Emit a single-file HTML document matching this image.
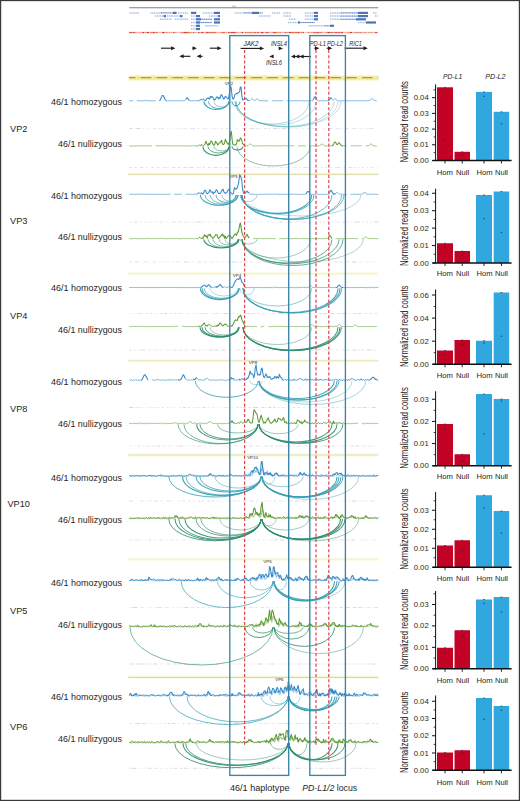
<!DOCTYPE html>
<html><head><meta charset="utf-8"><style>
html,body{margin:0;padding:0;background:#fff;}
svg{display:block;}
text{font-family:"Liberation Sans", sans-serif;fill:#262626;}
</style></head><body>
<svg width="520" height="801" viewBox="0 0 520 801">
<rect x="0" y="0" width="520" height="801" fill="#fff"/>
<line x1="129.3" y1="7.8" x2="378.3" y2="7.8" stroke="#7c7c7c" stroke-width="1.1"/>
<line x1="232" y1="6.2" x2="236" y2="6.2" stroke="#999" stroke-width="0.6"/>
<line x1="129.5" y1="12.9" x2="139" y2="12.9" stroke="#8db0e2" stroke-width="1.5" stroke-dasharray="1.1 0.6" opacity="0.8"/>
<line x1="150.5" y1="12.9" x2="160" y2="12.9" stroke="#8db0e2" stroke-width="1.5" stroke-dasharray="1.1 0.6" opacity="0.8"/>
<line x1="160" y1="12.9" x2="172.7" y2="12.9" stroke="#5d86c8" stroke-width="0.7"/>
<line x1="161.5" y1="12.1" x2="161.5" y2="13.700000000000001" stroke="#5d86c8" stroke-width="0.5"/>
<line x1="163.7" y1="12.1" x2="163.7" y2="13.700000000000001" stroke="#5d86c8" stroke-width="0.5"/>
<line x1="165.9" y1="12.1" x2="165.9" y2="13.700000000000001" stroke="#5d86c8" stroke-width="0.5"/>
<line x1="168.1" y1="12.1" x2="168.1" y2="13.700000000000001" stroke="#5d86c8" stroke-width="0.5"/>
<line x1="170.3" y1="12.1" x2="170.3" y2="13.700000000000001" stroke="#5d86c8" stroke-width="0.5"/>
<rect x="172.7" y="11.8" width="3.9000000000000057" height="2.2" fill="#3b64b0" opacity="0.9"/>
<line x1="178" y1="12.9" x2="188" y2="12.9" stroke="#8db0e2" stroke-width="1.5" stroke-dasharray="1.1 0.6" opacity="0.8"/>
<rect x="191" y="11.8" width="5.300000000000011" height="2.2" fill="#3b64b0" opacity="0.9"/>
<line x1="202.7" y1="12.9" x2="214" y2="12.9" stroke="#8db0e2" stroke-width="1.5" stroke-dasharray="1.1 0.6" opacity="0.8"/>
<rect x="214" y="11.8" width="6" height="2.2" fill="#3b64b0" opacity="0.9"/>
<line x1="234.6" y1="12.9" x2="243" y2="12.9" stroke="#8db0e2" stroke-width="1.5" stroke-dasharray="1.1 0.6" opacity="0.8"/>
<line x1="243" y1="12.9" x2="252" y2="12.9" stroke="#5d86c8" stroke-width="0.7"/>
<line x1="244.5" y1="12.1" x2="244.5" y2="13.700000000000001" stroke="#5d86c8" stroke-width="0.5"/>
<line x1="246.7" y1="12.1" x2="246.7" y2="13.700000000000001" stroke="#5d86c8" stroke-width="0.5"/>
<line x1="248.9" y1="12.1" x2="248.9" y2="13.700000000000001" stroke="#5d86c8" stroke-width="0.5"/>
<line x1="251.1" y1="12.1" x2="251.1" y2="13.700000000000001" stroke="#5d86c8" stroke-width="0.5"/>
<rect x="252" y="11.8" width="7" height="2.2" fill="#3b64b0" opacity="0.9"/>
<line x1="259" y1="12.9" x2="263" y2="12.9" stroke="#5d86c8" stroke-width="0.7"/>
<line x1="260.5" y1="12.1" x2="260.5" y2="13.700000000000001" stroke="#5d86c8" stroke-width="0.5"/>
<line x1="272" y1="12.9" x2="280" y2="12.9" stroke="#8db0e2" stroke-width="1.5" stroke-dasharray="1.1 0.6" opacity="0.8"/>
<line x1="283.5" y1="12.9" x2="291" y2="12.9" stroke="#8db0e2" stroke-width="1.5" stroke-dasharray="1.1 0.6" opacity="0.8"/>
<line x1="305" y1="12.9" x2="314" y2="12.9" stroke="#8db0e2" stroke-width="1.5" stroke-dasharray="1.1 0.6" opacity="0.8"/>
<rect x="314" y="11.8" width="4" height="2.2" fill="#3b64b0" opacity="0.9"/>
<line x1="330" y1="12.9" x2="340" y2="12.9" stroke="#8db0e2" stroke-width="1.5" stroke-dasharray="1.1 0.6" opacity="0.8"/>
<line x1="340" y1="12.9" x2="358" y2="12.9" stroke="#5d86c8" stroke-width="0.7"/>
<line x1="341.5" y1="12.1" x2="341.5" y2="13.700000000000001" stroke="#5d86c8" stroke-width="0.5"/>
<line x1="343.7" y1="12.1" x2="343.7" y2="13.700000000000001" stroke="#5d86c8" stroke-width="0.5"/>
<line x1="345.9" y1="12.1" x2="345.9" y2="13.700000000000001" stroke="#5d86c8" stroke-width="0.5"/>
<line x1="348.1" y1="12.1" x2="348.1" y2="13.700000000000001" stroke="#5d86c8" stroke-width="0.5"/>
<line x1="350.3" y1="12.1" x2="350.3" y2="13.700000000000001" stroke="#5d86c8" stroke-width="0.5"/>
<line x1="352.5" y1="12.1" x2="352.5" y2="13.700000000000001" stroke="#5d86c8" stroke-width="0.5"/>
<line x1="354.7" y1="12.1" x2="354.7" y2="13.700000000000001" stroke="#5d86c8" stroke-width="0.5"/>
<line x1="356.9" y1="12.1" x2="356.9" y2="13.700000000000001" stroke="#5d86c8" stroke-width="0.5"/>
<rect x="358" y="11.8" width="10" height="2.2" fill="#3b64b0" opacity="0.9"/>
<line x1="373" y1="12.9" x2="377" y2="12.9" stroke="#8db0e2" stroke-width="1.5" stroke-dasharray="1.1 0.6" opacity="0.8"/>
<line x1="155" y1="16.1" x2="163" y2="16.1" stroke="#8db0e2" stroke-width="1.5" stroke-dasharray="1.1 0.6" opacity="0.8"/>
<rect x="163.5" y="15.000000000000002" width="2.5" height="2.2" fill="#3b64b0" opacity="0.9"/>
<line x1="167" y1="16.1" x2="180" y2="16.1" stroke="#8db0e2" stroke-width="1.5" stroke-dasharray="1.1 0.6" opacity="0.8"/>
<rect x="180" y="15.000000000000002" width="2.5" height="2.2" fill="#3b64b0" opacity="0.9"/>
<line x1="191" y1="16.1" x2="196" y2="16.1" stroke="#8db0e2" stroke-width="1.5" stroke-dasharray="1.1 0.6" opacity="0.8"/>
<rect x="196" y="15.000000000000002" width="4" height="2.2" fill="#3b64b0" opacity="0.9"/>
<line x1="209" y1="16.1" x2="218" y2="16.1" stroke="#8db0e2" stroke-width="1.5" stroke-dasharray="1.1 0.6" opacity="0.8"/>
<rect x="218" y="15.000000000000002" width="2" height="2.2" fill="#3b64b0" opacity="0.9"/>
<line x1="259" y1="16.1" x2="271" y2="16.1" stroke="#8db0e2" stroke-width="1.5" stroke-dasharray="1.1 0.6" opacity="0.8"/>
<line x1="283.5" y1="16.1" x2="291" y2="16.1" stroke="#8db0e2" stroke-width="1.5" stroke-dasharray="1.1 0.6" opacity="0.8"/>
<line x1="305" y1="16.1" x2="314" y2="16.1" stroke="#8db0e2" stroke-width="1.5" stroke-dasharray="1.1 0.6" opacity="0.8"/>
<rect x="314" y="15.000000000000002" width="4" height="2.2" fill="#3b64b0" opacity="0.9"/>
<line x1="330" y1="16.1" x2="340" y2="16.1" stroke="#8db0e2" stroke-width="1.5" stroke-dasharray="1.1 0.6" opacity="0.8"/>
<line x1="340" y1="16.1" x2="358" y2="16.1" stroke="#5d86c8" stroke-width="0.7"/>
<line x1="341.5" y1="15.3" x2="341.5" y2="16.900000000000002" stroke="#5d86c8" stroke-width="0.5"/>
<line x1="343.7" y1="15.3" x2="343.7" y2="16.900000000000002" stroke="#5d86c8" stroke-width="0.5"/>
<line x1="345.9" y1="15.3" x2="345.9" y2="16.900000000000002" stroke="#5d86c8" stroke-width="0.5"/>
<line x1="348.1" y1="15.3" x2="348.1" y2="16.900000000000002" stroke="#5d86c8" stroke-width="0.5"/>
<line x1="350.3" y1="15.3" x2="350.3" y2="16.900000000000002" stroke="#5d86c8" stroke-width="0.5"/>
<line x1="352.5" y1="15.3" x2="352.5" y2="16.900000000000002" stroke="#5d86c8" stroke-width="0.5"/>
<line x1="354.7" y1="15.3" x2="354.7" y2="16.900000000000002" stroke="#5d86c8" stroke-width="0.5"/>
<line x1="356.9" y1="15.3" x2="356.9" y2="16.900000000000002" stroke="#5d86c8" stroke-width="0.5"/>
<rect x="358" y="15.000000000000002" width="10" height="2.2" fill="#3b64b0" opacity="0.9"/>
<line x1="375" y1="16.1" x2="378" y2="16.1" stroke="#8db0e2" stroke-width="1.5" stroke-dasharray="1.1 0.6" opacity="0.8"/>
<line x1="160" y1="19.3" x2="172" y2="19.3" stroke="#8db0e2" stroke-width="1.5" stroke-dasharray="1.1 0.6" opacity="0.8"/>
<line x1="175" y1="19.3" x2="188" y2="19.3" stroke="#8db0e2" stroke-width="1.5" stroke-dasharray="1.1 0.6" opacity="0.8"/>
<line x1="191" y1="19.3" x2="196" y2="19.3" stroke="#8db0e2" stroke-width="1.5" stroke-dasharray="1.1 0.6" opacity="0.8"/>
<rect x="196" y="18.2" width="5" height="2.2" fill="#3b64b0" opacity="0.9"/>
<line x1="201" y1="19.3" x2="212" y2="19.3" stroke="#5d86c8" stroke-width="0.7"/>
<line x1="202.5" y1="18.5" x2="202.5" y2="20.1" stroke="#5d86c8" stroke-width="0.5"/>
<line x1="204.7" y1="18.5" x2="204.7" y2="20.1" stroke="#5d86c8" stroke-width="0.5"/>
<line x1="206.9" y1="18.5" x2="206.9" y2="20.1" stroke="#5d86c8" stroke-width="0.5"/>
<line x1="209.1" y1="18.5" x2="209.1" y2="20.1" stroke="#5d86c8" stroke-width="0.5"/>
<line x1="211.3" y1="18.5" x2="211.3" y2="20.1" stroke="#5d86c8" stroke-width="0.5"/>
<rect x="214" y="18.2" width="6" height="2.2" fill="#3b64b0" opacity="0.9"/>
<line x1="289" y1="19.3" x2="296" y2="19.3" stroke="#8db0e2" stroke-width="1.5" stroke-dasharray="1.1 0.6" opacity="0.8"/>
<line x1="305" y1="19.3" x2="314" y2="19.3" stroke="#8db0e2" stroke-width="1.5" stroke-dasharray="1.1 0.6" opacity="0.8"/>
<rect x="314" y="18.2" width="4" height="2.2" fill="#3b64b0" opacity="0.9"/>
<line x1="330" y1="19.3" x2="340" y2="19.3" stroke="#8db0e2" stroke-width="1.5" stroke-dasharray="1.1 0.6" opacity="0.8"/>
<line x1="340" y1="19.3" x2="356" y2="19.3" stroke="#5d86c8" stroke-width="0.7"/>
<line x1="341.5" y1="18.5" x2="341.5" y2="20.1" stroke="#5d86c8" stroke-width="0.5"/>
<line x1="343.7" y1="18.5" x2="343.7" y2="20.1" stroke="#5d86c8" stroke-width="0.5"/>
<line x1="345.9" y1="18.5" x2="345.9" y2="20.1" stroke="#5d86c8" stroke-width="0.5"/>
<line x1="348.1" y1="18.5" x2="348.1" y2="20.1" stroke="#5d86c8" stroke-width="0.5"/>
<line x1="350.3" y1="18.5" x2="350.3" y2="20.1" stroke="#5d86c8" stroke-width="0.5"/>
<line x1="352.5" y1="18.5" x2="352.5" y2="20.1" stroke="#5d86c8" stroke-width="0.5"/>
<line x1="354.7" y1="18.5" x2="354.7" y2="20.1" stroke="#5d86c8" stroke-width="0.5"/>
<rect x="356" y="18.2" width="10" height="2.2" fill="#3b64b0" opacity="0.9"/>
<line x1="191" y1="22.5" x2="196" y2="22.5" stroke="#8db0e2" stroke-width="1.5" stroke-dasharray="1.1 0.6" opacity="0.8"/>
<rect x="196" y="21.4" width="4" height="2.2" fill="#3b64b0" opacity="0.9"/>
<line x1="200" y1="22.5" x2="212" y2="22.5" stroke="#5d86c8" stroke-width="0.7"/>
<line x1="201.5" y1="21.7" x2="201.5" y2="23.3" stroke="#5d86c8" stroke-width="0.5"/>
<line x1="203.7" y1="21.7" x2="203.7" y2="23.3" stroke="#5d86c8" stroke-width="0.5"/>
<line x1="205.9" y1="21.7" x2="205.9" y2="23.3" stroke="#5d86c8" stroke-width="0.5"/>
<line x1="208.1" y1="21.7" x2="208.1" y2="23.3" stroke="#5d86c8" stroke-width="0.5"/>
<line x1="210.3" y1="21.7" x2="210.3" y2="23.3" stroke="#5d86c8" stroke-width="0.5"/>
<rect x="214" y="21.4" width="6" height="2.2" fill="#3b64b0" opacity="0.9"/>
<line x1="288" y1="22.5" x2="298" y2="22.5" stroke="#8db0e2" stroke-width="1.5" stroke-dasharray="1.1 0.6" opacity="0.8"/>
<rect x="298" y="21.4" width="2" height="2.2" fill="#3b64b0" opacity="0.9"/>
<line x1="300" y1="22.5" x2="315" y2="22.5" stroke="#5d86c8" stroke-width="0.7"/>
<line x1="301.5" y1="21.7" x2="301.5" y2="23.3" stroke="#5d86c8" stroke-width="0.5"/>
<line x1="303.7" y1="21.7" x2="303.7" y2="23.3" stroke="#5d86c8" stroke-width="0.5"/>
<line x1="305.9" y1="21.7" x2="305.9" y2="23.3" stroke="#5d86c8" stroke-width="0.5"/>
<line x1="308.1" y1="21.7" x2="308.1" y2="23.3" stroke="#5d86c8" stroke-width="0.5"/>
<line x1="310.3" y1="21.7" x2="310.3" y2="23.3" stroke="#5d86c8" stroke-width="0.5"/>
<line x1="312.5" y1="21.7" x2="312.5" y2="23.3" stroke="#5d86c8" stroke-width="0.5"/>
<line x1="358" y1="22.5" x2="366" y2="22.5" stroke="#8db0e2" stroke-width="1.5" stroke-dasharray="1.1 0.6" opacity="0.8"/>
<rect x="366" y="21.4" width="10" height="2.2" fill="#3b64b0" opacity="0.9"/>
<line x1="191" y1="25.8" x2="196" y2="25.8" stroke="#8db0e2" stroke-width="1.5" stroke-dasharray="1.1 0.6" opacity="0.8"/>
<rect x="196" y="24.7" width="4" height="2.2" fill="#3b64b0" opacity="0.9"/>
<line x1="205" y1="25.8" x2="218" y2="25.8" stroke="#8db0e2" stroke-width="1.5" stroke-dasharray="1.1 0.6" opacity="0.8"/>
<line x1="309" y1="25.8" x2="324" y2="25.8" stroke="#8db0e2" stroke-width="1.5" stroke-dasharray="1.1 0.6" opacity="0.8"/>
<line x1="324" y1="25.8" x2="330" y2="25.8" stroke="#5d86c8" stroke-width="0.7"/>
<line x1="325.5" y1="25.0" x2="325.5" y2="26.6" stroke="#5d86c8" stroke-width="0.5"/>
<line x1="327.7" y1="25.0" x2="327.7" y2="26.6" stroke="#5d86c8" stroke-width="0.5"/>
<rect x="330" y="24.7" width="4" height="2.2" fill="#3b64b0" opacity="0.9"/>
<line x1="191" y1="29.0" x2="196" y2="29.0" stroke="#8db0e2" stroke-width="1.5" stroke-dasharray="1.1 0.6" opacity="0.8"/>
<rect x="196" y="27.9" width="4" height="2.2" fill="#3b64b0" opacity="0.9"/>
<rect x="129.3" y="31.9" width="1.4" height="1.3" fill="#d83a36"/>
<rect x="130.7" y="31.9" width="1.8" height="1.3" fill="#d83a36"/>
<rect x="133.1" y="31.9" width="2.5" height="1.3" fill="#e24a44"/>
<rect x="135.6" y="31.9" width="3.3" height="1.3" fill="#f6b0a4"/>
<rect x="139.2" y="31.9" width="2.3" height="1.3" fill="#f39284"/>
<rect x="142.1" y="31.9" width="2.3" height="1.3" fill="#d83a36"/>
<rect x="144.9" y="31.9" width="1.9" height="1.3" fill="#f39284"/>
<rect x="146.8" y="31.9" width="2.5" height="1.3" fill="#d83a36"/>
<rect x="149.9" y="31.9" width="2.8" height="1.3" fill="#ee7e64"/>
<rect x="152.7" y="31.9" width="1.2" height="1.3" fill="#d83a36"/>
<rect x="154.0" y="31.9" width="1.6" height="1.3" fill="#e24a44"/>
<rect x="155.9" y="31.9" width="2.1" height="1.3" fill="#ee7e64"/>
<rect x="158.5" y="31.9" width="2.7" height="1.3" fill="#f6b0a4"/>
<rect x="161.9" y="31.9" width="2.8" height="1.3" fill="#d83a36"/>
<rect x="165.2" y="31.9" width="3.4" height="1.3" fill="#f39284"/>
<rect x="168.9" y="31.9" width="1.1" height="1.3" fill="#f39284"/>
<rect x="170.6" y="31.9" width="1.4" height="1.3" fill="#ee7e64"/>
<rect x="172.6" y="31.9" width="2.9" height="1.3" fill="#ea6a3c"/>
<rect x="176.1" y="31.9" width="2.2" height="1.3" fill="#f6b0a4"/>
<rect x="178.6" y="31.9" width="2.2" height="1.3" fill="#f6b0a4"/>
<rect x="180.8" y="31.9" width="3.2" height="1.3" fill="#ee7e64"/>
<rect x="184.0" y="31.9" width="3.1" height="1.3" fill="#d83a36"/>
<rect x="187.2" y="31.9" width="2.7" height="1.3" fill="#ea6a3c"/>
<rect x="189.8" y="31.9" width="2.7" height="1.3" fill="#f39284"/>
<rect x="192.9" y="31.9" width="1.6" height="1.3" fill="#e24a44"/>
<rect x="195.0" y="31.9" width="3.1" height="1.3" fill="#f6b0a4"/>
<rect x="198.1" y="31.9" width="1.7" height="1.3" fill="#e24a44"/>
<rect x="200.5" y="31.9" width="3.2" height="1.3" fill="#e24a44"/>
<rect x="204.0" y="31.9" width="2.0" height="1.3" fill="#f6b0a4"/>
<rect x="205.9" y="31.9" width="0.9" height="1.3" fill="#d83a36"/>
<rect x="206.9" y="31.9" width="1.8" height="1.3" fill="#d83a36"/>
<rect x="209.0" y="31.9" width="2.3" height="1.3" fill="#ea6a3c"/>
<rect x="211.3" y="31.9" width="3.5" height="1.3" fill="#ea6a3c"/>
<rect x="214.8" y="31.9" width="1.0" height="1.3" fill="#d83a36"/>
<rect x="215.8" y="31.9" width="3.4" height="1.3" fill="#f6b0a4"/>
<rect x="219.4" y="31.9" width="2.4" height="1.3" fill="#f39284"/>
<rect x="221.9" y="31.9" width="3.4" height="1.3" fill="#ea6a3c"/>
<rect x="225.6" y="31.9" width="1.8" height="1.3" fill="#f39284"/>
<rect x="228.0" y="31.9" width="1.8" height="1.3" fill="#d83a36"/>
<rect x="230.4" y="31.9" width="2.5" height="1.3" fill="#d83a36"/>
<rect x="233.0" y="31.9" width="2.5" height="1.3" fill="#d83a36"/>
<rect x="235.7" y="31.9" width="2.0" height="1.3" fill="#ee7e64"/>
<rect x="237.7" y="31.9" width="3.3" height="1.3" fill="#f6b0a4"/>
<rect x="241.3" y="31.9" width="2.2" height="1.3" fill="#d83a36"/>
<rect x="243.8" y="31.9" width="0.8" height="1.3" fill="#f6b0a4"/>
<rect x="245.0" y="31.9" width="0.9" height="1.3" fill="#d83a36"/>
<rect x="245.8" y="31.9" width="1.0" height="1.3" fill="#ee7e64"/>
<rect x="247.1" y="31.9" width="2.1" height="1.3" fill="#ee7e64"/>
<rect x="249.4" y="31.9" width="2.4" height="1.3" fill="#ea6a3c"/>
<rect x="252.5" y="31.9" width="0.9" height="1.3" fill="#e24a44"/>
<rect x="253.3" y="31.9" width="3.4" height="1.3" fill="#ea6a3c"/>
<rect x="257.3" y="31.9" width="1.6" height="1.3" fill="#d83a36"/>
<rect x="259.3" y="31.9" width="1.3" height="1.3" fill="#f39284"/>
<rect x="260.8" y="31.9" width="2.8" height="1.3" fill="#d83a36"/>
<rect x="264.0" y="31.9" width="1.6" height="1.3" fill="#f6b0a4"/>
<rect x="265.6" y="31.9" width="2.9" height="1.3" fill="#e24a44"/>
<rect x="268.5" y="31.9" width="1.6" height="1.3" fill="#f39284"/>
<rect x="270.4" y="31.9" width="1.4" height="1.3" fill="#f39284"/>
<rect x="272.5" y="31.9" width="2.6" height="1.3" fill="#e24a44"/>
<rect x="275.0" y="31.9" width="2.4" height="1.3" fill="#ea6a3c"/>
<rect x="277.4" y="31.9" width="2.0" height="1.3" fill="#f39284"/>
<rect x="279.4" y="31.9" width="1.7" height="1.3" fill="#ee7e64"/>
<rect x="281.1" y="31.9" width="3.2" height="1.3" fill="#f6b0a4"/>
<rect x="284.6" y="31.9" width="1.4" height="1.3" fill="#e24a44"/>
<rect x="286.0" y="31.9" width="2.2" height="1.3" fill="#f39284"/>
<rect x="288.6" y="31.9" width="3.0" height="1.3" fill="#d83a36"/>
<rect x="291.5" y="31.9" width="3.1" height="1.3" fill="#ea6a3c"/>
<rect x="294.7" y="31.9" width="3.0" height="1.3" fill="#ea6a3c"/>
<rect x="297.6" y="31.9" width="1.9" height="1.3" fill="#d83a36"/>
<rect x="299.9" y="31.9" width="2.1" height="1.3" fill="#ee7e64"/>
<rect x="302.5" y="31.9" width="1.6" height="1.3" fill="#d83a36"/>
<rect x="304.7" y="31.9" width="0.9" height="1.3" fill="#f6b0a4"/>
<rect x="305.6" y="31.9" width="1.3" height="1.3" fill="#f6b0a4"/>
<rect x="307.6" y="31.9" width="2.3" height="1.3" fill="#ee7e64"/>
<rect x="309.9" y="31.9" width="0.9" height="1.3" fill="#f6b0a4"/>
<rect x="311.0" y="31.9" width="2.3" height="1.3" fill="#f39284"/>
<rect x="313.3" y="31.9" width="3.1" height="1.3" fill="#ea6a3c"/>
<rect x="316.4" y="31.9" width="3.0" height="1.3" fill="#e24a44"/>
<rect x="319.4" y="31.9" width="3.2" height="1.3" fill="#ee7e64"/>
<rect x="322.7" y="31.9" width="3.2" height="1.3" fill="#f6b0a4"/>
<rect x="325.9" y="31.9" width="0.8" height="1.3" fill="#ee7e64"/>
<rect x="326.7" y="31.9" width="1.3" height="1.3" fill="#ea6a3c"/>
<rect x="328.0" y="31.9" width="2.6" height="1.3" fill="#d83a36"/>
<rect x="331.2" y="31.9" width="0.9" height="1.3" fill="#d83a36"/>
<rect x="332.1" y="31.9" width="1.7" height="1.3" fill="#ea6a3c"/>
<rect x="334.4" y="31.9" width="3.0" height="1.3" fill="#e24a44"/>
<rect x="337.7" y="31.9" width="1.4" height="1.3" fill="#e24a44"/>
<rect x="339.1" y="31.9" width="1.3" height="1.3" fill="#ea6a3c"/>
<rect x="340.4" y="31.9" width="3.0" height="1.3" fill="#e24a44"/>
<rect x="344.0" y="31.9" width="2.5" height="1.3" fill="#f6b0a4"/>
<rect x="346.5" y="31.9" width="2.8" height="1.3" fill="#f39284"/>
<rect x="349.6" y="31.9" width="2.5" height="1.3" fill="#d83a36"/>
<rect x="352.7" y="31.9" width="0.9" height="1.3" fill="#ea6a3c"/>
<rect x="353.7" y="31.9" width="3.1" height="1.3" fill="#f39284"/>
<rect x="356.8" y="31.9" width="1.1" height="1.3" fill="#e24a44"/>
<rect x="358.5" y="31.9" width="3.4" height="1.3" fill="#ee7e64"/>
<rect x="361.9" y="31.9" width="2.2" height="1.3" fill="#f6b0a4"/>
<rect x="364.4" y="31.9" width="1.2" height="1.3" fill="#e24a44"/>
<rect x="366.0" y="31.9" width="1.8" height="1.3" fill="#f6b0a4"/>
<rect x="368.1" y="31.9" width="1.8" height="1.3" fill="#f39284"/>
<rect x="370.2" y="31.9" width="2.0" height="1.3" fill="#f39284"/>
<rect x="372.1" y="31.9" width="2.7" height="1.3" fill="#f6b0a4"/>
<rect x="374.9" y="31.9" width="2.3" height="1.3" fill="#e24a44"/>
<rect x="377.5" y="31.9" width="0.5" height="1.3" fill="#ee7e64"/>
<line x1="161" y1="48.2" x2="172.82" y2="48.2" stroke="#1e1e1e" stroke-width="1.15"/>
<path d="M175.4 48.2 L171.1 46.265 L171.1 50.135000000000005 Z" fill="#1e1e1e"/>
<line x1="192.5" y1="48.2" x2="194.32" y2="48.2" stroke="#1e1e1e" stroke-width="1.15"/>
<path d="M196.9 48.2 L192.6 46.265 L192.6 50.135000000000005 Z" fill="#1e1e1e"/>
<line x1="209.8" y1="48.2" x2="219.01999999999998" y2="48.2" stroke="#1e1e1e" stroke-width="1.15"/>
<path d="M221.6 48.2 L217.29999999999998 46.265 L217.29999999999998 50.135000000000005 Z" fill="#1e1e1e"/>
<line x1="190.4" y1="56.3" x2="181.88000000000002" y2="56.3" stroke="#1e1e1e" stroke-width="1.15"/>
<path d="M179.3 56.3 L183.60000000000002 54.364999999999995 L183.60000000000002 58.235 Z" fill="#1e1e1e"/>
<line x1="202.6" y1="56.3" x2="199.18" y2="56.3" stroke="#1e1e1e" stroke-width="1.15"/>
<path d="M196.6 56.3 L200.9 54.364999999999995 L200.9 58.235 Z" fill="#1e1e1e"/>
<line x1="240.6" y1="48.4" x2="261.62" y2="48.4" stroke="#1e1e1e" stroke-width="1.15"/>
<path d="M264.2 48.4 L259.9 46.464999999999996 L259.9 50.335 Z" fill="#1e1e1e"/>
<line x1="279" y1="48.4" x2="280.42" y2="48.4" stroke="#1e1e1e" stroke-width="1.15"/>
<path d="M283 48.4 L278.7 46.464999999999996 L278.7 50.335 Z" fill="#1e1e1e"/>
<line x1="273" y1="56.4" x2="271.88" y2="56.4" stroke="#1e1e1e" stroke-width="1.15"/>
<path d="M269.3 56.4 L273.6 54.464999999999996 L273.6 58.335 Z" fill="#1e1e1e"/>
<line x1="293" y1="56.5" x2="311" y2="56.5" stroke="#1e1e1e" stroke-width="1.15"/>
<path d="M291.0 56.5 L295.0 54.5 L295.0 58.5 Z" fill="#1e1e1e"/>
<path d="M295.3 56.5 L299.3 54.5 L299.3 58.5 Z" fill="#1e1e1e"/>
<path d="M299.6 56.5 L303.6 54.5 L303.6 58.5 Z" fill="#1e1e1e"/>
<line x1="314.3" y1="48.2" x2="316.72" y2="48.2" stroke="#1e1e1e" stroke-width="1.15"/>
<path d="M319.3 48.2 L315.0 46.265 L315.0 50.135000000000005 Z" fill="#1e1e1e"/>
<line x1="326.7" y1="48.2" x2="329.72" y2="48.2" stroke="#1e1e1e" stroke-width="1.15"/>
<path d="M332.3 48.2 L328.0 46.265 L328.0 50.135000000000005 Z" fill="#1e1e1e"/>
<line x1="344.6" y1="48.2" x2="365.22" y2="48.2" stroke="#1e1e1e" stroke-width="1.15"/>
<path d="M367.8 48.2 L363.5 46.265 L363.5 50.135000000000005 Z" fill="#1e1e1e"/>
<text x="243.5" y="46" font-size="7.2" font-style="italic" fill="#333" textLength="15" lengthAdjust="spacingAndGlyphs">JAK2</text>
<text x="271" y="46" font-size="7.2" font-style="italic" fill="#333" textLength="16" lengthAdjust="spacingAndGlyphs">INSL4</text>
<text x="266" y="64.8" font-size="7.2" font-style="italic" fill="#333" textLength="16" lengthAdjust="spacingAndGlyphs">INSL6</text>
<text x="309.8" y="46" font-size="7.2" font-style="italic" fill="#333" textLength="16.2" lengthAdjust="spacingAndGlyphs">PD-L1</text>
<text x="327" y="46" font-size="7.2" font-style="italic" fill="#333" textLength="16" lengthAdjust="spacingAndGlyphs">PD-L2</text>
<text x="349.2" y="46" font-size="7.2" font-style="italic" fill="#333" textLength="12.5" lengthAdjust="spacingAndGlyphs">RIC1</text>
<rect x="128.8" y="75.6" width="249.5" height="4.8" fill="#f6ec9f"/>
<line x1="128.8" y1="77.7" x2="378.3" y2="77.7" stroke="#a39868" stroke-width="1.3" stroke-dasharray="10.6 5.2" stroke-dashoffset="3.8"/>
<line x1="128.8" y1="77.7" x2="378.3" y2="77.7" stroke="#c4bc98" stroke-width="1" stroke-dasharray="1 15" stroke-dashoffset="-9.5"/>
<line x1="129.3" y1="128.6" x2="132.8" y2="128.6" stroke="#aeaad4" stroke-width="1" opacity="0.42"/>
<line x1="135.6" y1="128.6" x2="140.4" y2="128.6" stroke="#aeaad4" stroke-width="1" opacity="0.47"/>
<line x1="143.2" y1="128.6" x2="144.3" y2="128.6" stroke="#aeaad4" stroke-width="1" opacity="0.48"/>
<line x1="146.3" y1="128.6" x2="149.9" y2="128.6" stroke="#aeaad4" stroke-width="1" opacity="0.16"/>
<line x1="153.2" y1="128.6" x2="156.0" y2="128.6" stroke="#aeaad4" stroke-width="1" opacity="0.33"/>
<line x1="157.5" y1="128.6" x2="160.8" y2="128.6" stroke="#aeaad4" stroke-width="1" opacity="0.20"/>
<line x1="161.6" y1="128.6" x2="163.8" y2="128.6" stroke="#aeaad4" stroke-width="1" opacity="0.41"/>
<line x1="167.0" y1="128.6" x2="168.7" y2="128.6" stroke="#aeaad4" stroke-width="1" opacity="0.17"/>
<line x1="171.6" y1="128.6" x2="175.1" y2="128.6" stroke="#aeaad4" stroke-width="1" opacity="0.12"/>
<line x1="176.2" y1="128.6" x2="180.7" y2="128.6" stroke="#aeaad4" stroke-width="1" opacity="0.20"/>
<line x1="182.1" y1="128.6" x2="187.0" y2="128.6" stroke="#aeaad4" stroke-width="1" opacity="0.23"/>
<line x1="190.2" y1="128.6" x2="195.0" y2="128.6" stroke="#aeaad4" stroke-width="1" opacity="0.38"/>
<line x1="197.3" y1="128.6" x2="199.1" y2="128.6" stroke="#aeaad4" stroke-width="1" opacity="0.38"/>
<line x1="202.4" y1="128.6" x2="207.3" y2="128.6" stroke="#aeaad4" stroke-width="1" opacity="0.23"/>
<line x1="210.5" y1="128.6" x2="213.0" y2="128.6" stroke="#aeaad4" stroke-width="1" opacity="0.18"/>
<line x1="214.2" y1="128.6" x2="215.5" y2="128.6" stroke="#aeaad4" stroke-width="1" opacity="0.35"/>
<line x1="217.1" y1="128.6" x2="218.1" y2="128.6" stroke="#aeaad4" stroke-width="1" opacity="0.25"/>
<line x1="220.7" y1="128.6" x2="223.0" y2="128.6" stroke="#aeaad4" stroke-width="1" opacity="0.30"/>
<line x1="226.0" y1="128.6" x2="228.2" y2="128.6" stroke="#aeaad4" stroke-width="1" opacity="0.39"/>
<line x1="230.3" y1="128.6" x2="231.6" y2="128.6" stroke="#aeaad4" stroke-width="1" opacity="0.13"/>
<line x1="235.0" y1="128.6" x2="239.0" y2="128.6" stroke="#aeaad4" stroke-width="1" opacity="0.13"/>
<line x1="242.1" y1="128.6" x2="246.2" y2="128.6" stroke="#aeaad4" stroke-width="1" opacity="0.34"/>
<line x1="248.0" y1="128.6" x2="249.0" y2="128.6" stroke="#aeaad4" stroke-width="1" opacity="0.19"/>
<line x1="250.0" y1="128.6" x2="254.8" y2="128.6" stroke="#aeaad4" stroke-width="1" opacity="0.41"/>
<line x1="256.1" y1="128.6" x2="260.8" y2="128.6" stroke="#aeaad4" stroke-width="1" opacity="0.25"/>
<line x1="264.2" y1="128.6" x2="266.6" y2="128.6" stroke="#aeaad4" stroke-width="1" opacity="0.41"/>
<line x1="268.8" y1="128.6" x2="270.3" y2="128.6" stroke="#aeaad4" stroke-width="1" opacity="0.42"/>
<line x1="273.1" y1="128.6" x2="277.5" y2="128.6" stroke="#aeaad4" stroke-width="1" opacity="0.48"/>
<line x1="278.4" y1="128.6" x2="279.8" y2="128.6" stroke="#aeaad4" stroke-width="1" opacity="0.35"/>
<line x1="281.5" y1="128.6" x2="286.2" y2="128.6" stroke="#aeaad4" stroke-width="1" opacity="0.47"/>
<line x1="287.9" y1="128.6" x2="291.1" y2="128.6" stroke="#aeaad4" stroke-width="1" opacity="0.24"/>
<line x1="292.7" y1="128.6" x2="294.4" y2="128.6" stroke="#aeaad4" stroke-width="1" opacity="0.18"/>
<line x1="295.4" y1="128.6" x2="299.2" y2="128.6" stroke="#aeaad4" stroke-width="1" opacity="0.18"/>
<line x1="302.7" y1="128.6" x2="303.9" y2="128.6" stroke="#aeaad4" stroke-width="1" opacity="0.32"/>
<line x1="307.3" y1="128.6" x2="310.0" y2="128.6" stroke="#aeaad4" stroke-width="1" opacity="0.35"/>
<line x1="311.4" y1="128.6" x2="315.7" y2="128.6" stroke="#aeaad4" stroke-width="1" opacity="0.28"/>
<line x1="317.7" y1="128.6" x2="319.0" y2="128.6" stroke="#aeaad4" stroke-width="1" opacity="0.13"/>
<line x1="322.2" y1="128.6" x2="325.2" y2="128.6" stroke="#aeaad4" stroke-width="1" opacity="0.17"/>
<line x1="328.3" y1="128.6" x2="332.2" y2="128.6" stroke="#aeaad4" stroke-width="1" opacity="0.36"/>
<line x1="335.6" y1="128.6" x2="339.7" y2="128.6" stroke="#aeaad4" stroke-width="1" opacity="0.29"/>
<line x1="340.8" y1="128.6" x2="342.4" y2="128.6" stroke="#aeaad4" stroke-width="1" opacity="0.23"/>
<line x1="345.5" y1="128.6" x2="348.3" y2="128.6" stroke="#aeaad4" stroke-width="1" opacity="0.44"/>
<line x1="351.8" y1="128.6" x2="356.7" y2="128.6" stroke="#aeaad4" stroke-width="1" opacity="0.31"/>
<line x1="358.7" y1="128.6" x2="362.6" y2="128.6" stroke="#aeaad4" stroke-width="1" opacity="0.23"/>
<line x1="364.7" y1="128.6" x2="367.4" y2="128.6" stroke="#aeaad4" stroke-width="1" opacity="0.26"/>
<line x1="368.5" y1="128.6" x2="373.5" y2="128.6" stroke="#aeaad4" stroke-width="1" opacity="0.36"/>
<line x1="376.9" y1="128.6" x2="378.3" y2="128.6" stroke="#aeaad4" stroke-width="1" opacity="0.15"/>
<line x1="129.3" y1="167.6" x2="131.4" y2="167.6" stroke="#aeaad4" stroke-width="1" opacity="0.45"/>
<line x1="134.3" y1="167.6" x2="136.7" y2="167.6" stroke="#aeaad4" stroke-width="1" opacity="0.41"/>
<line x1="139.7" y1="167.6" x2="143.4" y2="167.6" stroke="#aeaad4" stroke-width="1" opacity="0.41"/>
<line x1="146.0" y1="167.6" x2="148.5" y2="167.6" stroke="#aeaad4" stroke-width="1" opacity="0.23"/>
<line x1="151.2" y1="167.6" x2="154.1" y2="167.6" stroke="#aeaad4" stroke-width="1" opacity="0.38"/>
<line x1="157.0" y1="167.6" x2="159.2" y2="167.6" stroke="#aeaad4" stroke-width="1" opacity="0.37"/>
<line x1="162.5" y1="167.6" x2="165.9" y2="167.6" stroke="#aeaad4" stroke-width="1" opacity="0.33"/>
<line x1="166.7" y1="167.6" x2="168.7" y2="167.6" stroke="#aeaad4" stroke-width="1" opacity="0.30"/>
<line x1="171.3" y1="167.6" x2="175.6" y2="167.6" stroke="#aeaad4" stroke-width="1" opacity="0.42"/>
<line x1="178.1" y1="167.6" x2="180.5" y2="167.6" stroke="#aeaad4" stroke-width="1" opacity="0.40"/>
<line x1="183.1" y1="167.6" x2="187.4" y2="167.6" stroke="#aeaad4" stroke-width="1" opacity="0.44"/>
<line x1="189.1" y1="167.6" x2="193.6" y2="167.6" stroke="#aeaad4" stroke-width="1" opacity="0.49"/>
<line x1="196.3" y1="167.6" x2="201.1" y2="167.6" stroke="#aeaad4" stroke-width="1" opacity="0.32"/>
<line x1="203.3" y1="167.6" x2="204.9" y2="167.6" stroke="#aeaad4" stroke-width="1" opacity="0.48"/>
<line x1="208.0" y1="167.6" x2="210.9" y2="167.6" stroke="#aeaad4" stroke-width="1" opacity="0.39"/>
<line x1="213.6" y1="167.6" x2="217.5" y2="167.6" stroke="#aeaad4" stroke-width="1" opacity="0.42"/>
<line x1="218.8" y1="167.6" x2="222.1" y2="167.6" stroke="#aeaad4" stroke-width="1" opacity="0.28"/>
<line x1="224.7" y1="167.6" x2="228.2" y2="167.6" stroke="#aeaad4" stroke-width="1" opacity="0.36"/>
<line x1="231.1" y1="167.6" x2="235.0" y2="167.6" stroke="#aeaad4" stroke-width="1" opacity="0.18"/>
<line x1="235.8" y1="167.6" x2="238.6" y2="167.6" stroke="#aeaad4" stroke-width="1" opacity="0.20"/>
<line x1="241.1" y1="167.6" x2="244.9" y2="167.6" stroke="#aeaad4" stroke-width="1" opacity="0.14"/>
<line x1="247.4" y1="167.6" x2="250.3" y2="167.6" stroke="#aeaad4" stroke-width="1" opacity="0.14"/>
<line x1="251.7" y1="167.6" x2="253.2" y2="167.6" stroke="#aeaad4" stroke-width="1" opacity="0.19"/>
<line x1="254.9" y1="167.6" x2="256.7" y2="167.6" stroke="#aeaad4" stroke-width="1" opacity="0.30"/>
<line x1="257.6" y1="167.6" x2="260.1" y2="167.6" stroke="#aeaad4" stroke-width="1" opacity="0.34"/>
<line x1="262.5" y1="167.6" x2="264.5" y2="167.6" stroke="#aeaad4" stroke-width="1" opacity="0.12"/>
<line x1="267.7" y1="167.6" x2="270.3" y2="167.6" stroke="#aeaad4" stroke-width="1" opacity="0.28"/>
<line x1="271.9" y1="167.6" x2="273.4" y2="167.6" stroke="#aeaad4" stroke-width="1" opacity="0.26"/>
<line x1="276.4" y1="167.6" x2="277.5" y2="167.6" stroke="#aeaad4" stroke-width="1" opacity="0.16"/>
<line x1="280.0" y1="167.6" x2="283.2" y2="167.6" stroke="#aeaad4" stroke-width="1" opacity="0.34"/>
<line x1="284.9" y1="167.6" x2="289.7" y2="167.6" stroke="#aeaad4" stroke-width="1" opacity="0.28"/>
<line x1="292.7" y1="167.6" x2="297.0" y2="167.6" stroke="#aeaad4" stroke-width="1" opacity="0.26"/>
<line x1="299.5" y1="167.6" x2="301.1" y2="167.6" stroke="#aeaad4" stroke-width="1" opacity="0.33"/>
<line x1="303.5" y1="167.6" x2="308.3" y2="167.6" stroke="#aeaad4" stroke-width="1" opacity="0.35"/>
<line x1="311.7" y1="167.6" x2="314.1" y2="167.6" stroke="#aeaad4" stroke-width="1" opacity="0.12"/>
<line x1="317.4" y1="167.6" x2="318.8" y2="167.6" stroke="#aeaad4" stroke-width="1" opacity="0.35"/>
<line x1="321.1" y1="167.6" x2="322.7" y2="167.6" stroke="#aeaad4" stroke-width="1" opacity="0.46"/>
<line x1="325.2" y1="167.6" x2="327.7" y2="167.6" stroke="#aeaad4" stroke-width="1" opacity="0.21"/>
<line x1="329.7" y1="167.6" x2="331.8" y2="167.6" stroke="#aeaad4" stroke-width="1" opacity="0.26"/>
<line x1="335.2" y1="167.6" x2="340.1" y2="167.6" stroke="#aeaad4" stroke-width="1" opacity="0.35"/>
<line x1="343.4" y1="167.6" x2="345.4" y2="167.6" stroke="#aeaad4" stroke-width="1" opacity="0.31"/>
<line x1="348.8" y1="167.6" x2="351.5" y2="167.6" stroke="#aeaad4" stroke-width="1" opacity="0.49"/>
<line x1="353.2" y1="167.6" x2="356.1" y2="167.6" stroke="#aeaad4" stroke-width="1" opacity="0.30"/>
<line x1="357.7" y1="167.6" x2="359.2" y2="167.6" stroke="#aeaad4" stroke-width="1" opacity="0.29"/>
<line x1="361.7" y1="167.6" x2="363.8" y2="167.6" stroke="#aeaad4" stroke-width="1" opacity="0.43"/>
<line x1="366.8" y1="167.6" x2="367.8" y2="167.6" stroke="#aeaad4" stroke-width="1" opacity="0.22"/>
<line x1="370.0" y1="167.6" x2="374.8" y2="167.6" stroke="#aeaad4" stroke-width="1" opacity="0.21"/>
<line x1="377.7" y1="167.6" x2="378.3" y2="167.6" stroke="#aeaad4" stroke-width="1" opacity="0.50"/>
<path d="M203.7 101.4 A12.7 8.9 0 0 0 229.0 101.4" fill="none" stroke="#35a0b4" stroke-width="1.10" opacity="0.95"/>
<path d="M208.5 101.4 A10.2 7.1 0 0 0 229.0 101.4" fill="none" stroke="#35a0b4" stroke-width="0.99" opacity="0.83"/>
<path d="M214.0 101.4 A7.5 5.6 0 0 0 229.0 101.4" fill="none" stroke="#35a0b4" stroke-width="0.83" opacity="0.65"/>
<path d="M232.0 101.4 A4.0 4.2 0 0 0 240.0 101.4" fill="none" stroke="#35a0b4" stroke-width="1.10" opacity="0.95"/>
<path d="M235.0 101.4 A37.0 22.6 0 0 0 309.0 101.4" fill="none" stroke="#35a0b4" stroke-width="0.72" opacity="0.53"/>
<path d="M235.0 101.4 A40.5 23.6 0 0 0 316.0 101.4" fill="none" stroke="#35a0b4" stroke-width="0.69" opacity="0.50"/>
<path d="M236.0 101.4 A49.0 25.1 0 0 0 334.0 101.4" fill="none" stroke="#35a0b4" stroke-width="0.72" opacity="0.53"/>
<path d="M236.0 101.4 A51.0 25.6 0 0 0 338.0 101.4" fill="none" stroke="#35a0b4" stroke-width="0.66" opacity="0.47"/>
<path d="M236.0 101.4 A52.5 25.6 0 0 0 341.0 101.4" fill="none" stroke="#35a0b4" stroke-width="0.66" opacity="0.47"/>
<path d="M203.0 146.5 A13.0 8.9 0 0 0 229.0 146.5" fill="none" stroke="#2a8b66" stroke-width="1.10" opacity="0.95"/>
<path d="M208.0 146.5 A10.5 6.5 0 0 0 229.0 146.5" fill="none" stroke="#2a8b66" stroke-width="0.94" opacity="0.77"/>
<path d="M214.0 146.5 A7.5 4.5 0 0 0 229.0 146.5" fill="none" stroke="#2a8b66" stroke-width="0.83" opacity="0.65"/>
<path d="M232.0 146.5 A5.5 3.5 0 0 0 243.0 146.5" fill="none" stroke="#2a8b66" stroke-width="1.10" opacity="0.95"/>
<path d="M237.0 146.5 A36.5 19.5 0 0 0 310.0 146.5" fill="none" stroke="#2a8b66" stroke-width="0.83" opacity="0.65"/>
<path d="M129.3 100.8 130.1 100.7 130.8 100.9 131.6 100.6 132.3 100.9 133.1 100.7" fill="none" stroke="#5ea5d3" stroke-width="0.9" stroke-linejoin="round" opacity="0.90"/>
<path d="M136.8 100.5 137.6 100.8 138.3 100.7 139.1 100.8 139.8 100.8 140.6 100.6 141.3 100.9 142.1 100.8 142.8 100.8 143.6 100.7 144.3 100.5 145.1 100.5 145.8 100.8 146.6 100.4 147.3 100.5 148.1 100.8 148.8 100.9 149.6 100.8 150.3 100.8 151.1 100.8 151.8 100.7 152.6 100.9 153.3 100.9 154.1 100.6 154.8 100.8 155.6 100.5" fill="none" stroke="#5ea5d3" stroke-width="0.9" stroke-linejoin="round" opacity="0.90"/>
<path d="M159.3 100.7 160.1 100.2 160.8 98.4 161.6 96.9 162.3 95.4 163.1 95.4 163.8 96.7 164.6 98.3 165.3 100.0 166.1 100.4 166.8 100.7" fill="none" stroke="#3389c8" stroke-width="1.05" stroke-linejoin="round" opacity="1.00"/>
<path d="M166.8 100.7 167.6 100.9 168.3 100.8 169.1 100.7 169.8 100.6 170.6 100.9 171.3 100.7 172.1 100.5 172.8 100.8 173.6 100.8 174.3 100.6 175.1 100.5 175.8 100.8 176.6 100.6 177.3 100.7 178.1 100.9 178.8 100.8 179.6 100.8 180.3 100.7 181.1 100.5 181.8 100.7 182.6 100.6 183.3 100.9 184.1 100.7 184.8 100.3 185.6 99.6" fill="none" stroke="#5ea5d3" stroke-width="0.9" stroke-linejoin="round" opacity="0.90"/>
<path d="M185.6 99.6 186.3 98.5 187.1 97.7 187.8 98.4 188.6 99.7 189.3 100.6" fill="none" stroke="#3389c8" stroke-width="1.05" stroke-linejoin="round" opacity="1.00"/>
<path d="M189.3 100.6 190.1 100.6 190.8 100.9 191.6 100.9 192.3 100.8 193.1 100.8 193.8 100.6 194.6 100.8 195.3 100.8 196.1 100.7 196.8 100.7" fill="none" stroke="#5ea5d3" stroke-width="0.9" stroke-linejoin="round" opacity="0.90"/>
<path d="M196.8 100.7 197.6 100.8 198.3 100.8 199.1 100.1 199.8 100.4 200.6 99.9 201.3 99.0 202.1 100.3 202.8 99.5 203.6 98.6 204.3 100.6" fill="none" stroke="#3389c8" stroke-width="0.95" stroke-linejoin="round" opacity="0.90"/>
<path d="M204.3 100.6 205.1 100.5 205.8 100.2 206.6 98.8 207.3 98.2 208.1 97.9 208.8 98.5 209.6 99.2 210.3 96.5 211.1 97.4 211.8 96.4 212.6 97.2 213.3 98.1 214.1 100.1 214.8 99.5 215.6 99.2 216.3 97.1 217.1 96.9 217.8 97.6 218.6 98.9 219.3 97.5 220.1 98.3 220.8 95.3 221.6 94.8 222.3 96.1 223.1 97.7 223.8 99.2 224.6 98.2 225.3 96.2 226.1 96.9 226.8 97.7 227.6 98.3 228.3 99.1 229.1 95.2 229.8 90.1 230.6 85.5 231.3 88.8 232.1 96.3 232.8 98.8 233.6 99.1 234.3 96.7 235.1 94.4 235.8 93.9 236.6 93.5 237.3 93.7 238.1 92.7 238.8 92.5 239.6 91.6 240.3 87.0 241.1 87.3 241.8 95.2 242.6 100.0 243.3 99.6 244.1 99.3 244.8 99.1 245.6 98.4 246.3 98.6 247.1 99.7 247.8 100.4 248.6 100.6 249.3 100.7" fill="none" stroke="#3389c8" stroke-width="1.05" stroke-linejoin="round" opacity="1.00"/>
<path d="M249.3 100.7 250.1 100.4 250.8 99.7 251.6 99.0 252.3 98.8 253.1 99.3 253.8 100.3 254.6 100.6 255.3 100.1 256.1 99.4 256.8 98.8 257.6 99.0 258.3 99.9 259.1 100.5 259.8 100.7 260.6 100.5 261.3 100.8 262.1 100.8 262.8 100.7 263.6 100.8 264.3 100.8 265.1 100.5 265.8 100.8 266.6 100.9 267.3 100.9 268.1 100.9" fill="none" stroke="#5ea5d3" stroke-width="0.9" stroke-linejoin="round" opacity="0.90"/>
<path d="M271.8 100.7 272.6 100.8 273.3 100.8 274.1 100.9 274.8 100.9 275.6 100.6 276.3 100.7 277.1 100.5 277.8 100.9 278.6 100.7 279.3 100.8 280.1 100.8 280.8 100.7 281.6 100.6 282.3 100.6 283.1 100.6" fill="none" stroke="#5ea5d3" stroke-width="0.9" stroke-linejoin="round" opacity="0.90"/>
<path d="M286.8 100.9 287.6 100.7 288.3 100.9 289.1 100.9 289.8 100.6 290.6 100.9 291.3 100.7 292.1 100.7 292.8 100.7 293.6 100.8 294.3 100.8 295.1 100.9 295.8 100.5 296.6 100.8 297.3 100.7 298.1 100.7 298.8 100.7 299.6 100.9 300.3 100.6 301.1 100.8 301.8 100.9 302.6 100.8 303.3 100.8 304.1 100.8 304.8 100.9 305.6 100.9 306.3 100.8 307.1 100.5 307.8 100.8 308.6 100.8 309.3 100.8 310.1 100.5 310.8 100.7 311.6 100.4 312.3 100.7 313.1 100.1" fill="none" stroke="#5ea5d3" stroke-width="0.9" stroke-linejoin="round" opacity="0.90"/>
<path d="M313.1 100.1 313.8 98.6 314.6 97.0 315.3 96.7 316.1 98.1 316.8 99.9" fill="none" stroke="#3389c8" stroke-width="1.05" stroke-linejoin="round" opacity="1.00"/>
<path d="M316.8 99.9 317.6 100.6 318.3 100.8 319.1 100.8 319.8 100.9 320.6 100.6 321.3 100.6 322.1 100.8 322.8 100.5 323.6 100.9 324.3 100.7 325.1 100.6 325.8 100.9 326.6 100.9 327.3 100.4 328.1 100.7" fill="none" stroke="#5ea5d3" stroke-width="0.9" stroke-linejoin="round" opacity="0.90"/>
<path d="M328.1 100.7 328.8 100.3 329.6 99.7 330.3 98.3 331.1 97.8 331.8 98.6" fill="none" stroke="#3389c8" stroke-width="1.05" stroke-linejoin="round" opacity="1.00"/>
<path d="M331.8 98.6 332.6 99.6 333.3 100.0 334.1 99.4 334.8 98.8 335.6 98.7 336.3 99.8 337.1 100.5 337.8 100.7 338.6 100.9 339.3 100.8 340.1 100.8 340.8 100.9 341.6 100.8 342.3 100.8 343.1 100.8 343.8 100.8 344.6 100.8 345.3 100.9 346.1 100.7 346.8 100.9 347.6 100.9 348.3 100.9 349.1 100.9 349.8 100.3 350.6 100.9 351.3 100.9 352.1 100.7 352.8 100.8 353.6 100.8 354.3 100.7 355.1 100.8 355.8 100.9 356.6 100.7 357.3 100.8 358.1 100.8 358.8 100.6 359.6 100.7 360.3 100.7 361.1 100.6 361.8 100.8 362.6 100.8 363.3 100.8 364.1 100.9 364.8 100.9 365.6 100.8 366.3 100.7 367.1 100.8 367.8 100.7 368.6 100.6 369.3 100.7 370.1 100.1 370.8 99.7 371.6 98.8 372.3 98.8 373.1 99.5 373.8 100.3 374.6 100.4 375.3 100.8 376.1 100.7 376.8 100.7" fill="none" stroke="#5ea5d3" stroke-width="0.9" stroke-linejoin="round" opacity="0.90"/>
<path d="M129.3 145.9 130.1 146.0 130.8 146.0 131.6 145.9 132.3 145.9 133.1 145.9 133.8 145.8 134.6 146.0 135.3 146.0 136.1 146.0 136.8 146.0 137.6 145.8 138.3 145.9 139.1 145.6 139.8 145.9 140.6 145.7 141.3 145.9 142.1 145.9 142.8 145.7 143.6 145.9 144.3 145.7 145.1 146.0 145.8 145.9 146.6 145.9 147.3 145.8 148.1 145.8 148.8 145.9 149.6 145.8 150.3 146.0 151.1 145.9 151.8 146.0" fill="none" stroke="#86b660" stroke-width="0.9" stroke-linejoin="round" opacity="0.90"/>
<path d="M155.6 145.8 156.3 146.0 157.1 145.7 157.8 145.7 158.6 145.9 159.3 145.9 160.1 145.4 160.8 145.4 161.6 145.9 162.3 145.9 163.1 145.6 163.8 145.7 164.6 145.8 165.3 145.8 166.1 145.8 166.8 145.8 167.6 145.7 168.3 145.9 169.1 145.7 169.8 145.9 170.6 145.8 171.3 145.8 172.1 146.0 172.8 145.9 173.6 145.7 174.3 145.8 175.1 146.0 175.8 145.9 176.6 145.9 177.3 145.7 178.1 146.0 178.8 145.9 179.6 145.8 180.3 146.0 181.1 146.0 181.8 145.4 182.6 145.8 183.3 146.0 184.1 145.9 184.8 145.9 185.6 146.0 186.3 145.8 187.1 145.9 187.8 145.9 188.6 146.0 189.3 145.9 190.1 145.9 190.8 146.0 191.6 146.0 192.3 145.5 193.1 146.0 193.8 145.7 194.6 145.9 195.3 145.9 196.1 146.0 196.8 146.0" fill="none" stroke="#86b660" stroke-width="0.9" stroke-linejoin="round" opacity="0.90"/>
<path d="M196.8 146.0 197.6 146.0 198.3 145.8 199.1 145.1 199.8 145.1 200.6 145.8 201.3 144.3 202.1 145.5 202.8 145.2 203.6 145.7 204.3 145.1" fill="none" stroke="#5c9832" stroke-width="0.95" stroke-linejoin="round" opacity="0.90"/>
<path d="M204.3 145.1 205.1 143.7 205.8 141.3 206.6 143.0 207.3 144.6 208.1 145.4 208.8 143.3 209.6 144.6 210.3 142.8 211.1 140.9 211.8 141.5 212.6 143.3 213.3 144.9 214.1 145.2 214.8 144.0 215.6 141.2 216.3 142.4 217.1 143.3 217.8 145.0 218.6 144.0 219.3 142.7 220.1 142.7 220.8 141.9 221.6 140.2 222.3 143.6 223.1 144.6 223.8 144.3 224.6 143.0 225.3 139.3 226.1 141.1 226.8 142.8 227.6 143.0 228.3 144.8 229.1 142.5 229.8 140.3 230.6 133.7 231.3 131.3 232.1 139.4 232.8 144.1 233.6 145.0 234.3 145.0 235.1 144.7 235.8 144.9 236.6 143.5 237.3 139.6 238.1 140.3 238.8 141.2 239.6 140.7 240.3 137.9 241.1 138.6 241.8 140.3 242.6 143.9 243.3 143.9 244.1 145.3 244.8 145.9 245.6 145.8" fill="none" stroke="#5c9832" stroke-width="1.05" stroke-linejoin="round" opacity="1.00"/>
<path d="M245.6 145.8 246.3 146.0 247.1 145.9 247.8 145.7 248.6 144.9 249.3 144.3 250.1 143.8 250.8 144.2 251.6 145.1 252.3 145.7 253.1 145.9 253.8 145.9 254.6 145.8 255.3 146.0 256.1 145.8 256.8 145.9 257.6 145.8 258.3 145.8 259.1 145.7 259.8 145.9 260.6 145.8 261.3 145.8 262.1 145.8 262.8 145.9 263.6 146.0 264.3 145.7 265.1 145.8 265.8 145.7 266.6 145.9 267.3 145.5 268.1 145.9 268.8 145.9 269.6 145.9 270.3 145.9 271.1 145.7 271.8 145.9 272.6 145.6 273.3 145.8 274.1 145.9 274.8 145.8 275.6 145.9 276.3 145.9 277.1 145.7 277.8 145.8 278.6 146.0 279.3 145.9 280.1 145.9 280.8 145.9 281.6 145.8 282.3 145.5 283.1 145.6 283.8 145.8 284.6 145.7 285.3 145.9 286.1 145.9 286.8 145.8 287.6 146.0 288.3 145.4 289.1 145.9 289.8 145.7 290.6 145.9 291.3 145.8 292.1 145.9 292.8 145.8 293.6 145.8 294.3 145.9" fill="none" stroke="#86b660" stroke-width="0.9" stroke-linejoin="round" opacity="0.90"/>
<path d="M298.1 146.0 298.8 145.9 299.6 145.9 300.3 145.8 301.1 145.7 301.8 145.9 302.6 145.9 303.3 145.8 304.1 145.9 304.8 145.9 305.6 146.0" fill="none" stroke="#86b660" stroke-width="0.9" stroke-linejoin="round" opacity="0.90"/>
<path d="M309.3 145.8 310.1 145.7 310.8 145.9 311.6 145.8 312.3 145.7 313.1 145.9 313.8 145.8 314.6 145.7 315.3 146.0 316.1 145.8 316.8 145.9 317.6 146.0 318.3 145.8 319.1 145.8 319.8 145.7 320.6 145.0 321.3 144.2 322.1 143.8 322.8 144.3 323.6 145.1 324.3 145.8 325.1 145.8 325.8 146.0 326.6 145.9 327.3 145.9 328.1 145.8 328.8 145.7 329.6 145.9 330.3 145.9 331.1 146.0 331.8 145.8" fill="none" stroke="#86b660" stroke-width="0.9" stroke-linejoin="round" opacity="0.90"/>
<path d="M331.8 145.8 332.6 145.6 333.3 144.6 334.1 142.9 334.8 142.0 335.6 142.2 336.3 143.9 337.1 144.6 337.8 144.2 338.6 142.8 339.3 143.0 340.1 143.8 340.8 145.1 341.6 145.8 342.3 145.7 343.1 145.9" fill="none" stroke="#5c9832" stroke-width="1.05" stroke-linejoin="round" opacity="1.00"/>
<path d="M343.1 145.9 343.8 145.9 344.6 145.6 345.3 145.8 346.1 146.0 346.8 145.9" fill="none" stroke="#86b660" stroke-width="0.9" stroke-linejoin="round" opacity="0.90"/>
<path d="M350.6 145.9 351.3 145.7 352.1 145.9 352.8 145.8 353.6 145.9 354.3 145.5 355.1 145.9 355.8 145.9 356.6 145.8 357.3 145.7 358.1 145.9 358.8 145.9 359.6 145.8 360.3 145.6 361.1 145.7 361.8 145.8" fill="none" stroke="#86b660" stroke-width="0.9" stroke-linejoin="round" opacity="0.90"/>
<path d="M365.6 145.9 366.3 145.8 367.1 145.8 367.8 145.8 368.6 145.5 369.3 145.4 370.1 144.4 370.8 143.8 371.6 144.1 372.3 145.1 373.1 145.6 373.8 145.8 374.6 145.8 375.3 145.9 376.1 146.0 376.8 145.9" fill="none" stroke="#86b660" stroke-width="0.9" stroke-linejoin="round" opacity="0.90"/>
<text x="229" y="84.6" text-anchor="middle" font-size="4.4" fill="#444">VP2</text>
<rect x="128.3" y="172.5" width="250.0" height="3.6" fill="#fdfce8"/>
<line x1="128.3" y1="174.3" x2="378.3" y2="174.3" stroke="#dcd6a6" stroke-width="1.1"/>
<line x1="129.3" y1="222" x2="131.5" y2="222" stroke="#aeaad4" stroke-width="1" opacity="0.30"/>
<line x1="133.9" y1="222" x2="137.5" y2="222" stroke="#aeaad4" stroke-width="1" opacity="0.40"/>
<line x1="139.9" y1="222" x2="141.4" y2="222" stroke="#aeaad4" stroke-width="1" opacity="0.23"/>
<line x1="144.3" y1="222" x2="147.4" y2="222" stroke="#aeaad4" stroke-width="1" opacity="0.23"/>
<line x1="149.1" y1="222" x2="152.2" y2="222" stroke="#aeaad4" stroke-width="1" opacity="0.26"/>
<line x1="154.3" y1="222" x2="158.2" y2="222" stroke="#aeaad4" stroke-width="1" opacity="0.13"/>
<line x1="160.6" y1="222" x2="162.6" y2="222" stroke="#aeaad4" stroke-width="1" opacity="0.47"/>
<line x1="164.7" y1="222" x2="169.2" y2="222" stroke="#aeaad4" stroke-width="1" opacity="0.13"/>
<line x1="171.5" y1="222" x2="175.6" y2="222" stroke="#aeaad4" stroke-width="1" opacity="0.34"/>
<line x1="177.6" y1="222" x2="181.4" y2="222" stroke="#aeaad4" stroke-width="1" opacity="0.30"/>
<line x1="183.9" y1="222" x2="188.6" y2="222" stroke="#aeaad4" stroke-width="1" opacity="0.27"/>
<line x1="190.4" y1="222" x2="194.8" y2="222" stroke="#aeaad4" stroke-width="1" opacity="0.23"/>
<line x1="196.1" y1="222" x2="200.5" y2="222" stroke="#aeaad4" stroke-width="1" opacity="0.44"/>
<line x1="201.4" y1="222" x2="205.2" y2="222" stroke="#aeaad4" stroke-width="1" opacity="0.23"/>
<line x1="207.2" y1="222" x2="211.3" y2="222" stroke="#aeaad4" stroke-width="1" opacity="0.17"/>
<line x1="214.6" y1="222" x2="217.5" y2="222" stroke="#aeaad4" stroke-width="1" opacity="0.31"/>
<line x1="219.8" y1="222" x2="222.1" y2="222" stroke="#aeaad4" stroke-width="1" opacity="0.34"/>
<line x1="223.3" y1="222" x2="227.5" y2="222" stroke="#aeaad4" stroke-width="1" opacity="0.21"/>
<line x1="228.5" y1="222" x2="232.8" y2="222" stroke="#aeaad4" stroke-width="1" opacity="0.37"/>
<line x1="235.7" y1="222" x2="236.8" y2="222" stroke="#aeaad4" stroke-width="1" opacity="0.49"/>
<line x1="239.6" y1="222" x2="244.6" y2="222" stroke="#aeaad4" stroke-width="1" opacity="0.14"/>
<line x1="247.3" y1="222" x2="251.7" y2="222" stroke="#aeaad4" stroke-width="1" opacity="0.37"/>
<line x1="253.0" y1="222" x2="257.9" y2="222" stroke="#aeaad4" stroke-width="1" opacity="0.17"/>
<line x1="260.6" y1="222" x2="262.8" y2="222" stroke="#aeaad4" stroke-width="1" opacity="0.18"/>
<line x1="266.0" y1="222" x2="269.5" y2="222" stroke="#aeaad4" stroke-width="1" opacity="0.18"/>
<line x1="271.4" y1="222" x2="274.9" y2="222" stroke="#aeaad4" stroke-width="1" opacity="0.16"/>
<line x1="275.8" y1="222" x2="278.3" y2="222" stroke="#aeaad4" stroke-width="1" opacity="0.14"/>
<line x1="279.3" y1="222" x2="282.6" y2="222" stroke="#aeaad4" stroke-width="1" opacity="0.45"/>
<line x1="285.4" y1="222" x2="287.0" y2="222" stroke="#aeaad4" stroke-width="1" opacity="0.24"/>
<line x1="288.9" y1="222" x2="292.3" y2="222" stroke="#aeaad4" stroke-width="1" opacity="0.48"/>
<line x1="294.4" y1="222" x2="296.9" y2="222" stroke="#aeaad4" stroke-width="1" opacity="0.38"/>
<line x1="297.9" y1="222" x2="299.5" y2="222" stroke="#aeaad4" stroke-width="1" opacity="0.31"/>
<line x1="302.0" y1="222" x2="306.6" y2="222" stroke="#aeaad4" stroke-width="1" opacity="0.36"/>
<line x1="308.9" y1="222" x2="311.0" y2="222" stroke="#aeaad4" stroke-width="1" opacity="0.22"/>
<line x1="313.3" y1="222" x2="317.3" y2="222" stroke="#aeaad4" stroke-width="1" opacity="0.17"/>
<line x1="319.5" y1="222" x2="321.4" y2="222" stroke="#aeaad4" stroke-width="1" opacity="0.40"/>
<line x1="323.2" y1="222" x2="324.9" y2="222" stroke="#aeaad4" stroke-width="1" opacity="0.37"/>
<line x1="327.7" y1="222" x2="329.0" y2="222" stroke="#aeaad4" stroke-width="1" opacity="0.15"/>
<line x1="331.6" y1="222" x2="333.1" y2="222" stroke="#aeaad4" stroke-width="1" opacity="0.21"/>
<line x1="335.5" y1="222" x2="340.0" y2="222" stroke="#aeaad4" stroke-width="1" opacity="0.24"/>
<line x1="342.1" y1="222" x2="346.3" y2="222" stroke="#aeaad4" stroke-width="1" opacity="0.40"/>
<line x1="347.2" y1="222" x2="348.4" y2="222" stroke="#aeaad4" stroke-width="1" opacity="0.48"/>
<line x1="349.6" y1="222" x2="353.3" y2="222" stroke="#aeaad4" stroke-width="1" opacity="0.16"/>
<line x1="354.7" y1="222" x2="359.6" y2="222" stroke="#aeaad4" stroke-width="1" opacity="0.43"/>
<line x1="362.2" y1="222" x2="363.8" y2="222" stroke="#aeaad4" stroke-width="1" opacity="0.25"/>
<line x1="366.3" y1="222" x2="368.2" y2="222" stroke="#aeaad4" stroke-width="1" opacity="0.35"/>
<line x1="369.9" y1="222" x2="372.3" y2="222" stroke="#aeaad4" stroke-width="1" opacity="0.17"/>
<line x1="374.1" y1="222" x2="378.3" y2="222" stroke="#aeaad4" stroke-width="1" opacity="0.43"/>
<line x1="129.3" y1="262" x2="132.0" y2="262" stroke="#aeaad4" stroke-width="1" opacity="0.32"/>
<line x1="135.1" y1="262" x2="138.5" y2="262" stroke="#aeaad4" stroke-width="1" opacity="0.40"/>
<line x1="140.9" y1="262" x2="143.4" y2="262" stroke="#aeaad4" stroke-width="1" opacity="0.13"/>
<line x1="144.5" y1="262" x2="146.3" y2="262" stroke="#aeaad4" stroke-width="1" opacity="0.46"/>
<line x1="147.2" y1="262" x2="150.1" y2="262" stroke="#aeaad4" stroke-width="1" opacity="0.12"/>
<line x1="153.0" y1="262" x2="155.9" y2="262" stroke="#aeaad4" stroke-width="1" opacity="0.36"/>
<line x1="159.1" y1="262" x2="161.8" y2="262" stroke="#aeaad4" stroke-width="1" opacity="0.16"/>
<line x1="163.8" y1="262" x2="165.5" y2="262" stroke="#aeaad4" stroke-width="1" opacity="0.26"/>
<line x1="166.7" y1="262" x2="169.2" y2="262" stroke="#aeaad4" stroke-width="1" opacity="0.18"/>
<line x1="172.4" y1="262" x2="174.4" y2="262" stroke="#aeaad4" stroke-width="1" opacity="0.18"/>
<line x1="176.0" y1="262" x2="178.1" y2="262" stroke="#aeaad4" stroke-width="1" opacity="0.30"/>
<line x1="179.6" y1="262" x2="180.7" y2="262" stroke="#aeaad4" stroke-width="1" opacity="0.26"/>
<line x1="184.0" y1="262" x2="188.7" y2="262" stroke="#aeaad4" stroke-width="1" opacity="0.38"/>
<line x1="191.4" y1="262" x2="194.3" y2="262" stroke="#aeaad4" stroke-width="1" opacity="0.16"/>
<line x1="197.6" y1="262" x2="201.3" y2="262" stroke="#aeaad4" stroke-width="1" opacity="0.38"/>
<line x1="202.9" y1="262" x2="206.8" y2="262" stroke="#aeaad4" stroke-width="1" opacity="0.20"/>
<line x1="208.0" y1="262" x2="209.1" y2="262" stroke="#aeaad4" stroke-width="1" opacity="0.15"/>
<line x1="210.6" y1="262" x2="213.2" y2="262" stroke="#aeaad4" stroke-width="1" opacity="0.26"/>
<line x1="216.6" y1="262" x2="218.9" y2="262" stroke="#aeaad4" stroke-width="1" opacity="0.23"/>
<line x1="220.9" y1="262" x2="224.8" y2="262" stroke="#aeaad4" stroke-width="1" opacity="0.18"/>
<line x1="227.6" y1="262" x2="229.5" y2="262" stroke="#aeaad4" stroke-width="1" opacity="0.48"/>
<line x1="232.2" y1="262" x2="235.7" y2="262" stroke="#aeaad4" stroke-width="1" opacity="0.49"/>
<line x1="237.7" y1="262" x2="238.7" y2="262" stroke="#aeaad4" stroke-width="1" opacity="0.42"/>
<line x1="239.7" y1="262" x2="242.3" y2="262" stroke="#aeaad4" stroke-width="1" opacity="0.33"/>
<line x1="243.3" y1="262" x2="248.2" y2="262" stroke="#aeaad4" stroke-width="1" opacity="0.25"/>
<line x1="250.4" y1="262" x2="251.8" y2="262" stroke="#aeaad4" stroke-width="1" opacity="0.46"/>
<line x1="252.8" y1="262" x2="255.8" y2="262" stroke="#aeaad4" stroke-width="1" opacity="0.14"/>
<line x1="259.1" y1="262" x2="261.1" y2="262" stroke="#aeaad4" stroke-width="1" opacity="0.27"/>
<line x1="262.0" y1="262" x2="263.2" y2="262" stroke="#aeaad4" stroke-width="1" opacity="0.27"/>
<line x1="264.7" y1="262" x2="266.9" y2="262" stroke="#aeaad4" stroke-width="1" opacity="0.13"/>
<line x1="267.9" y1="262" x2="272.8" y2="262" stroke="#aeaad4" stroke-width="1" opacity="0.31"/>
<line x1="274.1" y1="262" x2="276.7" y2="262" stroke="#aeaad4" stroke-width="1" opacity="0.15"/>
<line x1="278.9" y1="262" x2="281.1" y2="262" stroke="#aeaad4" stroke-width="1" opacity="0.33"/>
<line x1="282.2" y1="262" x2="286.9" y2="262" stroke="#aeaad4" stroke-width="1" opacity="0.45"/>
<line x1="289.3" y1="262" x2="291.2" y2="262" stroke="#aeaad4" stroke-width="1" opacity="0.33"/>
<line x1="292.0" y1="262" x2="295.0" y2="262" stroke="#aeaad4" stroke-width="1" opacity="0.26"/>
<line x1="297.3" y1="262" x2="300.8" y2="262" stroke="#aeaad4" stroke-width="1" opacity="0.47"/>
<line x1="303.6" y1="262" x2="305.8" y2="262" stroke="#aeaad4" stroke-width="1" opacity="0.43"/>
<line x1="307.8" y1="262" x2="309.7" y2="262" stroke="#aeaad4" stroke-width="1" opacity="0.24"/>
<line x1="310.8" y1="262" x2="312.2" y2="262" stroke="#aeaad4" stroke-width="1" opacity="0.43"/>
<line x1="315.1" y1="262" x2="317.3" y2="262" stroke="#aeaad4" stroke-width="1" opacity="0.15"/>
<line x1="318.5" y1="262" x2="320.5" y2="262" stroke="#aeaad4" stroke-width="1" opacity="0.28"/>
<line x1="321.5" y1="262" x2="324.8" y2="262" stroke="#aeaad4" stroke-width="1" opacity="0.14"/>
<line x1="326.3" y1="262" x2="330.1" y2="262" stroke="#aeaad4" stroke-width="1" opacity="0.20"/>
<line x1="331.0" y1="262" x2="333.1" y2="262" stroke="#aeaad4" stroke-width="1" opacity="0.16"/>
<line x1="334.9" y1="262" x2="337.6" y2="262" stroke="#aeaad4" stroke-width="1" opacity="0.41"/>
<line x1="339.3" y1="262" x2="342.5" y2="262" stroke="#aeaad4" stroke-width="1" opacity="0.37"/>
<line x1="345.7" y1="262" x2="349.8" y2="262" stroke="#aeaad4" stroke-width="1" opacity="0.29"/>
<line x1="352.1" y1="262" x2="356.4" y2="262" stroke="#aeaad4" stroke-width="1" opacity="0.48"/>
<line x1="358.9" y1="262" x2="362.9" y2="262" stroke="#aeaad4" stroke-width="1" opacity="0.22"/>
<line x1="365.6" y1="262" x2="369.8" y2="262" stroke="#aeaad4" stroke-width="1" opacity="0.17"/>
<line x1="371.6" y1="262" x2="372.9" y2="262" stroke="#aeaad4" stroke-width="1" opacity="0.22"/>
<line x1="374.2" y1="262" x2="377.9" y2="262" stroke="#aeaad4" stroke-width="1" opacity="0.14"/>
<path d="M200.4 195.0 A18.8 10.3 0 0 0 238.0 195.0" fill="none" stroke="#35a0b4" stroke-width="1.10" opacity="0.95"/>
<path d="M205.0 195.0 A16.5 9.5 0 0 0 238.0 195.0" fill="none" stroke="#35a0b4" stroke-width="0.94" opacity="0.77"/>
<path d="M210.0 195.0 A13.5 8.5 0 0 0 237.0 195.0" fill="none" stroke="#35a0b4" stroke-width="0.88" opacity="0.71"/>
<path d="M216.0 195.0 A10.0 7.3 0 0 0 236.0 195.0" fill="none" stroke="#35a0b4" stroke-width="0.99" opacity="0.83"/>
<path d="M222.0 195.0 A7.0 6.0 0 0 0 236.0 195.0" fill="none" stroke="#35a0b4" stroke-width="0.83" opacity="0.65"/>
<path d="M240.0 195.0 A8.5 6.6 0 0 0 257.0 195.0" fill="none" stroke="#35a0b4" stroke-width="0.77" opacity="0.59"/>
<path d="M241.0 195.0 A35.3 18.3 0 0 0 311.7 195.0" fill="none" stroke="#35a0b4" stroke-width="1.10" opacity="0.95"/>
<path d="M241.0 195.0 A36.5 19.0 0 0 0 314.0 195.0" fill="none" stroke="#35a0b4" stroke-width="0.99" opacity="0.83"/>
<path d="M242.0 195.0 A45.0 24.0 0 0 0 332.0 195.0" fill="none" stroke="#35a0b4" stroke-width="0.94" opacity="0.77"/>
<path d="M242.0 195.0 A49.8 24.5 0 0 0 341.7 195.0" fill="none" stroke="#35a0b4" stroke-width="0.94" opacity="0.77"/>
<path d="M242.0 195.0 A51.0 24.3 0 0 0 344.0 195.0" fill="none" stroke="#35a0b4" stroke-width="0.94" opacity="0.77"/>
<path d="M242.0 195.0 A59.5 21.0 0 0 0 361.0 195.0" fill="none" stroke="#35a0b4" stroke-width="0.72" opacity="0.53"/>
<path d="M203.7 239.3 A17.7 9.4 0 0 0 239.0 239.3" fill="none" stroke="#2a8b66" stroke-width="1.10" opacity="0.95"/>
<path d="M208.0 239.3 A15.5 8.2 0 0 0 239.0 239.3" fill="none" stroke="#2a8b66" stroke-width="0.88" opacity="0.71"/>
<path d="M213.0 239.3 A12.5 7.2 0 0 0 238.0 239.3" fill="none" stroke="#2a8b66" stroke-width="0.83" opacity="0.65"/>
<path d="M219.0 239.3 A9.5 5.7 0 0 0 238.0 239.3" fill="none" stroke="#2a8b66" stroke-width="0.83" opacity="0.65"/>
<path d="M225.0 239.3 A6.5 4.7 0 0 0 238.0 239.3" fill="none" stroke="#2a8b66" stroke-width="0.77" opacity="0.59"/>
<path d="M240.0 239.3 A8.5 4.7 0 0 0 257.0 239.3" fill="none" stroke="#2a8b66" stroke-width="0.77" opacity="0.59"/>
<path d="M242.0 239.3 A34.2 18.7 0 0 0 310.5 239.3" fill="none" stroke="#2a8b66" stroke-width="0.77" opacity="0.59"/>
<path d="M242.0 239.3 A45.0 23.7 0 0 0 332.0 239.3" fill="none" stroke="#2a8b66" stroke-width="0.94" opacity="0.77"/>
<path d="M242.0 239.3 A48.7 25.7 0 0 0 339.3 239.3" fill="none" stroke="#2a8b66" stroke-width="0.94" opacity="0.77"/>
<path d="M242.0 239.3 A50.5 26.2 0 0 0 343.0 239.3" fill="none" stroke="#2a8b66" stroke-width="0.94" opacity="0.77"/>
<path d="M242.0 239.3 A60.7 22.7 0 0 0 363.4 239.3" fill="none" stroke="#2a8b66" stroke-width="0.72" opacity="0.53"/>
<path d="M129.3 194.4 130.1 194.4 130.8 193.9 131.6 194.4 132.3 194.1 133.1 194.4 133.8 194.5 134.6 194.3 135.3 194.4 136.1 194.1 136.8 194.3 137.6 193.9 138.3 194.4 139.1 194.4 139.8 194.1 140.6 194.3 141.3 194.3 142.1 194.3 142.8 194.3 143.6 194.2 144.3 194.4 145.1 194.4 145.8 194.3 146.6 194.4 147.3 194.1 148.1 194.2 148.8 194.3 149.6 194.2 150.3 194.3 151.1 194.3 151.8 194.3 152.6 194.3 153.3 194.2 154.1 194.3 154.8 194.2 155.6 194.5 156.3 194.3 157.1 194.4 157.8 194.1 158.6 194.4 159.3 194.2 160.1 194.5 160.8 194.5 161.6 194.4 162.3 194.5 163.1 194.4 163.8 194.3 164.6 194.2 165.3 194.5 166.1 194.3 166.8 194.3 167.6 194.3 168.3 194.0 169.1 194.5 169.8 194.3 170.6 194.0" fill="none" stroke="#5ea5d3" stroke-width="0.9" stroke-linejoin="round" opacity="0.90"/>
<path d="M174.3 194.3 175.1 194.5 175.8 194.0 176.6 194.3 177.3 194.4 178.1 194.4 178.8 194.4 179.6 194.1 180.3 194.3 181.1 194.1 181.8 194.4" fill="none" stroke="#5ea5d3" stroke-width="0.9" stroke-linejoin="round" opacity="0.90"/>
<path d="M185.6 194.3 186.3 194.4 187.1 194.4 187.8 194.0 188.6 194.4 189.3 194.5 190.1 194.4 190.8 194.1 191.6 194.4 192.3 194.4 193.1 194.4 193.8 194.4 194.6 194.0 195.3 194.0 196.1 194.1 196.8 194.5" fill="none" stroke="#5ea5d3" stroke-width="0.9" stroke-linejoin="round" opacity="0.90"/>
<path d="M196.8 194.5 197.6 194.1 198.3 192.7 199.1 192.6 199.8 193.7 200.6 193.8" fill="none" stroke="#3389c8" stroke-width="0.95" stroke-linejoin="round" opacity="0.90"/>
<path d="M200.6 193.8 201.3 192.9 202.1 193.4 202.8 194.1 203.6 193.4 204.3 190.8 205.1 190.1 205.8 191.0 206.6 193.2 207.3 193.8 208.1 193.0 208.8 192.6 209.6 189.9 210.3 190.1 211.1 192.1 211.8 192.2 212.6 191.7 213.3 194.0 214.1 192.3 214.8 192.4 215.6 191.0 216.3 189.7 217.1 190.7 217.8 191.9 218.6 193.6 219.3 193.5 220.1 193.4 220.8 192.6 221.6 191.0 222.3 189.7 223.1 189.2 223.8 191.9 224.6 192.6 225.3 193.5 226.1 192.9 226.8 192.4 227.6 190.9 228.3 189.8 229.1 189.1 229.8 192.3 230.6 192.8 231.3 193.0 232.1 193.9 232.8 194.1 233.6 193.0 234.3 187.7 235.1 188.4 235.8 189.3 236.6 188.3 237.3 187.8 238.1 184.8 238.8 181.8 239.6 174.8 240.3 175.6 241.1 177.5 241.8 180.8 242.6 189.2 243.3 192.0 244.1 193.8 244.8 193.1 245.6 193.0 246.3 191.6 247.1 191.1 247.8 192.2 248.6 192.3 249.3 193.6" fill="none" stroke="#3389c8" stroke-width="1.05" stroke-linejoin="round" opacity="1.00"/>
<path d="M249.3 193.6 250.1 194.3 250.8 194.5 251.6 194.1 252.3 194.3 253.1 193.9 253.8 194.4 254.6 194.3 255.3 194.5 256.1 194.4 256.8 194.4 257.6 194.2 258.3 194.5 259.1 194.3 259.8 194.4 260.6 194.1 261.3 194.4 262.1 194.4 262.8 194.4 263.6 194.4 264.3 194.5 265.1 194.2 265.8 194.2 266.6 194.0 267.3 194.4 268.1 194.5 268.8 194.4 269.6 194.2 270.3 194.4 271.1 194.0 271.8 194.3 272.6 194.5 273.3 194.0 274.1 194.2 274.8 194.2 275.6 194.0 276.3 194.2 277.1 194.3 277.8 194.4 278.6 194.5 279.3 194.4 280.1 194.5 280.8 194.2 281.6 194.2 282.3 194.2 283.1 194.5 283.8 194.2 284.6 194.5 285.3 194.4 286.1 194.4 286.8 194.4 287.6 194.2 288.3 194.3 289.1 194.5 289.8 194.5 290.6 194.1 291.3 194.3 292.1 194.3 292.8 194.2 293.6 194.1 294.3 194.1 295.1 194.3 295.8 194.3 296.6 194.4 297.3 194.3 298.1 194.5 298.8 194.3 299.6 194.3 300.3 194.5 301.1 194.4 301.8 194.4 302.6 194.3 303.3 194.0 304.1 194.3 304.8 194.4 305.6 193.9" fill="none" stroke="#5ea5d3" stroke-width="0.9" stroke-linejoin="round" opacity="0.90"/>
<path d="M305.6 193.9 306.3 193.5 307.1 192.1 307.8 191.5 308.6 191.6 309.3 192.6" fill="none" stroke="#3389c8" stroke-width="1.05" stroke-linejoin="round" opacity="1.00"/>
<path d="M309.3 192.6 310.1 193.9 310.8 194.2 311.6 194.2 312.3 194.3 313.1 194.2 313.8 194.4 314.6 194.3 315.3 194.3 316.1 193.9 316.8 194.0 317.6 194.0 318.3 194.5 319.1 194.4 319.8 194.4 320.6 194.4 321.3 194.4 322.1 194.3 322.8 194.5 323.6 194.4 324.3 194.4 325.1 194.5 325.8 194.5 326.6 194.5 327.3 194.0 328.1 193.9" fill="none" stroke="#5ea5d3" stroke-width="0.9" stroke-linejoin="round" opacity="0.90"/>
<path d="M328.1 193.9 328.8 193.8 329.6 192.4 330.3 191.1 331.1 190.2 331.8 191.4 332.6 192.7 333.3 194.0 334.1 193.7 334.8 194.2 335.6 193.3" fill="none" stroke="#3389c8" stroke-width="1.05" stroke-linejoin="round" opacity="1.00"/>
<path d="M335.6 193.3 336.3 192.8 337.1 192.3 337.8 193.0 338.6 193.5 339.3 193.7 340.1 194.4 340.8 194.1 341.6 194.3 342.3 194.2 343.1 194.4 343.8 194.5 344.6 194.5 345.3 194.4 346.1 194.3 346.8 194.3" fill="none" stroke="#5ea5d3" stroke-width="0.9" stroke-linejoin="round" opacity="0.90"/>
<path d="M350.6 194.4 351.3 194.4 352.1 194.5 352.8 194.2 353.6 194.2 354.3 194.2 355.1 194.3 355.8 194.3 356.6 194.3 357.3 194.3 358.1 194.1 358.8 194.4 359.6 194.4 360.3 194.4 361.1 194.0 361.8 194.2 362.6 193.9 363.3 192.9 364.1 192.7 364.8 192.5 365.6 192.7 366.3 193.9 367.1 194.3 367.8 194.5 368.6 194.2 369.3 194.3 370.1 194.5 370.8 194.4 371.6 194.2 372.3 194.3 373.1 194.4 373.8 194.0 374.6 194.3 375.3 194.2 376.1 194.5 376.8 194.5 377.6 194.4 378.3 194.3" fill="none" stroke="#5ea5d3" stroke-width="0.9" stroke-linejoin="round" opacity="0.90"/>
<path d="M129.3 238.6 130.1 238.7 130.8 238.6 131.6 238.8 132.3 238.8 133.1 238.4 133.8 238.4 134.6 238.7 135.3 238.3 136.1 238.6 136.8 238.7 137.6 238.7 138.3 238.5 139.1 238.7 139.8 238.6 140.6 238.8 141.3 238.7 142.1 238.6 142.8 238.7 143.6 238.6 144.3 238.8 145.1 238.6 145.8 238.8 146.6 238.4 147.3 238.5 148.1 238.7 148.8 238.5 149.6 238.6 150.3 238.5 151.1 238.6 151.8 238.8 152.6 238.4 153.3 238.7 154.1 238.6 154.8 238.5 155.6 238.6 156.3 238.3 157.1 238.7 157.8 238.7 158.6 238.7 159.3 238.5 160.1 238.6 160.8 238.2 161.6 238.5 162.3 238.5 163.1 238.8 163.8 238.5 164.6 238.3 165.3 238.6 166.1 238.8 166.8 238.6 167.6 238.7 168.3 238.7 169.1 238.6 169.8 238.7 170.6 238.5 171.3 238.8 172.1 238.5 172.8 238.5 173.6 238.6 174.3 238.8 175.1 238.8 175.8 238.4 176.6 238.4 177.3 238.4 178.1 238.8 178.8 238.7 179.6 238.8 180.3 238.8 181.1 238.5 181.8 238.6 182.6 238.8 183.3 238.5 184.1 238.8 184.8 238.6 185.6 238.6 186.3 238.7 187.1 238.5 187.8 238.2 188.6 238.6 189.3 238.6 190.1 238.4 190.8 238.6 191.6 238.7 192.3 238.6 193.1 238.6 193.8 238.8 194.6 238.8 195.3 238.3 196.1 238.8 196.8 238.4" fill="none" stroke="#86b660" stroke-width="0.9" stroke-linejoin="round" opacity="0.90"/>
<path d="M196.8 238.4 197.6 238.7 198.3 238.4 199.1 237.3 199.8 237.3 200.6 238.3" fill="none" stroke="#5c9832" stroke-width="0.95" stroke-linejoin="round" opacity="0.90"/>
<path d="M200.6 238.3 201.3 238.3 202.1 238.1 202.8 238.5 203.6 236.9 204.3 234.9 205.1 236.2 205.8 235.4 206.6 236.8 207.3 238.2 208.1 234.9 208.8 234.5 209.6 235.4 210.3 234.2 211.1 236.6 211.8 236.8 212.6 238.3 213.3 238.0 214.1 237.1 214.8 236.2 215.6 234.7 216.3 234.9 217.1 234.7 217.8 237.4 218.6 238.5 219.3 237.7 220.1 236.9 220.8 236.2 221.6 234.9 222.3 234.0 223.1 236.3 223.8 235.1 224.6 238.2 225.3 236.1 226.1 238.5 226.8 238.1 227.6 236.4 228.3 235.8 229.1 235.4 229.8 236.0 230.6 235.9 231.3 238.0 232.1 238.6 232.8 237.1 233.6 236.3 234.3 234.7 235.1 234.0 235.8 234.3 236.6 235.3 237.3 232.1 238.1 232.2 238.8 229.6 239.6 225.3 240.3 222.9 241.1 227.1 241.8 232.0 242.6 234.2 243.3 236.0 244.1 237.0 244.8 237.6 245.6 236.8 246.3 235.7 247.1 234.2 247.8 236.2 248.6 237.2 249.3 238.3" fill="none" stroke="#5c9832" stroke-width="1.05" stroke-linejoin="round" opacity="1.00"/>
<path d="M253.1 238.7 253.8 238.6 254.6 238.6 255.3 238.6 256.1 238.7 256.8 238.5 257.6 238.7 258.3 238.2 259.1 238.6 259.8 238.6 260.6 238.5 261.3 238.8 262.1 238.6 262.8 238.5 263.6 238.7 264.3 238.6 265.1 238.6 265.8 238.3 266.6 238.5 267.3 238.8 268.1 238.8 268.8 238.6 269.6 238.4 270.3 238.7 271.1 238.6 271.8 238.7 272.6 238.6 273.3 238.6 274.1 238.7 274.8 238.5 275.6 238.5" fill="none" stroke="#86b660" stroke-width="0.9" stroke-linejoin="round" opacity="0.90"/>
<path d="M279.3 238.8 280.1 238.7 280.8 238.4 281.6 238.6 282.3 238.7 283.1 238.7 283.8 238.6 284.6 238.5 285.3 238.5 286.1 238.6 286.8 238.5 287.6 238.2 288.3 238.2 289.1 238.7 289.8 238.8 290.6 238.7 291.3 238.7 292.1 238.6 292.8 238.6 293.6 238.6 294.3 238.4 295.1 238.6 295.8 238.5 296.6 238.7 297.3 238.7 298.1 238.3 298.8 238.7 299.6 238.7 300.3 238.3 301.1 238.7 301.8 238.6 302.6 238.6 303.3 238.6 304.1 238.5 304.8 238.6 305.6 238.5 306.3 238.8 307.1 238.7 307.8 238.6 308.6 238.8 309.3 238.6 310.1 238.4 310.8 238.8 311.6 238.5 312.3 238.5 313.1 238.6 313.8 238.7 314.6 238.6 315.3 238.6 316.1 238.1 316.8 238.6 317.6 238.7 318.3 238.4 319.1 238.3 319.8 238.7 320.6 238.6 321.3 238.8 322.1 238.7 322.8 238.8 323.6 238.8 324.3 238.3 325.1 238.8 325.8 238.5 326.6 238.5 327.3 238.5 328.1 237.8" fill="none" stroke="#86b660" stroke-width="0.9" stroke-linejoin="round" opacity="0.90"/>
<path d="M328.1 237.8 328.8 236.5 329.6 235.4 330.3 235.7 331.1 237.4 331.8 238.4" fill="none" stroke="#5c9832" stroke-width="1.05" stroke-linejoin="round" opacity="1.00"/>
<path d="M335.6 238.6 336.3 238.6 337.1 238.7 337.8 238.8 338.6 238.5 339.3 238.7 340.1 238.8 340.8 238.2 341.6 238.7 342.3 238.8 343.1 238.6 343.8 238.7 344.6 238.6 345.3 238.5 346.1 238.8 346.8 238.7 347.6 238.5 348.3 238.5 349.1 238.7 349.8 238.5 350.6 238.7 351.3 238.6 352.1 238.7 352.8 238.6 353.6 238.5 354.3 238.4 355.1 238.6 355.8 238.6 356.6 238.7 357.3 238.5 358.1 238.8" fill="none" stroke="#86b660" stroke-width="0.9" stroke-linejoin="round" opacity="0.90"/>
<path d="M361.8 238.4 362.6 238.7 363.3 238.6 364.1 237.9 364.8 237.5 365.6 236.8 366.3 236.9 367.1 237.7 367.8 238.4 368.6 238.4 369.3 238.7 370.1 238.2 370.8 238.7 371.6 238.7 372.3 238.6 373.1 238.8 373.8 238.4 374.6 238.4 375.3 238.6 376.1 238.4 376.8 238.6 377.6 238.8 378.3 238.7" fill="none" stroke="#86b660" stroke-width="0.9" stroke-linejoin="round" opacity="0.90"/>
<text x="233.4" y="177.9" text-anchor="middle" font-size="4.4" fill="#444">VP3</text>
<rect x="128.3" y="272.0" width="250.0" height="3.6" fill="#fdfce8"/>
<line x1="128.3" y1="273.8" x2="378.3" y2="273.8" stroke="#efedd6" stroke-width="1.1"/>
<line x1="129.3" y1="313.5" x2="133.4" y2="313.5" stroke="#aeaad4" stroke-width="1" opacity="0.13"/>
<line x1="135.7" y1="313.5" x2="136.9" y2="313.5" stroke="#aeaad4" stroke-width="1" opacity="0.26"/>
<line x1="138.0" y1="313.5" x2="142.5" y2="313.5" stroke="#aeaad4" stroke-width="1" opacity="0.35"/>
<line x1="145.8" y1="313.5" x2="147.7" y2="313.5" stroke="#aeaad4" stroke-width="1" opacity="0.26"/>
<line x1="149.7" y1="313.5" x2="152.0" y2="313.5" stroke="#aeaad4" stroke-width="1" opacity="0.34"/>
<line x1="152.9" y1="313.5" x2="157.2" y2="313.5" stroke="#aeaad4" stroke-width="1" opacity="0.16"/>
<line x1="159.9" y1="313.5" x2="163.0" y2="313.5" stroke="#aeaad4" stroke-width="1" opacity="0.39"/>
<line x1="164.3" y1="313.5" x2="167.1" y2="313.5" stroke="#aeaad4" stroke-width="1" opacity="0.42"/>
<line x1="170.4" y1="313.5" x2="171.9" y2="313.5" stroke="#aeaad4" stroke-width="1" opacity="0.47"/>
<line x1="173.6" y1="313.5" x2="176.4" y2="313.5" stroke="#aeaad4" stroke-width="1" opacity="0.29"/>
<line x1="178.4" y1="313.5" x2="182.4" y2="313.5" stroke="#aeaad4" stroke-width="1" opacity="0.32"/>
<line x1="185.8" y1="313.5" x2="190.6" y2="313.5" stroke="#aeaad4" stroke-width="1" opacity="0.16"/>
<line x1="193.1" y1="313.5" x2="197.3" y2="313.5" stroke="#aeaad4" stroke-width="1" opacity="0.14"/>
<line x1="199.2" y1="313.5" x2="204.2" y2="313.5" stroke="#aeaad4" stroke-width="1" opacity="0.34"/>
<line x1="205.0" y1="313.5" x2="208.0" y2="313.5" stroke="#aeaad4" stroke-width="1" opacity="0.27"/>
<line x1="211.2" y1="313.5" x2="213.0" y2="313.5" stroke="#aeaad4" stroke-width="1" opacity="0.20"/>
<line x1="214.6" y1="313.5" x2="217.8" y2="313.5" stroke="#aeaad4" stroke-width="1" opacity="0.41"/>
<line x1="219.6" y1="313.5" x2="221.5" y2="313.5" stroke="#aeaad4" stroke-width="1" opacity="0.21"/>
<line x1="223.3" y1="313.5" x2="228.2" y2="313.5" stroke="#aeaad4" stroke-width="1" opacity="0.44"/>
<line x1="231.3" y1="313.5" x2="234.8" y2="313.5" stroke="#aeaad4" stroke-width="1" opacity="0.17"/>
<line x1="236.6" y1="313.5" x2="241.0" y2="313.5" stroke="#aeaad4" stroke-width="1" opacity="0.13"/>
<line x1="243.1" y1="313.5" x2="244.8" y2="313.5" stroke="#aeaad4" stroke-width="1" opacity="0.39"/>
<line x1="245.8" y1="313.5" x2="250.4" y2="313.5" stroke="#aeaad4" stroke-width="1" opacity="0.42"/>
<line x1="251.8" y1="313.5" x2="254.1" y2="313.5" stroke="#aeaad4" stroke-width="1" opacity="0.45"/>
<line x1="256.7" y1="313.5" x2="260.2" y2="313.5" stroke="#aeaad4" stroke-width="1" opacity="0.26"/>
<line x1="263.2" y1="313.5" x2="264.2" y2="313.5" stroke="#aeaad4" stroke-width="1" opacity="0.34"/>
<line x1="266.4" y1="313.5" x2="268.1" y2="313.5" stroke="#aeaad4" stroke-width="1" opacity="0.24"/>
<line x1="270.0" y1="313.5" x2="271.1" y2="313.5" stroke="#aeaad4" stroke-width="1" opacity="0.27"/>
<line x1="272.7" y1="313.5" x2="275.6" y2="313.5" stroke="#aeaad4" stroke-width="1" opacity="0.27"/>
<line x1="278.3" y1="313.5" x2="283.3" y2="313.5" stroke="#aeaad4" stroke-width="1" opacity="0.47"/>
<line x1="286.3" y1="313.5" x2="290.0" y2="313.5" stroke="#aeaad4" stroke-width="1" opacity="0.32"/>
<line x1="292.7" y1="313.5" x2="296.8" y2="313.5" stroke="#aeaad4" stroke-width="1" opacity="0.35"/>
<line x1="298.6" y1="313.5" x2="302.3" y2="313.5" stroke="#aeaad4" stroke-width="1" opacity="0.23"/>
<line x1="304.6" y1="313.5" x2="305.9" y2="313.5" stroke="#aeaad4" stroke-width="1" opacity="0.26"/>
<line x1="306.9" y1="313.5" x2="310.2" y2="313.5" stroke="#aeaad4" stroke-width="1" opacity="0.39"/>
<line x1="313.1" y1="313.5" x2="315.3" y2="313.5" stroke="#aeaad4" stroke-width="1" opacity="0.22"/>
<line x1="318.6" y1="313.5" x2="322.5" y2="313.5" stroke="#aeaad4" stroke-width="1" opacity="0.41"/>
<line x1="323.5" y1="313.5" x2="327.2" y2="313.5" stroke="#aeaad4" stroke-width="1" opacity="0.46"/>
<line x1="330.5" y1="313.5" x2="334.3" y2="313.5" stroke="#aeaad4" stroke-width="1" opacity="0.40"/>
<line x1="337.3" y1="313.5" x2="340.8" y2="313.5" stroke="#aeaad4" stroke-width="1" opacity="0.32"/>
<line x1="342.2" y1="313.5" x2="346.7" y2="313.5" stroke="#aeaad4" stroke-width="1" opacity="0.49"/>
<line x1="348.2" y1="313.5" x2="351.4" y2="313.5" stroke="#aeaad4" stroke-width="1" opacity="0.12"/>
<line x1="353.2" y1="313.5" x2="355.8" y2="313.5" stroke="#aeaad4" stroke-width="1" opacity="0.37"/>
<line x1="357.1" y1="313.5" x2="361.7" y2="313.5" stroke="#aeaad4" stroke-width="1" opacity="0.35"/>
<line x1="364.9" y1="313.5" x2="367.5" y2="313.5" stroke="#aeaad4" stroke-width="1" opacity="0.38"/>
<line x1="368.6" y1="313.5" x2="371.8" y2="313.5" stroke="#aeaad4" stroke-width="1" opacity="0.26"/>
<line x1="374.5" y1="313.5" x2="378.3" y2="313.5" stroke="#aeaad4" stroke-width="1" opacity="0.24"/>
<line x1="129.3" y1="350" x2="131.4" y2="350" stroke="#aeaad4" stroke-width="1" opacity="0.46"/>
<line x1="133.9" y1="350" x2="135.5" y2="350" stroke="#aeaad4" stroke-width="1" opacity="0.41"/>
<line x1="138.0" y1="350" x2="139.9" y2="350" stroke="#aeaad4" stroke-width="1" opacity="0.34"/>
<line x1="140.9" y1="350" x2="145.2" y2="350" stroke="#aeaad4" stroke-width="1" opacity="0.40"/>
<line x1="148.4" y1="350" x2="151.1" y2="350" stroke="#aeaad4" stroke-width="1" opacity="0.32"/>
<line x1="153.0" y1="350" x2="157.6" y2="350" stroke="#aeaad4" stroke-width="1" opacity="0.23"/>
<line x1="159.2" y1="350" x2="162.7" y2="350" stroke="#aeaad4" stroke-width="1" opacity="0.19"/>
<line x1="166.1" y1="350" x2="167.2" y2="350" stroke="#aeaad4" stroke-width="1" opacity="0.33"/>
<line x1="168.3" y1="350" x2="171.7" y2="350" stroke="#aeaad4" stroke-width="1" opacity="0.19"/>
<line x1="173.0" y1="350" x2="176.4" y2="350" stroke="#aeaad4" stroke-width="1" opacity="0.38"/>
<line x1="178.9" y1="350" x2="182.9" y2="350" stroke="#aeaad4" stroke-width="1" opacity="0.30"/>
<line x1="183.8" y1="350" x2="188.2" y2="350" stroke="#aeaad4" stroke-width="1" opacity="0.24"/>
<line x1="191.5" y1="350" x2="195.9" y2="350" stroke="#aeaad4" stroke-width="1" opacity="0.47"/>
<line x1="198.5" y1="350" x2="200.4" y2="350" stroke="#aeaad4" stroke-width="1" opacity="0.44"/>
<line x1="203.1" y1="350" x2="206.0" y2="350" stroke="#aeaad4" stroke-width="1" opacity="0.19"/>
<line x1="207.1" y1="350" x2="208.7" y2="350" stroke="#aeaad4" stroke-width="1" opacity="0.18"/>
<line x1="209.7" y1="350" x2="213.2" y2="350" stroke="#aeaad4" stroke-width="1" opacity="0.41"/>
<line x1="214.3" y1="350" x2="218.2" y2="350" stroke="#aeaad4" stroke-width="1" opacity="0.43"/>
<line x1="221.2" y1="350" x2="225.1" y2="350" stroke="#aeaad4" stroke-width="1" opacity="0.48"/>
<line x1="228.4" y1="350" x2="231.9" y2="350" stroke="#aeaad4" stroke-width="1" opacity="0.16"/>
<line x1="235.3" y1="350" x2="236.7" y2="350" stroke="#aeaad4" stroke-width="1" opacity="0.20"/>
<line x1="237.7" y1="350" x2="240.2" y2="350" stroke="#aeaad4" stroke-width="1" opacity="0.38"/>
<line x1="242.2" y1="350" x2="246.2" y2="350" stroke="#aeaad4" stroke-width="1" opacity="0.27"/>
<line x1="247.2" y1="350" x2="250.4" y2="350" stroke="#aeaad4" stroke-width="1" opacity="0.16"/>
<line x1="252.2" y1="350" x2="255.6" y2="350" stroke="#aeaad4" stroke-width="1" opacity="0.38"/>
<line x1="257.4" y1="350" x2="260.4" y2="350" stroke="#aeaad4" stroke-width="1" opacity="0.48"/>
<line x1="263.8" y1="350" x2="265.1" y2="350" stroke="#aeaad4" stroke-width="1" opacity="0.39"/>
<line x1="267.9" y1="350" x2="270.1" y2="350" stroke="#aeaad4" stroke-width="1" opacity="0.30"/>
<line x1="271.2" y1="350" x2="273.6" y2="350" stroke="#aeaad4" stroke-width="1" opacity="0.47"/>
<line x1="276.4" y1="350" x2="279.0" y2="350" stroke="#aeaad4" stroke-width="1" opacity="0.31"/>
<line x1="280.5" y1="350" x2="284.3" y2="350" stroke="#aeaad4" stroke-width="1" opacity="0.34"/>
<line x1="287.3" y1="350" x2="289.4" y2="350" stroke="#aeaad4" stroke-width="1" opacity="0.44"/>
<line x1="291.1" y1="350" x2="294.2" y2="350" stroke="#aeaad4" stroke-width="1" opacity="0.28"/>
<line x1="295.2" y1="350" x2="297.1" y2="350" stroke="#aeaad4" stroke-width="1" opacity="0.15"/>
<line x1="299.7" y1="350" x2="301.8" y2="350" stroke="#aeaad4" stroke-width="1" opacity="0.30"/>
<line x1="302.9" y1="350" x2="307.8" y2="350" stroke="#aeaad4" stroke-width="1" opacity="0.27"/>
<line x1="310.1" y1="350" x2="314.8" y2="350" stroke="#aeaad4" stroke-width="1" opacity="0.26"/>
<line x1="315.8" y1="350" x2="320.1" y2="350" stroke="#aeaad4" stroke-width="1" opacity="0.41"/>
<line x1="320.9" y1="350" x2="323.3" y2="350" stroke="#aeaad4" stroke-width="1" opacity="0.22"/>
<line x1="324.2" y1="350" x2="327.0" y2="350" stroke="#aeaad4" stroke-width="1" opacity="0.32"/>
<line x1="328.9" y1="350" x2="330.1" y2="350" stroke="#aeaad4" stroke-width="1" opacity="0.49"/>
<line x1="331.5" y1="350" x2="334.2" y2="350" stroke="#aeaad4" stroke-width="1" opacity="0.15"/>
<line x1="336.3" y1="350" x2="338.4" y2="350" stroke="#aeaad4" stroke-width="1" opacity="0.38"/>
<line x1="341.8" y1="350" x2="344.8" y2="350" stroke="#aeaad4" stroke-width="1" opacity="0.27"/>
<line x1="345.8" y1="350" x2="349.9" y2="350" stroke="#aeaad4" stroke-width="1" opacity="0.35"/>
<line x1="351.9" y1="350" x2="356.5" y2="350" stroke="#aeaad4" stroke-width="1" opacity="0.36"/>
<line x1="359.0" y1="350" x2="360.1" y2="350" stroke="#aeaad4" stroke-width="1" opacity="0.41"/>
<line x1="361.0" y1="350" x2="363.7" y2="350" stroke="#aeaad4" stroke-width="1" opacity="0.43"/>
<line x1="366.8" y1="350" x2="371.5" y2="350" stroke="#aeaad4" stroke-width="1" opacity="0.50"/>
<line x1="373.3" y1="350" x2="377.3" y2="350" stroke="#aeaad4" stroke-width="1" opacity="0.18"/>
<path d="M200.4 288.2 A19.3 11.4 0 0 0 239.0 288.2" fill="none" stroke="#35a0b4" stroke-width="1.10" opacity="0.95"/>
<path d="M202.0 288.2 A18.5 10.8 0 0 0 239.0 288.2" fill="none" stroke="#35a0b4" stroke-width="1.05" opacity="0.89"/>
<path d="M204.0 288.2 A17.5 10.1 0 0 0 239.0 288.2" fill="none" stroke="#35a0b4" stroke-width="0.94" opacity="0.77"/>
<path d="M210.0 288.2 A14.0 7.8 0 0 0 238.0 288.2" fill="none" stroke="#35a0b4" stroke-width="0.72" opacity="0.53"/>
<path d="M240.0 288.2 A7.0 6.8 0 0 0 254.0 288.2" fill="none" stroke="#35a0b4" stroke-width="0.72" opacity="0.53"/>
<path d="M243.0 288.2 A34.3 17.8 0 0 0 311.7 288.2" fill="none" stroke="#35a0b4" stroke-width="0.83" opacity="0.65"/>
<path d="M243.0 288.2 A47.5 24.3 0 0 0 338.0 288.2" fill="none" stroke="#35a0b4" stroke-width="1.05" opacity="0.89"/>
<path d="M243.0 288.2 A48.5 24.6 0 0 0 340.0 288.2" fill="none" stroke="#35a0b4" stroke-width="1.05" opacity="0.89"/>
<path d="M243.0 288.2 A49.3 24.8 0 0 0 341.7 288.2" fill="none" stroke="#35a0b4" stroke-width="0.99" opacity="0.83"/>
<path d="M200.0 327.2 A19.5 10.1 0 0 0 239.0 327.2" fill="none" stroke="#2a8b66" stroke-width="1.10" opacity="0.95"/>
<path d="M202.0 327.2 A18.5 9.6 0 0 0 239.0 327.2" fill="none" stroke="#2a8b66" stroke-width="1.10" opacity="0.95"/>
<path d="M205.0 327.2 A17.0 9.0 0 0 0 239.0 327.2" fill="none" stroke="#2a8b66" stroke-width="0.99" opacity="0.83"/>
<path d="M210.0 327.2 A14.0 7.8 0 0 0 238.0 327.2" fill="none" stroke="#2a8b66" stroke-width="0.77" opacity="0.59"/>
<path d="M243.0 327.2 A34.3 17.3 0 0 0 311.7 327.2" fill="none" stroke="#2a8b66" stroke-width="0.77" opacity="0.59"/>
<path d="M243.0 327.2 A47.5 22.8 0 0 0 338.0 327.2" fill="none" stroke="#2a8b66" stroke-width="1.05" opacity="0.89"/>
<path d="M243.0 327.2 A48.5 23.3 0 0 0 340.0 327.2" fill="none" stroke="#2a8b66" stroke-width="1.05" opacity="0.89"/>
<path d="M243.0 327.2 A49.2 23.5 0 0 0 341.5 327.2" fill="none" stroke="#2a8b66" stroke-width="0.99" opacity="0.83"/>
<path d="M129.3 287.5 130.1 287.5 130.8 287.5 131.6 287.4 132.3 287.5 133.1 287.6 133.8 287.5 134.6 287.5 135.3 287.5 136.1 287.6 136.8 287.5 137.6 287.5 138.3 287.5 139.1 287.5 139.8 287.6 140.6 287.6 141.3 287.4 142.1 287.4 142.8 287.6 143.6 287.4 144.3 287.5 145.1 287.6 145.8 287.7 146.6 287.5 147.3 287.5 148.1 287.5 148.8 287.5 149.6 287.5 150.3 287.7 151.1 287.6 151.8 287.5 152.6 287.4 153.3 287.4 154.1 287.7 154.8 287.5 155.6 287.6 156.3 287.6 157.1 287.6 157.8 287.6 158.6 287.4 159.3 287.6 160.1 287.5 160.8 287.5 161.6 287.6 162.3 287.5 163.1 287.3 163.8 287.6 164.6 287.4 165.3 287.2 166.1 287.6 166.8 287.4 167.6 287.6 168.3 287.5 169.1 287.5 169.8 287.4 170.6 287.5 171.3 287.3 172.1 287.4 172.8 287.5 173.6 287.5 174.3 287.5 175.1 287.7 175.8 287.3 176.6 287.4 177.3 287.6 178.1 287.7 178.8 287.3 179.6 287.5 180.3 287.6 181.1 287.6 181.8 287.7 182.6 287.4 183.3 287.6 184.1 287.6 184.8 287.4 185.6 287.6 186.3 287.7 187.1 287.5 187.8 287.6 188.6 287.5 189.3 287.7 190.1 287.6 190.8 287.6 191.6 287.6 192.3 287.6 193.1 287.6 193.8 287.5 194.6 287.6 195.3 287.7 196.1 287.5 196.8 287.7 197.6 287.5 198.3 287.5 199.1 287.0 199.8 287.5 200.6 287.2" fill="none" stroke="#5ea5d3" stroke-width="0.9" stroke-linejoin="round" opacity="0.90"/>
<path d="M200.6 287.2 201.3 287.4 202.1 286.7 202.8 286.1 203.6 285.7 204.3 285.0 205.1 285.4 205.8 286.3 206.6 286.8 207.3 286.2 208.1 285.0 208.8 284.7 209.6 285.2 210.3 286.7 211.1 287.3 211.8 287.3" fill="none" stroke="#3389c8" stroke-width="1.05" stroke-linejoin="round" opacity="1.00"/>
<path d="M211.8 287.3 212.6 287.7 213.3 287.6 214.1 287.1 214.8 287.4 215.6 286.7" fill="none" stroke="#5ea5d3" stroke-width="0.9" stroke-linejoin="round" opacity="0.90"/>
<path d="M215.6 286.7 216.3 287.4 217.1 286.5 217.8 287.0 218.6 286.1 219.3 285.1 220.1 284.4 220.8 285.3 221.6 286.0 222.3 287.3 223.1 287.5" fill="none" stroke="#3389c8" stroke-width="1.05" stroke-linejoin="round" opacity="1.00"/>
<path d="M223.1 287.5 223.8 287.3 224.6 286.7 225.3 287.4 226.1 287.3 226.8 287.3 227.6 287.4 228.3 286.9 229.1 286.9 229.8 287.6 230.6 287.5" fill="none" stroke="#5ea5d3" stroke-width="0.9" stroke-linejoin="round" opacity="0.90"/>
<path d="M230.6 287.5 231.3 287.3 232.1 287.3 232.8 286.8 233.6 285.2 234.3 283.1 235.1 281.6 235.8 280.5 236.6 279.7 237.3 279.0 238.1 278.9 238.8 279.5 239.6 278.1 240.3 277.2 241.1 279.7 241.8 282.1 242.6 282.5 243.3 283.7 244.1 286.0 244.8 287.0 245.6 287.5" fill="none" stroke="#3389c8" stroke-width="1.05" stroke-linejoin="round" opacity="1.00"/>
<path d="M245.6 287.5 246.3 287.6 247.1 287.3 247.8 287.5 248.6 287.5 249.3 287.5 250.1 287.6 250.8 287.4 251.6 287.6 252.3 287.4 253.1 287.5 253.8 287.6 254.6 287.6 255.3 287.7 256.1 287.6 256.8 287.5 257.6 287.2 258.3 287.6 259.1 287.3 259.8 287.6 260.6 287.6 261.3 287.5 262.1 287.7 262.8 287.6 263.6 287.7 264.3 287.6 265.1 287.7 265.8 287.5 266.6 287.5 267.3 287.6 268.1 287.5 268.8 287.7 269.6 287.6 270.3 287.4 271.1 287.6 271.8 287.7 272.6 287.7 273.3 287.1 274.1 287.5 274.8 287.4 275.6 287.2 276.3 287.2 277.1 287.6 277.8 287.5 278.6 287.6 279.3 287.6 280.1 287.5 280.8 287.5 281.6 287.6 282.3 287.4 283.1 287.4 283.8 287.6 284.6 287.7 285.3 287.5 286.1 287.4 286.8 287.7 287.6 287.3 288.3 287.5 289.1 287.3 289.8 287.5 290.6 287.5 291.3 287.7 292.1 287.6 292.8 287.4 293.6 287.4 294.3 287.6 295.1 287.6 295.8 287.7 296.6 287.2 297.3 287.7 298.1 287.7 298.8 287.6 299.6 287.6 300.3 287.5 301.1 287.4 301.8 287.6 302.6 287.4 303.3 287.2 304.1 287.6 304.8 287.3 305.6 287.5 306.3 287.7 307.1 287.5 307.8 287.5 308.6 287.3 309.3 286.3 310.1 285.7 310.8 285.5 311.6 286.5 312.3 287.1 313.1 287.5 313.8 287.5 314.6 287.6 315.3 287.7 316.1 287.6 316.8 287.5 317.6 287.5 318.3 287.4 319.1 287.5 319.8 287.5 320.6 287.6 321.3 287.4 322.1 287.4 322.8 287.4 323.6 287.5 324.3 287.7 325.1 287.5 325.8 287.6 326.6 287.5 327.3 287.5 328.1 287.5 328.8 287.6 329.6 287.5 330.3 287.5 331.1 287.6 331.8 287.6 332.6 287.6 333.3 287.5 334.1 287.7 334.8 287.6 335.6 287.4" fill="none" stroke="#5ea5d3" stroke-width="0.9" stroke-linejoin="round" opacity="0.90"/>
<path d="M335.6 287.4 336.3 287.6 337.1 287.2 337.8 286.2 338.6 285.4 339.3 285.0 340.1 286.0 340.8 286.9 341.6 287.3 342.3 287.5 343.1 287.5" fill="none" stroke="#3389c8" stroke-width="1.05" stroke-linejoin="round" opacity="1.00"/>
<path d="M343.1 287.5 343.8 287.5 344.6 287.6 345.3 287.6 346.1 287.4 346.8 287.6 347.6 287.6 348.3 287.6 349.1 287.6 349.8 287.6 350.6 287.6 351.3 287.5 352.1 287.5 352.8 287.5 353.6 287.4 354.3 287.7 355.1 287.4 355.8 287.6 356.6 287.7 357.3 287.3 358.1 287.3 358.8 287.6 359.6 287.6 360.3 287.5 361.1 287.4 361.8 287.5 362.6 287.3 363.3 287.6 364.1 287.7 364.8 287.3 365.6 287.7 366.3 287.7 367.1 287.4 367.8 287.7 368.6 287.2 369.3 287.7 370.1 287.6 370.8 287.7 371.6 287.5 372.3 287.3 373.1 287.7 373.8 287.6 374.6 287.7 375.3 287.5 376.1 287.5 376.8 287.4 377.6 287.5 378.3 287.3" fill="none" stroke="#5ea5d3" stroke-width="0.9" stroke-linejoin="round" opacity="0.90"/>
<path d="M129.3 326.7 130.1 326.3 130.8 326.6 131.6 326.6 132.3 326.4 133.1 326.1 133.8 326.3 134.6 326.5 135.3 326.4 136.1 326.6 136.8 326.6 137.6 326.4 138.3 326.3 139.1 326.4 139.8 326.2 140.6 326.6 141.3 326.6 142.1 326.6 142.8 326.3 143.6 326.6 144.3 326.7 145.1 326.6 145.8 326.7 146.6 326.5 147.3 326.2 148.1 326.6 148.8 326.7 149.6 326.6 150.3 326.3 151.1 326.4 151.8 326.7 152.6 326.6 153.3 326.7 154.1 326.5 154.8 326.6 155.6 326.6 156.3 326.6 157.1 326.6 157.8 326.7 158.6 326.5 159.3 326.5 160.1 326.7 160.8 326.6 161.6 326.6 162.3 326.6 163.1 326.2 163.8 326.5 164.6 326.7 165.3 326.6 166.1 326.6 166.8 326.6 167.6 326.5 168.3 326.4 169.1 326.7 169.8 326.6 170.6 326.6 171.3 326.5 172.1 326.6 172.8 326.3 173.6 326.1 174.3 326.7 175.1 326.7 175.8 326.1 176.6 326.5 177.3 326.2 178.1 326.3" fill="none" stroke="#86b660" stroke-width="0.9" stroke-linejoin="round" opacity="0.90"/>
<path d="M181.8 326.4 182.6 326.1 183.3 326.6 184.1 326.4 184.8 326.6 185.6 326.7 186.3 326.6 187.1 326.4 187.8 326.6 188.6 326.6 189.3 326.5 190.1 326.7 190.8 326.5 191.6 326.5 192.3 326.7 193.1 326.7 193.8 326.4 194.6 326.5 195.3 326.7 196.1 326.7 196.8 326.3" fill="none" stroke="#86b660" stroke-width="0.9" stroke-linejoin="round" opacity="0.90"/>
<path d="M196.8 326.3 197.6 326.5 198.3 326.1 199.1 326.5 199.8 326.3 200.6 326.7" fill="none" stroke="#5c9832" stroke-width="0.95" stroke-linejoin="round" opacity="0.90"/>
<path d="M200.6 326.7 201.3 326.1 202.1 325.2 202.8 324.9 203.6 323.3 204.3 323.1 205.1 324.7 205.8 325.9 206.6 325.7 207.3 326.0 208.1 324.9" fill="none" stroke="#5c9832" stroke-width="1.05" stroke-linejoin="round" opacity="1.00"/>
<path d="M208.1 324.9 208.8 324.4 209.6 324.4 210.3 325.6 211.1 326.2 211.8 325.8 212.6 326.5 213.3 326.6 214.1 325.9 214.8 326.1 215.6 326.6" fill="none" stroke="#5c9832" stroke-width="0.95" stroke-linejoin="round" opacity="0.90"/>
<path d="M215.6 326.6 216.3 325.9 217.1 326.3 217.8 325.1 218.6 325.5 219.3 324.0 220.1 323.0 220.8 323.6 221.6 324.8 222.3 325.7 223.1 325.9 223.8 325.1 224.6 324.2 225.3 324.0 226.1 324.4 226.8 325.1" fill="none" stroke="#5c9832" stroke-width="1.05" stroke-linejoin="round" opacity="1.00"/>
<path d="M226.8 325.1 227.6 326.3 228.3 326.1 229.1 326.5 229.8 326.3 230.6 326.5" fill="none" stroke="#5c9832" stroke-width="0.95" stroke-linejoin="round" opacity="0.90"/>
<path d="M230.6 326.5 231.3 325.8 232.1 326.0 232.8 324.9 233.6 323.2 234.3 321.8 235.1 320.3 235.8 319.9 236.6 320.2 237.3 320.4 238.1 317.6 238.8 316.5 239.6 316.9 240.3 315.1 241.1 316.4 241.8 319.2 242.6 321.0 243.3 322.5 244.1 324.4 244.8 326.2 245.6 326.3" fill="none" stroke="#5c9832" stroke-width="1.05" stroke-linejoin="round" opacity="1.00"/>
<path d="M245.6 326.3 246.3 326.6 247.1 326.1 247.8 326.6 248.6 326.4 249.3 326.6 250.1 326.5 250.8 326.5 251.6 326.2 252.3 326.3 253.1 326.6 253.8 326.5 254.6 326.3 255.3 326.7 256.1 326.5 256.8 326.6" fill="none" stroke="#86b660" stroke-width="0.9" stroke-linejoin="round" opacity="0.90"/>
<path d="M260.6 326.7 261.3 326.7 262.1 326.4 262.8 326.6 263.6 326.6 264.3 326.4" fill="none" stroke="#86b660" stroke-width="0.9" stroke-linejoin="round" opacity="0.90"/>
<path d="M268.1 326.6 268.8 326.5 269.6 326.6 270.3 326.6 271.1 326.5 271.8 326.7 272.6 326.3 273.3 326.4 274.1 326.5 274.8 326.4 275.6 326.2 276.3 326.7 277.1 326.5 277.8 326.5 278.6 326.4 279.3 326.4 280.1 326.4 280.8 326.4 281.6 326.5 282.3 326.5 283.1 326.4 283.8 326.4 284.6 326.6 285.3 326.6 286.1 326.4 286.8 326.6 287.6 326.6 288.3 326.6 289.1 326.6 289.8 326.3 290.6 326.6 291.3 326.5 292.1 326.5 292.8 326.4 293.6 326.6 294.3 326.5 295.1 326.7 295.8 326.7 296.6 326.5 297.3 326.6 298.1 326.1 298.8 326.6 299.6 326.5 300.3 326.4 301.1 326.5 301.8 326.7 302.6 326.6 303.3 326.7 304.1 326.4 304.8 326.7 305.6 326.7 306.3 326.6 307.1 326.7 307.8 326.5 308.6 326.4 309.3 326.5 310.1 325.9 310.8 325.6 311.6 324.6 312.3 324.6 313.1 325.5 313.8 326.2 314.6 326.5 315.3 326.3 316.1 326.3 316.8 326.7 317.6 326.6 318.3 326.6 319.1 326.5 319.8 326.4 320.6 326.7 321.3 326.6 322.1 326.6 322.8 326.5 323.6 326.4 324.3 326.6 325.1 326.7 325.8 326.4 326.6 326.5 327.3 326.4 328.1 326.3 328.8 326.5 329.6 326.4 330.3 326.4 331.1 326.4 331.8 326.6 332.6 326.4 333.3 326.6 334.1 326.5 334.8 326.3 335.6 326.2 336.3 326.5 337.1 326.1 337.8 325.6 338.6 324.8 339.3 324.4 340.1 325.4 340.8 325.5 341.6 326.5 342.3 326.3 343.1 326.6 343.8 326.6 344.6 326.6 345.3 326.7 346.1 326.6 346.8 326.4 347.6 326.4 348.3 326.6 349.1 326.2 349.8 326.6 350.6 326.7 351.3 326.6 352.1 326.6 352.8 326.4 353.6 326.0 354.3 325.4 355.1 324.8 355.8 325.2 356.6 325.9 357.3 326.4 358.1 326.4 358.8 326.6 359.6 326.6 360.3 326.7 361.1 326.5 361.8 326.6 362.6 326.5 363.3 326.5 364.1 326.6 364.8 326.5 365.6 326.6 366.3 326.7 367.1 326.7 367.8 326.1 368.6 326.5 369.3 326.7 370.1 326.5 370.8 326.7 371.6 326.6 372.3 326.4 373.1 326.7 373.8 326.6 374.6 326.5 375.3 326.6 376.1 326.4 376.8 326.7" fill="none" stroke="#86b660" stroke-width="0.9" stroke-linejoin="round" opacity="0.90"/>
<text x="237" y="277.40000000000003" text-anchor="middle" font-size="4.4" fill="#444">VP4</text>
<rect x="128.3" y="359.0" width="250.0" height="3.6" fill="#fdfce8"/>
<line x1="128.3" y1="360.8" x2="378.3" y2="360.8" stroke="#e4e0bc" stroke-width="1.1"/>
<line x1="129.3" y1="407.5" x2="133.4" y2="407.5" stroke="#aeaad4" stroke-width="1" opacity="0.49"/>
<line x1="135.4" y1="407.5" x2="140.3" y2="407.5" stroke="#aeaad4" stroke-width="1" opacity="0.28"/>
<line x1="141.7" y1="407.5" x2="143.8" y2="407.5" stroke="#aeaad4" stroke-width="1" opacity="0.23"/>
<line x1="145.9" y1="407.5" x2="149.5" y2="407.5" stroke="#aeaad4" stroke-width="1" opacity="0.18"/>
<line x1="150.7" y1="407.5" x2="153.5" y2="407.5" stroke="#aeaad4" stroke-width="1" opacity="0.26"/>
<line x1="154.5" y1="407.5" x2="159.1" y2="407.5" stroke="#aeaad4" stroke-width="1" opacity="0.19"/>
<line x1="162.3" y1="407.5" x2="163.4" y2="407.5" stroke="#aeaad4" stroke-width="1" opacity="0.49"/>
<line x1="166.4" y1="407.5" x2="169.8" y2="407.5" stroke="#aeaad4" stroke-width="1" opacity="0.21"/>
<line x1="171.0" y1="407.5" x2="175.6" y2="407.5" stroke="#aeaad4" stroke-width="1" opacity="0.13"/>
<line x1="179.0" y1="407.5" x2="180.7" y2="407.5" stroke="#aeaad4" stroke-width="1" opacity="0.22"/>
<line x1="182.7" y1="407.5" x2="186.7" y2="407.5" stroke="#aeaad4" stroke-width="1" opacity="0.41"/>
<line x1="188.5" y1="407.5" x2="190.1" y2="407.5" stroke="#aeaad4" stroke-width="1" opacity="0.49"/>
<line x1="192.3" y1="407.5" x2="196.1" y2="407.5" stroke="#aeaad4" stroke-width="1" opacity="0.16"/>
<line x1="197.2" y1="407.5" x2="200.7" y2="407.5" stroke="#aeaad4" stroke-width="1" opacity="0.26"/>
<line x1="202.5" y1="407.5" x2="205.4" y2="407.5" stroke="#aeaad4" stroke-width="1" opacity="0.49"/>
<line x1="207.8" y1="407.5" x2="209.8" y2="407.5" stroke="#aeaad4" stroke-width="1" opacity="0.22"/>
<line x1="212.1" y1="407.5" x2="215.3" y2="407.5" stroke="#aeaad4" stroke-width="1" opacity="0.17"/>
<line x1="218.1" y1="407.5" x2="221.0" y2="407.5" stroke="#aeaad4" stroke-width="1" opacity="0.12"/>
<line x1="223.7" y1="407.5" x2="227.8" y2="407.5" stroke="#aeaad4" stroke-width="1" opacity="0.31"/>
<line x1="229.7" y1="407.5" x2="233.2" y2="407.5" stroke="#aeaad4" stroke-width="1" opacity="0.14"/>
<line x1="236.1" y1="407.5" x2="239.1" y2="407.5" stroke="#aeaad4" stroke-width="1" opacity="0.27"/>
<line x1="240.0" y1="407.5" x2="242.4" y2="407.5" stroke="#aeaad4" stroke-width="1" opacity="0.23"/>
<line x1="243.2" y1="407.5" x2="246.0" y2="407.5" stroke="#aeaad4" stroke-width="1" opacity="0.47"/>
<line x1="248.6" y1="407.5" x2="251.1" y2="407.5" stroke="#aeaad4" stroke-width="1" opacity="0.39"/>
<line x1="253.3" y1="407.5" x2="258.1" y2="407.5" stroke="#aeaad4" stroke-width="1" opacity="0.50"/>
<line x1="261.4" y1="407.5" x2="263.7" y2="407.5" stroke="#aeaad4" stroke-width="1" opacity="0.47"/>
<line x1="264.9" y1="407.5" x2="266.2" y2="407.5" stroke="#aeaad4" stroke-width="1" opacity="0.40"/>
<line x1="268.2" y1="407.5" x2="271.3" y2="407.5" stroke="#aeaad4" stroke-width="1" opacity="0.47"/>
<line x1="273.2" y1="407.5" x2="275.4" y2="407.5" stroke="#aeaad4" stroke-width="1" opacity="0.44"/>
<line x1="277.7" y1="407.5" x2="279.2" y2="407.5" stroke="#aeaad4" stroke-width="1" opacity="0.31"/>
<line x1="281.0" y1="407.5" x2="284.2" y2="407.5" stroke="#aeaad4" stroke-width="1" opacity="0.29"/>
<line x1="285.6" y1="407.5" x2="286.8" y2="407.5" stroke="#aeaad4" stroke-width="1" opacity="0.25"/>
<line x1="287.9" y1="407.5" x2="289.4" y2="407.5" stroke="#aeaad4" stroke-width="1" opacity="0.22"/>
<line x1="292.9" y1="407.5" x2="295.0" y2="407.5" stroke="#aeaad4" stroke-width="1" opacity="0.40"/>
<line x1="297.9" y1="407.5" x2="299.9" y2="407.5" stroke="#aeaad4" stroke-width="1" opacity="0.36"/>
<line x1="303.0" y1="407.5" x2="305.5" y2="407.5" stroke="#aeaad4" stroke-width="1" opacity="0.21"/>
<line x1="308.0" y1="407.5" x2="310.1" y2="407.5" stroke="#aeaad4" stroke-width="1" opacity="0.29"/>
<line x1="313.2" y1="407.5" x2="317.8" y2="407.5" stroke="#aeaad4" stroke-width="1" opacity="0.17"/>
<line x1="319.1" y1="407.5" x2="320.3" y2="407.5" stroke="#aeaad4" stroke-width="1" opacity="0.33"/>
<line x1="323.1" y1="407.5" x2="324.1" y2="407.5" stroke="#aeaad4" stroke-width="1" opacity="0.43"/>
<line x1="325.1" y1="407.5" x2="328.0" y2="407.5" stroke="#aeaad4" stroke-width="1" opacity="0.14"/>
<line x1="331.2" y1="407.5" x2="334.6" y2="407.5" stroke="#aeaad4" stroke-width="1" opacity="0.39"/>
<line x1="335.7" y1="407.5" x2="339.1" y2="407.5" stroke="#aeaad4" stroke-width="1" opacity="0.20"/>
<line x1="341.6" y1="407.5" x2="346.4" y2="407.5" stroke="#aeaad4" stroke-width="1" opacity="0.14"/>
<line x1="347.5" y1="407.5" x2="351.2" y2="407.5" stroke="#aeaad4" stroke-width="1" opacity="0.15"/>
<line x1="352.2" y1="407.5" x2="355.1" y2="407.5" stroke="#aeaad4" stroke-width="1" opacity="0.46"/>
<line x1="357.6" y1="407.5" x2="361.5" y2="407.5" stroke="#aeaad4" stroke-width="1" opacity="0.36"/>
<line x1="362.5" y1="407.5" x2="366.9" y2="407.5" stroke="#aeaad4" stroke-width="1" opacity="0.41"/>
<line x1="368.0" y1="407.5" x2="370.0" y2="407.5" stroke="#aeaad4" stroke-width="1" opacity="0.12"/>
<line x1="371.7" y1="407.5" x2="375.7" y2="407.5" stroke="#aeaad4" stroke-width="1" opacity="0.46"/>
<line x1="377.9" y1="407.5" x2="378.3" y2="407.5" stroke="#aeaad4" stroke-width="1" opacity="0.20"/>
<line x1="129.3" y1="446" x2="131.4" y2="446" stroke="#aeaad4" stroke-width="1" opacity="0.20"/>
<line x1="134.7" y1="446" x2="136.1" y2="446" stroke="#aeaad4" stroke-width="1" opacity="0.15"/>
<line x1="137.8" y1="446" x2="140.5" y2="446" stroke="#aeaad4" stroke-width="1" opacity="0.37"/>
<line x1="143.0" y1="446" x2="144.7" y2="446" stroke="#aeaad4" stroke-width="1" opacity="0.31"/>
<line x1="145.9" y1="446" x2="149.6" y2="446" stroke="#aeaad4" stroke-width="1" opacity="0.34"/>
<line x1="151.6" y1="446" x2="156.3" y2="446" stroke="#aeaad4" stroke-width="1" opacity="0.22"/>
<line x1="157.5" y1="446" x2="160.4" y2="446" stroke="#aeaad4" stroke-width="1" opacity="0.46"/>
<line x1="162.7" y1="446" x2="165.9" y2="446" stroke="#aeaad4" stroke-width="1" opacity="0.28"/>
<line x1="168.5" y1="446" x2="172.6" y2="446" stroke="#aeaad4" stroke-width="1" opacity="0.23"/>
<line x1="175.7" y1="446" x2="177.1" y2="446" stroke="#aeaad4" stroke-width="1" opacity="0.26"/>
<line x1="178.6" y1="446" x2="183.2" y2="446" stroke="#aeaad4" stroke-width="1" opacity="0.36"/>
<line x1="184.7" y1="446" x2="188.3" y2="446" stroke="#aeaad4" stroke-width="1" opacity="0.16"/>
<line x1="191.6" y1="446" x2="195.7" y2="446" stroke="#aeaad4" stroke-width="1" opacity="0.16"/>
<line x1="197.4" y1="446" x2="201.0" y2="446" stroke="#aeaad4" stroke-width="1" opacity="0.34"/>
<line x1="204.0" y1="446" x2="205.2" y2="446" stroke="#aeaad4" stroke-width="1" opacity="0.27"/>
<line x1="208.7" y1="446" x2="212.2" y2="446" stroke="#aeaad4" stroke-width="1" opacity="0.22"/>
<line x1="215.0" y1="446" x2="217.6" y2="446" stroke="#aeaad4" stroke-width="1" opacity="0.16"/>
<line x1="219.3" y1="446" x2="220.5" y2="446" stroke="#aeaad4" stroke-width="1" opacity="0.28"/>
<line x1="223.3" y1="446" x2="227.8" y2="446" stroke="#aeaad4" stroke-width="1" opacity="0.23"/>
<line x1="228.7" y1="446" x2="230.4" y2="446" stroke="#aeaad4" stroke-width="1" opacity="0.42"/>
<line x1="233.8" y1="446" x2="238.4" y2="446" stroke="#aeaad4" stroke-width="1" opacity="0.16"/>
<line x1="240.5" y1="446" x2="243.2" y2="446" stroke="#aeaad4" stroke-width="1" opacity="0.13"/>
<line x1="244.6" y1="446" x2="247.9" y2="446" stroke="#aeaad4" stroke-width="1" opacity="0.16"/>
<line x1="249.5" y1="446" x2="252.5" y2="446" stroke="#aeaad4" stroke-width="1" opacity="0.48"/>
<line x1="255.8" y1="446" x2="258.7" y2="446" stroke="#aeaad4" stroke-width="1" opacity="0.41"/>
<line x1="259.8" y1="446" x2="261.2" y2="446" stroke="#aeaad4" stroke-width="1" opacity="0.15"/>
<line x1="263.5" y1="446" x2="268.4" y2="446" stroke="#aeaad4" stroke-width="1" opacity="0.29"/>
<line x1="270.7" y1="446" x2="272.8" y2="446" stroke="#aeaad4" stroke-width="1" opacity="0.49"/>
<line x1="275.1" y1="446" x2="277.8" y2="446" stroke="#aeaad4" stroke-width="1" opacity="0.32"/>
<line x1="279.1" y1="446" x2="283.8" y2="446" stroke="#aeaad4" stroke-width="1" opacity="0.36"/>
<line x1="285.7" y1="446" x2="290.3" y2="446" stroke="#aeaad4" stroke-width="1" opacity="0.43"/>
<line x1="292.0" y1="446" x2="295.1" y2="446" stroke="#aeaad4" stroke-width="1" opacity="0.14"/>
<line x1="296.3" y1="446" x2="301.1" y2="446" stroke="#aeaad4" stroke-width="1" opacity="0.29"/>
<line x1="303.1" y1="446" x2="307.8" y2="446" stroke="#aeaad4" stroke-width="1" opacity="0.31"/>
<line x1="310.1" y1="446" x2="312.3" y2="446" stroke="#aeaad4" stroke-width="1" opacity="0.22"/>
<line x1="315.1" y1="446" x2="318.0" y2="446" stroke="#aeaad4" stroke-width="1" opacity="0.35"/>
<line x1="320.8" y1="446" x2="322.3" y2="446" stroke="#aeaad4" stroke-width="1" opacity="0.38"/>
<line x1="323.7" y1="446" x2="327.6" y2="446" stroke="#aeaad4" stroke-width="1" opacity="0.50"/>
<line x1="328.7" y1="446" x2="330.2" y2="446" stroke="#aeaad4" stroke-width="1" opacity="0.15"/>
<line x1="331.5" y1="446" x2="334.3" y2="446" stroke="#aeaad4" stroke-width="1" opacity="0.45"/>
<line x1="336.7" y1="446" x2="338.4" y2="446" stroke="#aeaad4" stroke-width="1" opacity="0.16"/>
<line x1="341.1" y1="446" x2="344.4" y2="446" stroke="#aeaad4" stroke-width="1" opacity="0.26"/>
<line x1="345.9" y1="446" x2="347.1" y2="446" stroke="#aeaad4" stroke-width="1" opacity="0.17"/>
<line x1="349.8" y1="446" x2="353.9" y2="446" stroke="#aeaad4" stroke-width="1" opacity="0.34"/>
<line x1="355.6" y1="446" x2="359.1" y2="446" stroke="#aeaad4" stroke-width="1" opacity="0.45"/>
<line x1="361.3" y1="446" x2="365.9" y2="446" stroke="#aeaad4" stroke-width="1" opacity="0.25"/>
<line x1="367.5" y1="446" x2="372.0" y2="446" stroke="#aeaad4" stroke-width="1" opacity="0.28"/>
<line x1="373.2" y1="446" x2="375.8" y2="446" stroke="#aeaad4" stroke-width="1" opacity="0.17"/>
<path d="M195.4 380.9 A31.3 16.4 0 0 0 258.0 380.9" fill="none" stroke="#35a0b4" stroke-width="0.99" opacity="0.83"/>
<path d="M249.7 380.9 A6.3 3.7 0 0 0 262.4 380.9" fill="none" stroke="#35a0b4" stroke-width="0.77" opacity="0.59"/>
<path d="M259.0 380.9 A37.8 18.6 0 0 0 334.5 380.9" fill="none" stroke="#35a0b4" stroke-width="1.05" opacity="0.89"/>
<path d="M259.0 380.9 A39.0 19.1 0 0 0 337.0 380.9" fill="none" stroke="#35a0b4" stroke-width="1.05" opacity="0.89"/>
<path d="M259.0 380.9 A40.0 19.1 0 0 0 339.0 380.9" fill="none" stroke="#35a0b4" stroke-width="0.99" opacity="0.83"/>
<path d="M259.0 380.9 A53.4 23.6 0 0 0 365.8 380.9" fill="none" stroke="#35a0b4" stroke-width="0.77" opacity="0.59"/>
<path d="M259.0 380.9 A46.5 21.1 0 0 0 352.0 380.9" fill="none" stroke="#35a0b4" stroke-width="0.72" opacity="0.53"/>
<path d="M178.0 424.3 A40.0 19.6 0 0 0 258.0 424.3" fill="none" stroke="#2a8b66" stroke-width="0.88" opacity="0.71"/>
<path d="M183.9 424.3 A37.0 19.2 0 0 0 258.0 424.3" fill="none" stroke="#2a8b66" stroke-width="0.88" opacity="0.71"/>
<path d="M196.6 424.3 A30.7 15.7 0 0 0 258.0 424.3" fill="none" stroke="#2a8b66" stroke-width="1.05" opacity="0.89"/>
<path d="M200.0 424.3 A29.0 14.7 0 0 0 258.0 424.3" fill="none" stroke="#2a8b66" stroke-width="0.99" opacity="0.83"/>
<path d="M217.3 424.3 A20.3 8.7 0 0 0 258.0 424.3" fill="none" stroke="#2a8b66" stroke-width="0.83" opacity="0.65"/>
<path d="M259.0 424.3 A19.8 10.2 0 0 0 298.5 424.3" fill="none" stroke="#2a8b66" stroke-width="0.77" opacity="0.59"/>
<path d="M259.0 424.3 A36.5 17.7 0 0 0 332.0 424.3" fill="none" stroke="#2a8b66" stroke-width="1.05" opacity="0.89"/>
<path d="M259.0 424.3 A39.0 18.7 0 0 0 337.0 424.3" fill="none" stroke="#2a8b66" stroke-width="1.05" opacity="0.89"/>
<path d="M259.0 424.3 A42.0 19.1 0 0 0 343.0 424.3" fill="none" stroke="#2a8b66" stroke-width="0.99" opacity="0.83"/>
<path d="M129.3 379.9 130.1 380.3 130.8 380.3 131.6 379.7 132.3 380.4 133.1 380.2 133.8 380.2 134.6 380.3 135.3 379.7 136.1 379.8 136.8 380.2 137.6 380.2 138.3 380.1 139.1 380.2 139.8 380.4 140.6 380.3" fill="none" stroke="#5ea5d3" stroke-width="0.9" stroke-linejoin="round" opacity="0.90"/>
<path d="M140.6 380.3 141.3 380.2 142.1 379.5 142.8 378.0 143.6 376.2 144.3 375.0 145.1 374.6 145.8 376.1 146.6 377.3 147.3 378.9 148.1 379.8" fill="none" stroke="#3389c8" stroke-width="1.05" stroke-linejoin="round" opacity="1.00"/>
<path d="M151.8 379.4 152.6 379.9 153.3 380.0 154.1 380.1 154.8 380.4 155.6 380.0 156.3 380.1 157.1 379.1 157.8 379.7 158.6 379.8 159.3 379.7 160.1 380.3 160.8 380.3 161.6 379.9 162.3 380.1 163.1 380.0 163.8 380.4 164.6 380.2 165.3 380.2 166.1 380.3 166.8 380.1 167.6 379.8 168.3 380.0 169.1 380.1 169.8 379.1 170.6 380.4 171.3 379.7 172.1 380.1 172.8 380.3 173.6 380.0 174.3 379.8 175.1 380.2 175.8 379.7 176.6 379.9 177.3 379.7 178.1 380.1" fill="none" stroke="#5ea5d3" stroke-width="0.9" stroke-linejoin="round" opacity="0.90"/>
<path d="M178.1 380.1 178.8 379.9 179.6 380.2 180.3 379.5 181.1 379.3 181.8 377.6 182.6 375.8 183.3 374.9 184.1 375.8 184.8 377.7 185.6 378.8" fill="none" stroke="#3389c8" stroke-width="1.05" stroke-linejoin="round" opacity="1.00"/>
<path d="M185.6 378.8 186.3 379.5 187.1 380.0 187.8 380.0 188.6 380.0 189.3 380.1 190.1 379.9 190.8 380.2 191.6 380.0 192.3 380.1 193.1 379.6" fill="none" stroke="#5ea5d3" stroke-width="0.9" stroke-linejoin="round" opacity="0.90"/>
<path d="M193.1 379.6 193.8 379.1 194.6 379.8 195.3 379.1 196.1 377.7 196.8 378.3" fill="none" stroke="#3389c8" stroke-width="1.05" stroke-linejoin="round" opacity="1.00"/>
<path d="M196.8 378.3 197.6 378.7 198.3 379.8 199.1 380.2 199.8 379.7 200.6 379.8 201.3 379.8 202.1 380.2 202.8 380.2 203.6 380.1 204.3 380.2 205.1 379.9 205.8 378.4 206.6 378.4 207.3 378.3 208.1 379.0 208.8 379.6 209.6 380.1 210.3 380.1 211.1 380.1 211.8 380.3 212.6 379.7 213.3 380.3 214.1 380.1 214.8 379.9 215.6 380.3 216.3 380.1 217.1 380.2 217.8 380.3 218.6 379.9 219.3 379.9 220.1 379.8 220.8 379.9 221.6 380.0 222.3 379.5 223.1 380.1 223.8 380.3 224.6 380.4 225.3 380.3 226.1 380.4 226.8 380.2 227.6 380.1 228.3 379.7 229.1 380.2 229.8 380.1 230.6 379.7" fill="none" stroke="#5ea5d3" stroke-width="0.9" stroke-linejoin="round" opacity="0.90"/>
<path d="M230.6 379.7 231.3 377.6 232.1 378.4 232.8 378.4 233.6 378.7 234.3 379.9" fill="none" stroke="#3389c8" stroke-width="1.05" stroke-linejoin="round" opacity="1.00"/>
<path d="M234.3 379.9 235.1 380.2 235.8 379.9 236.6 380.2 237.3 379.9 238.1 379.7" fill="none" stroke="#5ea5d3" stroke-width="0.9" stroke-linejoin="round" opacity="0.90"/>
<path d="M238.1 379.7 238.8 380.4 239.6 378.8 240.3 380.4 241.1 379.5 241.8 378.4 242.6 379.5 243.3 379.8 244.1 378.3 244.8 379.1 245.6 379.7" fill="none" stroke="#3389c8" stroke-width="0.95" stroke-linejoin="round" opacity="0.90"/>
<path d="M245.6 379.7 246.3 379.7 247.1 378.4 247.8 378.5 248.6 376.3 249.3 375.0 250.1 371.0 250.8 373.7 251.6 373.6 252.3 374.0 253.1 374.9 253.8 377.9 254.6 374.8 255.3 367.3 256.1 364.9 256.8 371.0 257.6 375.0 258.3 375.0 259.1 374.1 259.8 375.2 260.6 373.7 261.3 368.9 262.1 368.0 262.8 372.9 263.6 377.0 264.3 377.7 265.1 375.9 265.8 373.9 266.6 375.2 267.3 377.5 268.1 377.1 268.8 377.4 269.6 376.5 270.3 377.4 271.1 379.2 271.8 379.3 272.6 378.5 273.3 378.6 274.1 378.0 274.8 376.5 275.6 377.0 276.3 378.2 277.1 376.6 277.8 377.6 278.6 378.0 279.3 374.3 280.1 376.3 280.8 377.5 281.6 377.8 282.3 379.5 283.1 380.2" fill="none" stroke="#3389c8" stroke-width="1.05" stroke-linejoin="round" opacity="1.00"/>
<path d="M283.1 380.2 283.8 380.4 284.6 379.5 285.3 379.4 286.1 380.2 286.8 379.9 287.6 379.4 288.3 379.4 289.1 380.2 289.8 379.7 290.6 380.1 291.3 380.4 292.1 380.1 292.8 380.4 293.6 378.9 294.3 380.3 295.1 380.2 295.8 379.6 296.6 380.3 297.3 379.7 298.1 379.9 298.8 379.1 299.6 379.0 300.3 378.2 301.1 378.7 301.8 379.8 302.6 379.8 303.3 380.2 304.1 380.0 304.8 379.8 305.6 378.7 306.3 380.3 307.1 379.8 307.8 380.1 308.6 379.0 309.3 380.0 310.1 379.5 310.8 379.9 311.6 379.8 312.3 379.4 313.1 379.8 313.8 380.2 314.6 379.9 315.3 379.7 316.1 380.2 316.8 380.1 317.6 379.4 318.3 380.4 319.1 379.4 319.8 380.3 320.6 379.2 321.3 379.4 322.1 380.3 322.8 380.3 323.6 379.9 324.3 379.8 325.1 379.9 325.8 379.5 326.6 379.8 327.3 379.5 328.1 380.3 328.8 380.2 329.6 380.3 330.3 380.0 331.1 380.0 331.8 380.4 332.6 380.0 333.3 380.1 334.1 379.9 334.8 379.7 335.6 378.9 336.3 379.3 337.1 380.4 337.8 379.9 338.6 380.4 339.3 379.3 340.1 380.4 340.8 380.1 341.6 380.0 342.3 380.4 343.1 380.1 343.8 379.7 344.6 380.3 345.3 380.0 346.1 380.3 346.8 379.7 347.6 380.3 348.3 379.5 349.1 379.9 349.8 380.0 350.6 379.7 351.3 378.6 352.1 378.6 352.8 378.8 353.6 379.4 354.3 380.1 355.1 379.8 355.8 380.4 356.6 380.3 357.3 379.6 358.1 379.4 358.8 380.0 359.6 379.9 360.3 379.8 361.1 378.7 361.8 380.1 362.6 380.2 363.3 379.5 364.1 380.3 364.8 380.1 365.6 379.6 366.3 379.8 367.1 379.7 367.8 379.8 368.6 380.0 369.3 380.3" fill="none" stroke="#3389c8" stroke-width="0.95" stroke-linejoin="round" opacity="0.90"/>
<path d="M369.3 380.3 370.1 379.7 370.8 379.5 371.6 378.2 372.3 377.6 373.1 377.3 373.8 377.4 374.6 378.5 375.3 379.5 376.1 379.0 376.8 380.0" fill="none" stroke="#3389c8" stroke-width="1.05" stroke-linejoin="round" opacity="1.00"/>
<path d="M376.8 380.0 377.6 380.4 378.3 380.0" fill="none" stroke="#3389c8" stroke-width="0.95" stroke-linejoin="round" opacity="0.90"/>
<path d="M129.3 423.1 130.1 423.3 130.8 423.5 131.6 423.6 132.3 423.7 133.1 423.2 133.8 423.5 134.6 423.3 135.3 423.7 136.1 423.0 136.8 423.7 137.6 423.6 138.3 423.6 139.1 423.7 139.8 422.5 140.6 423.3 141.3 423.6 142.1 423.5 142.8 423.6 143.6 423.6 144.3 423.8 145.1 423.4 145.8 423.3 146.6 423.5 147.3 423.8 148.1 423.5 148.8 422.9 149.6 423.7 150.3 423.4 151.1 423.4 151.8 422.9 152.6 423.7 153.3 423.2 154.1 423.5 154.8 423.6 155.6 423.5 156.3 423.4 157.1 423.6 157.8 423.3 158.6 422.8 159.3 423.7 160.1 423.1 160.8 423.0 161.6 423.6 162.3 423.1 163.1 423.4 163.8 423.5 164.6 423.7 165.3 423.8 166.1 423.4 166.8 423.7 167.6 423.3 168.3 423.5 169.1 423.7 169.8 423.2 170.6 423.5 171.3 423.5 172.1 423.4 172.8 423.4 173.6 422.8 174.3 422.5 175.1 423.4 175.8 422.6 176.6 423.2 177.3 423.7 178.1 423.1 178.8 423.4 179.6 423.6 180.3 423.6 181.1 423.4 181.8 423.4 182.6 423.5 183.3 422.9 184.1 423.7 184.8 423.8 185.6 423.8 186.3 423.5 187.1 423.0 187.8 423.2 188.6 422.7 189.3 422.0 190.1 421.5 190.8 421.6 191.6 423.0 192.3 423.3 193.1 423.7 193.8 423.1 194.6 422.8 195.3 422.7 196.1 423.8 196.8 423.6 197.6 423.8 198.3 423.7 199.1 423.2 199.8 423.3 200.6 423.3 201.3 423.0 202.1 423.2 202.8 423.5 203.6 423.4 204.3 423.7 205.1 423.3 205.8 423.7 206.6 423.8 207.3 422.8 208.1 423.0 208.8 422.0 209.6 421.6 210.3 421.6 211.1 422.2 211.8 422.6 212.6 423.1 213.3 423.8 214.1 423.0 214.8 423.6 215.6 423.5 216.3 423.2 217.1 423.4 217.8 423.3 218.6 423.5 219.3 423.6 220.1 423.5 220.8 423.6 221.6 423.7 222.3 423.8 223.1 423.2 223.8 423.6 224.6 423.5 225.3 423.6 226.1 423.7 226.8 423.3 227.6 423.7 228.3 423.0 229.1 423.3 229.8 422.5 230.6 422.8" fill="none" stroke="#86b660" stroke-width="0.9" stroke-linejoin="round" opacity="0.90"/>
<path d="M230.6 422.8 231.3 422.1 232.1 420.6 232.8 422.2 233.6 422.7 234.3 423.2" fill="none" stroke="#5c9832" stroke-width="1.05" stroke-linejoin="round" opacity="1.00"/>
<path d="M234.3 423.2 235.1 423.2 235.8 423.8 236.6 423.4 237.3 423.3 238.1 422.7 238.8 422.7 239.6 423.4 240.3 421.9 241.1 421.4 241.8 422.2 242.6 423.3 243.3 422.9 244.1 422.7 244.8 421.4 245.6 423.0" fill="none" stroke="#5c9832" stroke-width="0.95" stroke-linejoin="round" opacity="0.90"/>
<path d="M245.6 423.0 246.3 422.3 247.1 421.4 247.8 419.3 248.6 419.4 249.3 421.5 250.1 422.5 250.8 422.8 251.6 423.1 252.3 422.8 253.1 417.2 253.8 410.6 254.6 409.8 255.3 411.9 256.1 413.1 256.8 413.6 257.6 417.0 258.3 421.3 259.1 422.4 259.8 420.6 260.6 416.7 261.3 415.3 262.1 418.7 262.8 420.5 263.6 423.1 264.3 422.3 265.1 423.2 265.8 421.8 266.6 421.0 267.3 419.1 268.1 417.8 268.8 419.7 269.6 421.7 270.3 422.8 271.1 423.3 271.8 423.0 272.6 421.9 273.3 421.1 274.1 420.9 274.8 418.9 275.6 421.4 276.3 422.0 277.1 422.0 277.8 419.1 278.6 418.0 279.3 418.7 280.1 418.9 280.8 419.9 281.6 420.2 282.3 419.9 283.1 418.0 283.8 417.8 284.6 422.3 285.3 422.5 286.1 421.7 286.8 423.5" fill="none" stroke="#5c9832" stroke-width="1.05" stroke-linejoin="round" opacity="1.00"/>
<path d="M286.8 423.5 287.6 423.6 288.3 423.2 289.1 423.6 289.8 423.1 290.6 423.8 291.3 422.5 292.1 423.5 292.8 423.1 293.6 423.4 294.3 422.3" fill="none" stroke="#5c9832" stroke-width="0.95" stroke-linejoin="round" opacity="0.90"/>
<path d="M294.3 422.3 295.1 423.1 295.8 423.6 296.6 423.0 297.3 420.1 298.1 420.4 298.8 420.7 299.6 421.7 300.3 422.8 301.1 421.7 301.8 423.6 302.6 423.2 303.3 421.8 304.1 421.9 304.8 420.0 305.6 421.9" fill="none" stroke="#5c9832" stroke-width="1.05" stroke-linejoin="round" opacity="1.00"/>
<path d="M305.6 421.9 306.3 422.7 307.1 421.6 307.8 423.4 308.6 422.9 309.3 423.6 310.1 423.4 310.8 423.6 311.6 423.5 312.3 422.6 313.1 423.8 313.8 423.4 314.6 423.7 315.3 422.8 316.1 423.1 316.8 423.5 317.6 423.4 318.3 422.6 319.1 423.1 319.8 423.7 320.6 422.9 321.3 423.7 322.1 423.7 322.8 423.4 323.6 422.4 324.3 422.8 325.1 423.2 325.8 422.9 326.6 423.5 327.3 422.6 328.1 421.8 328.8 422.2 329.6 422.9 330.3 421.5 331.1 423.7 331.8 423.8" fill="none" stroke="#5c9832" stroke-width="0.95" stroke-linejoin="round" opacity="0.90"/>
<path d="M331.8 423.8 332.6 423.6 333.3 421.1 334.1 423.5 334.8 422.9 335.6 422.8" fill="none" stroke="#5c9832" stroke-width="1.05" stroke-linejoin="round" opacity="1.00"/>
<path d="M335.6 422.8 336.3 423.5 337.1 422.4 337.8 423.7 338.6 423.0 339.3 422.8 340.1 422.3 340.8 423.8 341.6 422.9 342.3 423.7 343.1 423.1 343.8 422.9 344.6 423.6 345.3 423.7 346.1 423.5 346.8 423.7" fill="none" stroke="#5c9832" stroke-width="0.95" stroke-linejoin="round" opacity="0.90"/>
<path d="M346.8 423.7 347.6 423.8 348.3 423.8 349.1 422.9 349.8 423.6 350.6 423.8 351.3 423.6 352.1 423.7 352.8 423.7 353.6 423.4 354.3 423.5 355.1 423.6 355.8 423.1 356.6 423.5 357.3 423.2 358.1 423.4" fill="none" stroke="#86b660" stroke-width="0.9" stroke-linejoin="round" opacity="0.90"/>
<path d="M361.8 423.5 362.6 423.3 363.3 423.7 364.1 423.7 364.8 423.7 365.6 423.1 366.3 423.5 367.1 423.5 367.8 423.3 368.6 423.4 369.3 423.2 370.1 423.3 370.8 423.7 371.6 423.7 372.3 423.5 373.1 423.0 373.8 423.1 374.6 423.6 375.3 423.5 376.1 423.6 376.8 423.4 377.6 423.4 378.3 423.4" fill="none" stroke="#86b660" stroke-width="0.9" stroke-linejoin="round" opacity="0.90"/>
<text x="253" y="364.40000000000003" text-anchor="middle" font-size="4.4" fill="#444">VP8</text>
<rect x="128.3" y="453.2" width="250.0" height="3.6" fill="#fdfce8"/>
<line x1="128.3" y1="455" x2="378.3" y2="455" stroke="#e0dbb0" stroke-width="1.1"/>
<line x1="129.3" y1="501" x2="132.9" y2="501" stroke="#aeaad4" stroke-width="1" opacity="0.40"/>
<line x1="135.8" y1="501" x2="136.8" y2="501" stroke="#aeaad4" stroke-width="1" opacity="0.24"/>
<line x1="140.1" y1="501" x2="144.5" y2="501" stroke="#aeaad4" stroke-width="1" opacity="0.28"/>
<line x1="147.1" y1="501" x2="151.5" y2="501" stroke="#aeaad4" stroke-width="1" opacity="0.25"/>
<line x1="154.1" y1="501" x2="158.0" y2="501" stroke="#aeaad4" stroke-width="1" opacity="0.39"/>
<line x1="160.2" y1="501" x2="163.6" y2="501" stroke="#aeaad4" stroke-width="1" opacity="0.18"/>
<line x1="166.6" y1="501" x2="169.6" y2="501" stroke="#aeaad4" stroke-width="1" opacity="0.42"/>
<line x1="170.4" y1="501" x2="174.5" y2="501" stroke="#aeaad4" stroke-width="1" opacity="0.14"/>
<line x1="177.5" y1="501" x2="180.7" y2="501" stroke="#aeaad4" stroke-width="1" opacity="0.17"/>
<line x1="182.7" y1="501" x2="184.6" y2="501" stroke="#aeaad4" stroke-width="1" opacity="0.44"/>
<line x1="188.0" y1="501" x2="189.9" y2="501" stroke="#aeaad4" stroke-width="1" opacity="0.37"/>
<line x1="193.0" y1="501" x2="195.5" y2="501" stroke="#aeaad4" stroke-width="1" opacity="0.21"/>
<line x1="198.1" y1="501" x2="200.2" y2="501" stroke="#aeaad4" stroke-width="1" opacity="0.37"/>
<line x1="201.0" y1="501" x2="204.3" y2="501" stroke="#aeaad4" stroke-width="1" opacity="0.31"/>
<line x1="207.1" y1="501" x2="209.9" y2="501" stroke="#aeaad4" stroke-width="1" opacity="0.40"/>
<line x1="211.5" y1="501" x2="214.0" y2="501" stroke="#aeaad4" stroke-width="1" opacity="0.41"/>
<line x1="216.4" y1="501" x2="219.2" y2="501" stroke="#aeaad4" stroke-width="1" opacity="0.14"/>
<line x1="221.8" y1="501" x2="223.9" y2="501" stroke="#aeaad4" stroke-width="1" opacity="0.18"/>
<line x1="226.9" y1="501" x2="228.2" y2="501" stroke="#aeaad4" stroke-width="1" opacity="0.41"/>
<line x1="229.0" y1="501" x2="230.4" y2="501" stroke="#aeaad4" stroke-width="1" opacity="0.29"/>
<line x1="232.5" y1="501" x2="236.7" y2="501" stroke="#aeaad4" stroke-width="1" opacity="0.32"/>
<line x1="238.8" y1="501" x2="239.9" y2="501" stroke="#aeaad4" stroke-width="1" opacity="0.41"/>
<line x1="242.8" y1="501" x2="246.3" y2="501" stroke="#aeaad4" stroke-width="1" opacity="0.35"/>
<line x1="249.3" y1="501" x2="253.2" y2="501" stroke="#aeaad4" stroke-width="1" opacity="0.35"/>
<line x1="256.3" y1="501" x2="257.4" y2="501" stroke="#aeaad4" stroke-width="1" opacity="0.50"/>
<line x1="260.6" y1="501" x2="262.4" y2="501" stroke="#aeaad4" stroke-width="1" opacity="0.25"/>
<line x1="263.4" y1="501" x2="264.8" y2="501" stroke="#aeaad4" stroke-width="1" opacity="0.15"/>
<line x1="266.6" y1="501" x2="268.4" y2="501" stroke="#aeaad4" stroke-width="1" opacity="0.28"/>
<line x1="269.3" y1="501" x2="271.5" y2="501" stroke="#aeaad4" stroke-width="1" opacity="0.27"/>
<line x1="274.2" y1="501" x2="275.9" y2="501" stroke="#aeaad4" stroke-width="1" opacity="0.46"/>
<line x1="279.3" y1="501" x2="283.0" y2="501" stroke="#aeaad4" stroke-width="1" opacity="0.27"/>
<line x1="284.4" y1="501" x2="287.2" y2="501" stroke="#aeaad4" stroke-width="1" opacity="0.13"/>
<line x1="289.1" y1="501" x2="291.9" y2="501" stroke="#aeaad4" stroke-width="1" opacity="0.38"/>
<line x1="294.8" y1="501" x2="299.2" y2="501" stroke="#aeaad4" stroke-width="1" opacity="0.41"/>
<line x1="301.9" y1="501" x2="306.4" y2="501" stroke="#aeaad4" stroke-width="1" opacity="0.42"/>
<line x1="309.6" y1="501" x2="312.3" y2="501" stroke="#aeaad4" stroke-width="1" opacity="0.37"/>
<line x1="314.9" y1="501" x2="319.4" y2="501" stroke="#aeaad4" stroke-width="1" opacity="0.29"/>
<line x1="322.2" y1="501" x2="323.9" y2="501" stroke="#aeaad4" stroke-width="1" opacity="0.22"/>
<line x1="325.6" y1="501" x2="329.3" y2="501" stroke="#aeaad4" stroke-width="1" opacity="0.19"/>
<line x1="332.2" y1="501" x2="335.3" y2="501" stroke="#aeaad4" stroke-width="1" opacity="0.26"/>
<line x1="338.4" y1="501" x2="339.8" y2="501" stroke="#aeaad4" stroke-width="1" opacity="0.26"/>
<line x1="342.2" y1="501" x2="343.8" y2="501" stroke="#aeaad4" stroke-width="1" opacity="0.12"/>
<line x1="345.4" y1="501" x2="347.0" y2="501" stroke="#aeaad4" stroke-width="1" opacity="0.16"/>
<line x1="348.9" y1="501" x2="349.9" y2="501" stroke="#aeaad4" stroke-width="1" opacity="0.48"/>
<line x1="352.2" y1="501" x2="356.6" y2="501" stroke="#aeaad4" stroke-width="1" opacity="0.47"/>
<line x1="358.2" y1="501" x2="359.6" y2="501" stroke="#aeaad4" stroke-width="1" opacity="0.12"/>
<line x1="360.8" y1="501" x2="362.0" y2="501" stroke="#aeaad4" stroke-width="1" opacity="0.41"/>
<line x1="364.4" y1="501" x2="367.3" y2="501" stroke="#aeaad4" stroke-width="1" opacity="0.29"/>
<line x1="370.3" y1="501" x2="375.0" y2="501" stroke="#aeaad4" stroke-width="1" opacity="0.32"/>
<line x1="377.4" y1="501" x2="378.3" y2="501" stroke="#aeaad4" stroke-width="1" opacity="0.29"/>
<line x1="129.3" y1="540" x2="133.6" y2="540" stroke="#aeaad4" stroke-width="1" opacity="0.23"/>
<line x1="135.0" y1="540" x2="139.3" y2="540" stroke="#aeaad4" stroke-width="1" opacity="0.32"/>
<line x1="140.3" y1="540" x2="142.1" y2="540" stroke="#aeaad4" stroke-width="1" opacity="0.35"/>
<line x1="144.7" y1="540" x2="146.1" y2="540" stroke="#aeaad4" stroke-width="1" opacity="0.27"/>
<line x1="148.9" y1="540" x2="151.2" y2="540" stroke="#aeaad4" stroke-width="1" opacity="0.42"/>
<line x1="154.3" y1="540" x2="156.5" y2="540" stroke="#aeaad4" stroke-width="1" opacity="0.17"/>
<line x1="159.2" y1="540" x2="162.2" y2="540" stroke="#aeaad4" stroke-width="1" opacity="0.36"/>
<line x1="163.3" y1="540" x2="167.9" y2="540" stroke="#aeaad4" stroke-width="1" opacity="0.14"/>
<line x1="170.4" y1="540" x2="173.5" y2="540" stroke="#aeaad4" stroke-width="1" opacity="0.29"/>
<line x1="175.6" y1="540" x2="177.2" y2="540" stroke="#aeaad4" stroke-width="1" opacity="0.29"/>
<line x1="178.7" y1="540" x2="180.0" y2="540" stroke="#aeaad4" stroke-width="1" opacity="0.21"/>
<line x1="182.6" y1="540" x2="184.8" y2="540" stroke="#aeaad4" stroke-width="1" opacity="0.23"/>
<line x1="185.8" y1="540" x2="190.5" y2="540" stroke="#aeaad4" stroke-width="1" opacity="0.16"/>
<line x1="192.1" y1="540" x2="194.5" y2="540" stroke="#aeaad4" stroke-width="1" opacity="0.15"/>
<line x1="197.9" y1="540" x2="200.2" y2="540" stroke="#aeaad4" stroke-width="1" opacity="0.38"/>
<line x1="201.6" y1="540" x2="204.5" y2="540" stroke="#aeaad4" stroke-width="1" opacity="0.45"/>
<line x1="205.5" y1="540" x2="207.8" y2="540" stroke="#aeaad4" stroke-width="1" opacity="0.29"/>
<line x1="210.5" y1="540" x2="215.0" y2="540" stroke="#aeaad4" stroke-width="1" opacity="0.21"/>
<line x1="215.9" y1="540" x2="218.1" y2="540" stroke="#aeaad4" stroke-width="1" opacity="0.43"/>
<line x1="219.6" y1="540" x2="222.6" y2="540" stroke="#aeaad4" stroke-width="1" opacity="0.31"/>
<line x1="224.3" y1="540" x2="228.7" y2="540" stroke="#aeaad4" stroke-width="1" opacity="0.29"/>
<line x1="231.0" y1="540" x2="234.7" y2="540" stroke="#aeaad4" stroke-width="1" opacity="0.27"/>
<line x1="237.1" y1="540" x2="239.8" y2="540" stroke="#aeaad4" stroke-width="1" opacity="0.29"/>
<line x1="241.0" y1="540" x2="245.5" y2="540" stroke="#aeaad4" stroke-width="1" opacity="0.26"/>
<line x1="247.1" y1="540" x2="250.6" y2="540" stroke="#aeaad4" stroke-width="1" opacity="0.19"/>
<line x1="252.9" y1="540" x2="255.7" y2="540" stroke="#aeaad4" stroke-width="1" opacity="0.14"/>
<line x1="258.5" y1="540" x2="259.9" y2="540" stroke="#aeaad4" stroke-width="1" opacity="0.46"/>
<line x1="262.8" y1="540" x2="264.1" y2="540" stroke="#aeaad4" stroke-width="1" opacity="0.36"/>
<line x1="265.1" y1="540" x2="267.2" y2="540" stroke="#aeaad4" stroke-width="1" opacity="0.13"/>
<line x1="269.8" y1="540" x2="272.6" y2="540" stroke="#aeaad4" stroke-width="1" opacity="0.25"/>
<line x1="273.9" y1="540" x2="277.6" y2="540" stroke="#aeaad4" stroke-width="1" opacity="0.44"/>
<line x1="279.8" y1="540" x2="284.2" y2="540" stroke="#aeaad4" stroke-width="1" opacity="0.44"/>
<line x1="286.6" y1="540" x2="288.4" y2="540" stroke="#aeaad4" stroke-width="1" opacity="0.24"/>
<line x1="290.4" y1="540" x2="293.9" y2="540" stroke="#aeaad4" stroke-width="1" opacity="0.46"/>
<line x1="295.0" y1="540" x2="297.5" y2="540" stroke="#aeaad4" stroke-width="1" opacity="0.48"/>
<line x1="300.4" y1="540" x2="305.2" y2="540" stroke="#aeaad4" stroke-width="1" opacity="0.45"/>
<line x1="307.0" y1="540" x2="312.0" y2="540" stroke="#aeaad4" stroke-width="1" opacity="0.40"/>
<line x1="313.2" y1="540" x2="317.1" y2="540" stroke="#aeaad4" stroke-width="1" opacity="0.23"/>
<line x1="319.1" y1="540" x2="320.8" y2="540" stroke="#aeaad4" stroke-width="1" opacity="0.47"/>
<line x1="322.7" y1="540" x2="325.3" y2="540" stroke="#aeaad4" stroke-width="1" opacity="0.36"/>
<line x1="326.8" y1="540" x2="329.6" y2="540" stroke="#aeaad4" stroke-width="1" opacity="0.29"/>
<line x1="332.0" y1="540" x2="334.2" y2="540" stroke="#aeaad4" stroke-width="1" opacity="0.43"/>
<line x1="335.1" y1="540" x2="338.7" y2="540" stroke="#aeaad4" stroke-width="1" opacity="0.31"/>
<line x1="340.2" y1="540" x2="343.5" y2="540" stroke="#aeaad4" stroke-width="1" opacity="0.46"/>
<line x1="345.7" y1="540" x2="349.8" y2="540" stroke="#aeaad4" stroke-width="1" opacity="0.25"/>
<line x1="351.4" y1="540" x2="354.8" y2="540" stroke="#aeaad4" stroke-width="1" opacity="0.47"/>
<line x1="356.1" y1="540" x2="357.3" y2="540" stroke="#aeaad4" stroke-width="1" opacity="0.22"/>
<line x1="359.4" y1="540" x2="362.5" y2="540" stroke="#aeaad4" stroke-width="1" opacity="0.21"/>
<line x1="363.4" y1="540" x2="368.4" y2="540" stroke="#aeaad4" stroke-width="1" opacity="0.20"/>
<line x1="371.3" y1="540" x2="374.1" y2="540" stroke="#aeaad4" stroke-width="1" opacity="0.17"/>
<line x1="375.0" y1="540" x2="376.8" y2="540" stroke="#aeaad4" stroke-width="1" opacity="0.24"/>
<path d="M168.8 476.7 A46.1 20.3 0 0 0 261.0 476.7" fill="none" stroke="#35a0b4" stroke-width="0.99" opacity="0.83"/>
<path d="M182.5 476.7 A39.2 18.8 0 0 0 261.0 476.7" fill="none" stroke="#35a0b4" stroke-width="1.10" opacity="0.95"/>
<path d="M186.0 476.7 A37.5 18.3 0 0 0 261.0 476.7" fill="none" stroke="#35a0b4" stroke-width="0.94" opacity="0.77"/>
<path d="M196.2 476.7 A32.4 15.3 0 0 0 261.0 476.7" fill="none" stroke="#35a0b4" stroke-width="1.05" opacity="0.89"/>
<path d="M200.0 476.7 A30.5 14.3 0 0 0 261.0 476.7" fill="none" stroke="#35a0b4" stroke-width="0.99" opacity="0.83"/>
<path d="M215.0 476.7 A23.0 11.3 0 0 0 261.0 476.7" fill="none" stroke="#35a0b4" stroke-width="0.83" opacity="0.65"/>
<path d="M262.0 476.7 A6.5 7.3 0 0 0 275.0 476.7" fill="none" stroke="#35a0b4" stroke-width="0.72" opacity="0.53"/>
<path d="M262.0 476.7 A20.7 10.8 0 0 0 303.3 476.7" fill="none" stroke="#35a0b4" stroke-width="0.83" opacity="0.65"/>
<path d="M262.0 476.7 A37.5 20.3 0 0 0 337.0 476.7" fill="none" stroke="#35a0b4" stroke-width="1.10" opacity="0.95"/>
<path d="M262.0 476.7 A38.5 20.3 0 0 0 339.0 476.7" fill="none" stroke="#35a0b4" stroke-width="1.05" opacity="0.89"/>
<path d="M262.0 476.7 A39.5 20.5 0 0 0 341.0 476.7" fill="none" stroke="#35a0b4" stroke-width="1.05" opacity="0.89"/>
<path d="M262.0 476.7 A40.5 20.3 0 0 0 343.0 476.7" fill="none" stroke="#35a0b4" stroke-width="0.99" opacity="0.83"/>
<path d="M262.0 476.7 A48.3 22.8 0 0 0 358.6 476.7" fill="none" stroke="#35a0b4" stroke-width="0.77" opacity="0.59"/>
<path d="M168.8 519.0 A46.1 21.8 0 0 0 261.0 519.0" fill="none" stroke="#2a8b66" stroke-width="0.99" opacity="0.83"/>
<path d="M175.0 519.0 A43.0 21.0 0 0 0 261.0 519.0" fill="none" stroke="#2a8b66" stroke-width="1.05" opacity="0.89"/>
<path d="M178.8 519.0 A41.1 20.5 0 0 0 261.0 519.0" fill="none" stroke="#2a8b66" stroke-width="0.99" opacity="0.83"/>
<path d="M185.0 519.0 A38.0 19.0 0 0 0 261.0 519.0" fill="none" stroke="#2a8b66" stroke-width="1.05" opacity="0.89"/>
<path d="M196.0 519.0 A32.5 17.0 0 0 0 261.0 519.0" fill="none" stroke="#2a8b66" stroke-width="0.94" opacity="0.77"/>
<path d="M201.0 519.0 A30.0 16.0 0 0 0 261.0 519.0" fill="none" stroke="#2a8b66" stroke-width="0.88" opacity="0.71"/>
<path d="M220.0 519.0 A20.5 11.0 0 0 0 261.0 519.0" fill="none" stroke="#2a8b66" stroke-width="0.77" opacity="0.59"/>
<path d="M262.0 519.0 A7.0 6.8 0 0 0 276.0 519.0" fill="none" stroke="#2a8b66" stroke-width="0.72" opacity="0.53"/>
<path d="M262.0 519.0 A23.5 11.0 0 0 0 309.0 519.0" fill="none" stroke="#2a8b66" stroke-width="0.77" opacity="0.59"/>
<path d="M262.0 519.0 A39.2 20.0 0 0 0 340.5 519.0" fill="none" stroke="#2a8b66" stroke-width="1.10" opacity="0.95"/>
<path d="M262.0 519.0 A40.2 20.2 0 0 0 342.5 519.0" fill="none" stroke="#2a8b66" stroke-width="1.05" opacity="0.89"/>
<path d="M262.0 519.0 A41.5 20.5 0 0 0 345.0 519.0" fill="none" stroke="#2a8b66" stroke-width="1.05" opacity="0.89"/>
<path d="M262.0 519.0 A48.3 22.0 0 0 0 358.6 519.0" fill="none" stroke="#2a8b66" stroke-width="0.77" opacity="0.59"/>
<path d="M129.3 476.2 130.1 476.1 130.8 476.2 131.6 476.1 132.3 476.5 133.1 475.7 133.8 476.3 134.6 475.9 135.3 476.5 136.1 475.6 136.8 476.1 137.6 476.4 138.3 476.4 139.1 476.5 139.8 476.3 140.6 476.4 141.3 476.0 142.1 476.1 142.8 475.2 143.6 476.2 144.3 476.2 145.1 475.6 145.8 476.3 146.6 476.5 147.3 476.5 148.1 476.1 148.8 474.9 149.6 475.3 150.3 476.5 151.1 476.3 151.8 476.2 152.6 476.4 153.3 476.5 154.1 475.4 154.8 475.7 155.6 476.2 156.3 476.6 157.1 476.6 157.8 476.3 158.6 475.6 159.3 476.1 160.1 476.4 160.8 476.5 161.6 475.4 162.3 476.2 163.1 475.7 163.8 476.6 164.6 476.3 165.3 476.2 166.1 476.4 166.8 476.5 167.6 476.4 168.3 476.3 169.1 476.0 169.8 476.5 170.6 476.5 171.3 476.4 172.1 476.6 172.8 475.9 173.6 476.6 174.3 475.9 175.1 476.3 175.8 476.4 176.6 476.5 177.3 476.4 178.1 476.5 178.8 475.9 179.6 476.0 180.3 476.5 181.1 475.8 181.8 476.3 182.6 476.5 183.3 476.5 184.1 476.3 184.8 476.5 185.6 476.1 186.3 475.6 187.1 476.0 187.8 476.5 188.6 475.4 189.3 475.7 190.1 475.0 190.8 474.7 191.6 475.0 192.3 475.6 193.1 475.9 193.8 476.5 194.6 476.5 195.3 476.5 196.1 476.2 196.8 476.5 197.6 475.6 198.3 476.3 199.1 476.4 199.8 476.5 200.6 476.1 201.3 476.1 202.1 476.2 202.8 476.1 203.6 476.0 204.3 476.0 205.1 475.7 205.8 476.0 206.6 476.2 207.3 476.3 208.1 475.7 208.8 476.2 209.6 474.9 210.3 475.1 211.1 474.7 211.8 475.5 212.6 476.3 213.3 476.2 214.1 475.8 214.8 476.1 215.6 475.9 216.3 476.5 217.1 475.8 217.8 476.4 218.6 475.9 219.3 475.5 220.1 476.4 220.8 476.2 221.6 476.5 222.3 476.5 223.1 476.4 223.8 476.0 224.6 476.1 225.3 476.0 226.1 476.4 226.8 475.6 227.6 476.3 228.3 476.0 229.1 475.9 229.8 475.3 230.6 475.3 231.3 475.1 232.1 475.4 232.8 476.2 233.6 476.1 234.3 476.0 235.1 476.6 235.8 475.6 236.6 475.8 237.3 476.4 238.1 476.3 238.8 475.7 239.6 476.1 240.3 476.5 241.1 476.4 241.8 475.8 242.6 475.8 243.3 476.0 244.1 475.8 244.8 476.5 245.6 476.1 246.3 476.1 247.1 476.1 247.8 475.5 248.6 476.2 249.3 475.9" fill="none" stroke="#3f8fc8" stroke-width="0.95" stroke-linejoin="round" opacity="0.50"/>
<path d="M249.3 475.9 250.1 476.5 250.8 474.9 251.6 475.3 252.3 474.8 253.1 471.2 253.8 472.9 254.6 471.7 255.3 471.9 256.1 470.1 256.8 471.5 257.6 472.2 258.3 472.5 259.1 473.1 259.8 474.7 260.6 474.7 261.3 471.8 262.1 468.2 262.8 467.3 263.6 471.5 264.3 474.8 265.1 475.0 265.8 474.7 266.6 473.7 267.3 470.8 268.1 474.4 268.8 474.7 269.6 473.5 270.3 474.9 271.1 474.4 271.8 475.8" fill="none" stroke="#3f8fc8" stroke-width="1.05" stroke-linejoin="round" opacity="0.55"/>
<path d="M271.8 475.8 272.6 475.9 273.3 475.5 274.1 476.1 274.8 475.4 275.6 474.4" fill="none" stroke="#3f8fc8" stroke-width="0.95" stroke-linejoin="round" opacity="0.50"/>
<path d="M275.6 474.4 276.3 474.9 277.1 473.9 277.8 475.2 278.6 475.4 279.3 476.3" fill="none" stroke="#3f8fc8" stroke-width="1.05" stroke-linejoin="round" opacity="0.55"/>
<path d="M279.3 476.3 280.1 476.1 280.8 475.7 281.6 476.5 282.3 474.7 283.1 476.5 283.8 475.7 284.6 476.6 285.3 475.9 286.1 475.9 286.8 475.6 287.6 476.0 288.3 476.4 289.1 476.1 289.8 475.6 290.6 475.8 291.3 474.8 292.1 475.6 292.8 476.4 293.6 476.2 294.3 476.1 295.1 476.4 295.8 475.5 296.6 476.4 297.3 476.4 298.1 475.7" fill="none" stroke="#3f8fc8" stroke-width="0.95" stroke-linejoin="round" opacity="0.50"/>
<path d="M298.1 475.7 298.8 475.7 299.6 474.6 300.3 474.7 301.1 473.9 301.8 475.3" fill="none" stroke="#3f8fc8" stroke-width="1.05" stroke-linejoin="round" opacity="0.55"/>
<path d="M301.8 475.3 302.6 475.5 303.3 474.5 304.1 475.6 304.8 474.2 305.6 474.9 306.3 474.7 307.1 475.8 307.8 476.4 308.6 475.3 309.3 476.0 310.1 475.2 310.8 475.5 311.6 476.4 312.3 475.0 313.1 475.9 313.8 476.1 314.6 476.0 315.3 475.2 316.1 475.2 316.8 475.4 317.6 475.3 318.3 476.3 319.1 476.5 319.8 476.3 320.6 476.2 321.3 474.1 322.1 476.0 322.8 475.6 323.6 475.9 324.3 475.6 325.1 476.4 325.8 474.8 326.6 474.5 327.3 476.1 328.1 476.3 328.8 476.2 329.6 475.7 330.3 476.5 331.1 475.3 331.8 475.7 332.6 475.7 333.3 476.6 334.1 475.1 334.8 475.3 335.6 474.6 336.3 475.1 337.1 475.0 337.8 475.4 338.6 474.9 339.3 475.6" fill="none" stroke="#3f8fc8" stroke-width="0.95" stroke-linejoin="round" opacity="0.50"/>
<path d="M339.3 475.6 340.1 475.2 340.8 474.4 341.6 473.1 342.3 475.8 343.1 475.3" fill="none" stroke="#3f8fc8" stroke-width="1.05" stroke-linejoin="round" opacity="0.55"/>
<path d="M343.1 475.3 343.8 475.5 344.6 476.1 345.3 476.2 346.1 476.6 346.8 476.2 347.6 476.4 348.3 476.5 349.1 476.0 349.8 475.9 350.6 476.5 351.3 476.2 352.1 476.3 352.8 475.2 353.6 475.5 354.3 474.7 355.1 476.4 355.8 475.9 356.6 475.3 357.3 476.2 358.1 476.0 358.8 476.1 359.6 476.5 360.3 476.3 361.1 476.2 361.8 476.3 362.6 476.5 363.3 475.3 364.1 476.0 364.8 476.4 365.6 476.4 366.3 476.4 367.1 476.5 367.8 476.1 368.6 476.1 369.3 476.4 370.1 475.4 370.8 476.5 371.6 475.6 372.3 475.9 373.1 476.5 373.8 476.5 374.6 476.5 375.3 476.4 376.1 476.4 376.8 475.0 377.6 476.2 378.3 475.8" fill="none" stroke="#3f8fc8" stroke-width="0.95" stroke-linejoin="round" opacity="0.50"/>
<path d="M129.3 518.4 130.1 518.6 130.8 518.6 131.6 518.9 132.3 518.5 133.1 518.6 133.8 518.7 134.6 518.7 135.3 518.2 136.1 518.3 136.8 518.2 137.6 518.8 138.3 518.6 139.1 518.2 139.8 518.9 140.6 518.5 141.3 518.5 142.1 518.3 142.8 518.5 143.6 518.4 144.3 518.9 145.1 518.7 145.8 518.3 146.6 518.0 147.3 518.5 148.1 518.8 148.8 518.6 149.6 518.8 150.3 517.9 151.1 518.8 151.8 518.3 152.6 518.4 153.3 518.7 154.1 518.7 154.8 518.7 155.6 517.8 156.3 518.6 157.1 518.0 157.8 518.5 158.6 518.1 159.3 518.9 160.1 518.5 160.8 518.5 161.6 518.9 162.3 518.9 163.1 518.4 163.8 518.5 164.6 518.9 165.3 518.4 166.1 518.8 166.8 518.8 167.6 518.9 168.3 518.6 169.1 518.9 169.8 517.3 170.6 518.8 171.3 518.6 172.1 517.7 172.8 518.0 173.6 518.6 174.3 518.1" fill="none" stroke="#5e9a36" stroke-width="0.95" stroke-linejoin="round" opacity="0.50"/>
<path d="M174.3 518.1 175.1 518.3 175.8 517.8 176.6 516.3 177.3 516.9 178.1 518.1" fill="none" stroke="#5e9a36" stroke-width="1.05" stroke-linejoin="round" opacity="0.55"/>
<path d="M178.1 518.1 178.8 518.6 179.6 518.6 180.3 517.3 181.1 518.4 181.8 518.5 182.6 518.7 183.3 517.5 184.1 518.0 184.8 518.8 185.6 518.3 186.3 518.7 187.1 518.5 187.8 518.5 188.6 518.7 189.3 518.5 190.1 518.0 190.8 517.6 191.6 517.7 192.3 518.5 193.1 517.7 193.8 518.3 194.6 518.6 195.3 518.3 196.1 518.4 196.8 518.9 197.6 518.2 198.3 518.6 199.1 518.3 199.8 517.6 200.6 518.7 201.3 518.3 202.1 518.4 202.8 517.3 203.6 518.7 204.3 518.4 205.1 518.6 205.8 518.4 206.6 518.7 207.3 518.4 208.1 518.5 208.8 518.4 209.6 518.6 210.3 518.6 211.1 518.9 211.8 518.1 212.6 518.4 213.3 518.4 214.1 518.9 214.8 518.6 215.6 517.7 216.3 518.7 217.1 518.8 217.8 518.7 218.6 518.9 219.3 518.6 220.1 518.5 220.8 518.5 221.6 518.5 222.3 518.4 223.1 518.4 223.8 518.8 224.6 518.5 225.3 518.9 226.1 518.8 226.8 518.8 227.6 518.9 228.3 518.8 229.1 518.5 229.8 518.0 230.6 518.3 231.3 518.8 232.1 518.8 232.8 517.9 233.6 517.7 234.3 517.7 235.1 518.8 235.8 518.5 236.6 518.6 237.3 518.6 238.1 518.2 238.8 518.4 239.6 518.6 240.3 517.4 241.1 518.1 241.8 518.7 242.6 518.1 243.3 518.1 244.1 518.3 244.8 517.1 245.6 518.2 246.3 517.2 247.1 517.3 247.8 518.6 248.6 518.1 249.3 518.8" fill="none" stroke="#5e9a36" stroke-width="0.95" stroke-linejoin="round" opacity="0.50"/>
<path d="M249.3 518.8 250.1 516.6 250.8 515.3 251.6 516.2 252.3 514.6 253.1 516.7 253.8 516.4 254.6 514.4 255.3 513.2 256.1 514.4 256.8 512.6 257.6 515.3 258.3 515.9 259.1 516.4 259.8 517.3 260.6 516.3 261.3 515.4 262.1 510.7 262.8 510.2 263.6 512.8 264.3 516.7 265.1 518.3 265.8 516.3 266.6 516.1 267.3 516.8 268.1 517.0 268.8 513.6 269.6 516.0 270.3 515.2 271.1 517.5 271.8 516.8 272.6 516.3 273.3 518.6 274.1 518.2 274.8 517.8 275.6 518.7" fill="none" stroke="#5e9a36" stroke-width="1.05" stroke-linejoin="round" opacity="0.55"/>
<path d="M275.6 518.7 276.3 518.7 277.1 517.9 277.8 517.3 278.6 518.3 279.3 518.2 280.1 517.9 280.8 518.3 281.6 518.2 282.3 518.8 283.1 518.4 283.8 518.2 284.6 518.7 285.3 518.6 286.1 517.9 286.8 518.3 287.6 518.3 288.3 517.9 289.1 517.6 289.8 518.7 290.6 518.5 291.3 518.9 292.1 517.6 292.8 518.8 293.6 517.8 294.3 517.8 295.1 518.6 295.8 516.6 296.6 518.7 297.3 517.6 298.1 518.2" fill="none" stroke="#5e9a36" stroke-width="0.95" stroke-linejoin="round" opacity="0.50"/>
<path d="M298.1 518.2 298.8 518.3 299.6 516.3 300.3 517.5 301.1 516.7 301.8 517.8" fill="none" stroke="#5e9a36" stroke-width="1.05" stroke-linejoin="round" opacity="0.55"/>
<path d="M301.8 517.8 302.6 517.9 303.3 517.8 304.1 517.6 304.8 517.9 305.6 517.9 306.3 517.2 307.1 516.6 307.8 517.1 308.6 517.7 309.3 518.6 310.1 518.9 310.8 518.7 311.6 518.0 312.3 518.7 313.1 518.6 313.8 518.6 314.6 517.6 315.3 518.5 316.1 518.0 316.8 518.1 317.6 518.0 318.3 518.5 319.1 518.4 319.8 518.8 320.6 518.9 321.3 517.6 322.1 518.7 322.8 518.6 323.6 518.3 324.3 517.4 325.1 518.8 325.8 518.9 326.6 518.4 327.3 518.7 328.1 518.8 328.8 517.2 329.6 518.3 330.3 518.2 331.1 517.9 331.8 518.6 332.6 518.7 333.3 518.2 334.1 517.8 334.8 517.8 335.6 517.9" fill="none" stroke="#5e9a36" stroke-width="0.95" stroke-linejoin="round" opacity="0.50"/>
<path d="M335.6 517.9 336.3 516.9 337.1 516.2 337.8 516.3 338.6 517.9 339.3 518.8 340.1 517.6 340.8 518.5 341.6 516.0 342.3 516.9 343.1 516.9" fill="none" stroke="#5e9a36" stroke-width="1.05" stroke-linejoin="round" opacity="0.55"/>
<path d="M343.1 516.9 343.8 516.5 344.6 518.2 345.3 518.2 346.1 518.8 346.8 518.5 347.6 518.6 348.3 518.9 349.1 517.8 349.8 516.4 350.6 517.7 351.3 517.8 352.1 516.6 352.8 517.1 353.6 517.1 354.3 518.3 355.1 518.3 355.8 518.1 356.6 518.5 357.3 517.8 358.1 518.5 358.8 518.7 359.6 518.8 360.3 518.8 361.1 518.2 361.8 517.2 362.6 517.8 363.3 518.8 364.1 518.7 364.8 517.8 365.6 517.7 366.3 517.6 367.1 516.8 367.8 517.4 368.6 518.3 369.3 517.6 370.1 518.6 370.8 517.4 371.6 518.3 372.3 518.3 373.1 518.8 373.8 518.5 374.6 518.2 375.3 518.1 376.1 518.8 376.8 518.6 377.6 518.7 378.3 518.7" fill="none" stroke="#5e9a36" stroke-width="0.95" stroke-linejoin="round" opacity="0.50"/>
<path d="M129.3 475.0 130.1 475.9 130.8 476.2 131.6 475.8 132.3 475.7 133.1 475.4 133.8 476.2 134.6 476.1 135.3 475.6 136.1 475.1 136.8 475.6 137.6 475.6 138.3 475.8 139.1 475.4 139.8 475.7 140.6 475.6 141.3 475.8 142.1 475.9 142.8 475.6 143.6 475.6 144.3 475.6 145.1 475.8 145.8 475.7 146.6 476.1 147.3 475.9 148.1 475.5 148.8 475.5 149.6 475.7 150.3 475.8 151.1 475.1 151.8 476.2 152.6 475.6 153.3 475.7 154.1 475.9 154.8 475.8 155.6 476.2 156.3 476.1 157.1 476.1 157.8 475.7 158.6 475.3 159.3 475.4 160.1 475.9 160.8 474.5 161.6 475.2 162.3 475.9 163.1 475.5 163.8 475.6 164.6 476.1 165.3 476.0 166.1 475.9 166.8 476.0 167.6 476.0 168.3 476.2 169.1 476.1 169.8 476.0 170.6 475.8 171.3 475.4 172.1 475.8 172.8 476.0 173.6 475.4 174.3 475.5 175.1 476.0 175.8 476.1 176.6 475.7 177.3 475.7 178.1 475.4 178.8 475.4 179.6 475.2 180.3 475.8 181.1 475.6 181.8 475.2 182.6 476.1 183.3 476.1 184.1 476.1 184.8 475.9 185.6 476.0 186.3 475.5 187.1 476.1 187.8 475.4 188.6 475.2 189.3 474.1 190.1 474.1 190.8 474.7 191.6 475.4 192.3 474.7 193.1 475.6 193.8 475.4 194.6 475.3 195.3 475.3 196.1 476.1 196.8 476.1 197.6 475.9 198.3 476.0 199.1 475.9 199.8 475.8 200.6 476.0 201.3 476.1 202.1 475.7 202.8 476.1 203.6 476.0 204.3 476.1 205.1 476.0 205.8 475.8 206.6 476.2 207.3 475.7 208.1 475.8" fill="none" stroke="#3389c8" stroke-width="0.95" stroke-linejoin="round" opacity="0.90"/>
<path d="M208.1 475.8 208.8 475.2 209.6 474.2 210.3 473.6 211.1 474.7 211.8 475.3" fill="none" stroke="#3389c8" stroke-width="1.05" stroke-linejoin="round" opacity="1.00"/>
<path d="M211.8 475.3 212.6 475.9 213.3 474.8 214.1 475.8 214.8 475.6 215.6 476.2 216.3 476.1 217.1 475.6 217.8 476.1 218.6 475.4 219.3 476.0 220.1 474.9 220.8 475.8 221.6 475.8 222.3 476.0 223.1 474.9 223.8 476.1 224.6 476.2 225.3 475.6 226.1 476.0 226.8 475.6 227.6 476.0 228.3 475.5 229.1 474.7 229.8 474.1 230.6 474.1 231.3 475.1 232.1 475.4 232.8 475.8 233.6 475.4 234.3 475.6 235.1 476.2 235.8 475.4 236.6 475.5 237.3 475.6 238.1 476.2 238.8 475.8 239.6 475.2 240.3 476.0 241.1 476.1 241.8 476.0 242.6 475.7 243.3 475.4 244.1 475.8 244.8 474.5 245.6 475.9 246.3 474.4 247.1 475.8 247.8 476.0 248.6 474.5 249.3 475.2" fill="none" stroke="#3389c8" stroke-width="0.95" stroke-linejoin="round" opacity="0.90"/>
<path d="M249.3 475.2 250.1 474.2 250.8 472.7 251.6 471.1 252.3 472.1 253.1 470.3 253.8 471.1 254.6 467.7 255.3 467.9 256.1 466.9 256.8 469.3 257.6 468.9 258.3 471.7 259.1 474.0 259.8 474.6 260.6 470.1 261.3 462.1 262.1 461.3 262.8 468.9 263.6 474.3 264.3 474.8 265.1 472.5 265.8 473.0 266.6 473.1 267.3 473.9 268.1 474.7 268.8 473.0 269.6 474.3 270.3 472.7 271.1 474.9 271.8 474.6 272.6 475.9 273.3 475.6 274.1 475.3 274.8 473.6 275.6 473.2 276.3 472.9 277.1 473.2 277.8 474.6 278.6 475.7 279.3 475.7" fill="none" stroke="#3389c8" stroke-width="1.05" stroke-linejoin="round" opacity="1.00"/>
<path d="M279.3 475.7 280.1 476.1 280.8 474.9 281.6 476.1 282.3 475.3 283.1 475.8 283.8 474.5 284.6 475.5 285.3 475.9 286.1 476.1 286.8 475.5 287.6 476.0 288.3 475.3 289.1 474.8 289.8 475.4 290.6 476.0 291.3 474.9 292.1 475.2 292.8 476.0 293.6 475.3 294.3 474.5 295.1 475.7 295.8 475.7 296.6 475.2 297.3 475.8 298.1 475.3" fill="none" stroke="#3389c8" stroke-width="0.95" stroke-linejoin="round" opacity="0.90"/>
<path d="M298.1 475.3 298.8 474.5 299.6 473.4 300.3 472.3 301.1 474.0 301.8 474.1 302.6 474.8 303.3 474.2 304.1 472.7 304.8 474.0 305.6 475.3" fill="none" stroke="#3389c8" stroke-width="1.05" stroke-linejoin="round" opacity="1.00"/>
<path d="M305.6 475.3 306.3 474.0 307.1 476.1 307.8 475.5 308.6 475.0 309.3 475.8 310.1 475.9 310.8 476.0 311.6 475.4 312.3 474.4 313.1 475.9 313.8 475.8 314.6 475.7 315.3 476.2 316.1 476.1 316.8 476.1 317.6 475.2 318.3 475.4 319.1 475.7 319.8 475.9 320.6 476.2 321.3 476.1 322.1 475.6 322.8 475.7 323.6 475.9 324.3 475.7 325.1 475.5 325.8 475.8 326.6 476.1 327.3 476.2 328.1 476.0 328.8 475.6 329.6 476.0 330.3 475.2 331.1 475.6 331.8 476.1" fill="none" stroke="#3389c8" stroke-width="0.95" stroke-linejoin="round" opacity="0.90"/>
<path d="M331.8 476.1 332.6 475.5 333.3 474.0 334.1 474.2 334.8 474.6 335.6 473.3 336.3 472.9 337.1 472.5 337.8 474.6 338.6 474.1 339.3 473.4 340.1 473.2 340.8 473.7 341.6 473.8 342.3 475.9 343.1 475.1" fill="none" stroke="#3389c8" stroke-width="1.05" stroke-linejoin="round" opacity="1.00"/>
<path d="M343.1 475.1 343.8 475.7 344.6 475.9 345.3 474.7 346.1 475.9 346.8 476.1 347.6 474.5 348.3 475.2 349.1 475.6 349.8 476.0 350.6 475.1 351.3 475.7 352.1 475.9 352.8 476.0 353.6 475.6 354.3 475.9 355.1 475.9 355.8 475.5 356.6 475.3 357.3 476.1 358.1 475.6 358.8 476.2 359.6 475.3 360.3 476.0 361.1 476.1 361.8 475.9 362.6 475.4 363.3 475.3 364.1 476.0 364.8 475.8 365.6 476.0 366.3 475.9 367.1 475.3 367.8 476.0 368.6 475.8 369.3 476.0 370.1 475.8 370.8 475.3 371.6 476.2 372.3 476.0 373.1 476.0 373.8 474.7 374.6 475.7 375.3 476.0 376.1 476.0 376.8 475.6 377.6 475.3 378.3 476.0" fill="none" stroke="#3389c8" stroke-width="0.95" stroke-linejoin="round" opacity="0.90"/>
<path d="M129.3 518.3 130.1 518.3 130.8 518.2 131.6 518.3 132.3 518.0 133.1 518.4 133.8 518.4 134.6 518.2 135.3 518.3 136.1 518.5 136.8 517.7 137.6 518.1 138.3 517.3 139.1 518.4 139.8 518.3 140.6 518.2 141.3 518.3 142.1 518.0 142.8 518.5 143.6 518.1 144.3 518.3 145.1 517.9 145.8 518.0 146.6 517.5 147.3 518.3 148.1 518.2 148.8 517.5 149.6 518.4 150.3 517.1 151.1 518.2 151.8 517.9 152.6 518.2 153.3 517.4 154.1 517.8 154.8 517.9 155.6 518.4 156.3 518.1 157.1 518.4 157.8 517.2 158.6 518.2 159.3 517.9 160.1 517.6 160.8 518.3 161.6 518.2 162.3 518.2 163.1 517.9 163.8 516.9 164.6 518.5 165.3 517.6 166.1 517.8 166.8 518.1 167.6 518.0 168.3 518.3 169.1 517.3 169.8 518.4 170.6 518.1 171.3 517.2 172.1 517.9 172.8 517.7 173.6 518.2 174.3 517.5" fill="none" stroke="#5c9832" stroke-width="0.95" stroke-linejoin="round" opacity="0.90"/>
<path d="M174.3 517.5 175.1 515.8 175.8 516.4 176.6 515.9 177.3 516.7 178.1 517.9" fill="none" stroke="#5c9832" stroke-width="1.05" stroke-linejoin="round" opacity="1.00"/>
<path d="M178.1 517.9 178.8 518.4 179.6 517.7 180.3 517.9 181.1 518.4 181.8 516.8 182.6 517.2 183.3 518.5 184.1 517.9 184.8 517.9 185.6 518.4 186.3 518.2 187.1 517.5 187.8 518.1 188.6 517.4 189.3 517.3 190.1 516.6 190.8 517.4 191.6 517.2 192.3 518.1 193.1 518.0 193.8 518.3 194.6 518.3 195.3 516.7 196.1 518.2 196.8 518.2 197.6 517.5 198.3 517.3 199.1 517.7 199.8 517.6 200.6 518.1 201.3 518.1 202.1 517.2 202.8 517.9 203.6 517.6 204.3 518.1 205.1 517.8 205.8 517.7 206.6 517.9 207.3 517.3 208.1 518.3 208.8 518.3 209.6 518.1 210.3 518.5 211.1 517.5 211.8 517.3 212.6 518.2 213.3 516.9 214.1 518.5 214.8 517.1 215.6 518.4 216.3 518.2 217.1 517.5 217.8 517.8 218.6 518.0 219.3 517.5 220.1 518.1 220.8 518.1 221.6 518.1 222.3 518.4 223.1 517.8 223.8 518.1 224.6 517.9 225.3 518.3 226.1 518.2 226.8 517.5 227.6 517.8 228.3 518.1 229.1 517.6 229.8 517.8 230.6 518.3 231.3 518.4 232.1 517.5 232.8 518.2 233.6 518.0 234.3 517.9 235.1 518.1 235.8 517.8 236.6 518.2 237.3 518.2 238.1 518.5 238.8 518.0 239.6 518.2 240.3 517.9 241.1 518.2 241.8 518.2 242.6 518.2 243.3 518.5 244.1 518.1 244.8 516.8 245.6 518.2 246.3 516.1 247.1 517.0 247.8 518.0 248.6 517.1 249.3 516.9" fill="none" stroke="#5c9832" stroke-width="0.95" stroke-linejoin="round" opacity="0.90"/>
<path d="M249.3 516.9 250.1 513.7 250.8 514.6 251.6 513.6 252.3 514.6 253.1 512.9 253.8 508.6 254.6 508.0 255.3 510.0 256.1 514.1 256.8 512.3 257.6 514.1 258.3 515.2 259.1 513.5 259.8 515.4 260.6 512.3 261.3 505.3 262.1 502.3 262.8 509.7 263.6 516.2 264.3 517.0 265.1 515.2 265.8 512.5 266.6 515.7 267.3 516.4 268.1 517.0 268.8 515.8 269.6 516.6 270.3 514.8 271.1 517.0 271.8 517.3" fill="none" stroke="#5c9832" stroke-width="1.05" stroke-linejoin="round" opacity="1.00"/>
<path d="M271.8 517.3 272.6 517.6 273.3 517.4 274.1 517.8 274.8 518.3 275.6 518.1 276.3 518.1 277.1 518.2 277.8 518.1 278.6 517.2 279.3 518.4 280.1 517.2 280.8 518.0 281.6 518.2 282.3 517.6 283.1 517.7 283.8 516.5 284.6 518.0 285.3 518.3 286.1 518.4 286.8 516.9 287.6 517.3 288.3 518.2 289.1 517.9 289.8 518.1 290.6 517.2 291.3 517.5 292.1 518.3 292.8 517.5 293.6 517.9 294.3 517.9 295.1 518.2 295.8 518.4 296.6 517.8 297.3 517.8 298.1 517.4" fill="none" stroke="#5c9832" stroke-width="0.95" stroke-linejoin="round" opacity="0.90"/>
<path d="M298.1 517.4 298.8 517.0 299.6 515.5 300.3 516.1 301.1 516.0 301.8 517.3 302.6 515.9 303.3 517.6 304.1 517.6 304.8 517.4 305.6 515.9 306.3 516.2 307.1 515.9 307.8 516.4 308.6 517.4 309.3 518.1" fill="none" stroke="#5c9832" stroke-width="1.05" stroke-linejoin="round" opacity="1.00"/>
<path d="M309.3 518.1 310.1 517.9 310.8 517.9 311.6 518.3 312.3 516.8 313.1 517.0 313.8 517.3 314.6 518.4 315.3 517.0 316.1 518.3 316.8 518.2 317.6 517.0 318.3 516.6 319.1 518.3 319.8 518.4 320.6 517.1 321.3 518.5 322.1 518.4 322.8 517.4 323.6 517.1 324.3 518.5 325.1 516.3 325.8 517.1 326.6 517.4 327.3 517.9 328.1 518.4 328.8 518.4 329.6 518.5 330.3 518.1 331.1 516.8 331.8 516.8" fill="none" stroke="#5c9832" stroke-width="0.95" stroke-linejoin="round" opacity="0.90"/>
<path d="M331.8 516.8 332.6 518.2 333.3 517.7 334.1 517.3 334.8 516.8 335.6 514.5 336.3 514.6 337.1 516.1 337.8 516.0 338.6 517.7 339.3 518.2 340.1 517.4 340.8 515.7 341.6 515.5 342.3 514.7 343.1 516.4" fill="none" stroke="#5c9832" stroke-width="1.05" stroke-linejoin="round" opacity="1.00"/>
<path d="M343.1 516.4 343.8 517.7 344.6 517.2 345.3 517.4 346.1 517.2 346.8 518.3 347.6 518.1 348.3 518.2 349.1 517.0 349.8 517.7 350.6 516.6" fill="none" stroke="#5c9832" stroke-width="0.95" stroke-linejoin="round" opacity="0.90"/>
<path d="M350.6 516.6 351.3 515.5 352.1 516.3 352.8 515.9 353.6 517.7 354.3 518.1" fill="none" stroke="#5c9832" stroke-width="1.05" stroke-linejoin="round" opacity="1.00"/>
<path d="M354.3 518.1 355.1 516.4 355.8 518.3 356.6 518.0 357.3 518.1 358.1 517.3 358.8 518.0 359.6 518.0 360.3 518.2 361.1 518.2 361.8 518.5" fill="none" stroke="#5c9832" stroke-width="0.95" stroke-linejoin="round" opacity="0.90"/>
<path d="M361.8 518.5 362.6 518.2 363.3 518.1 364.1 517.7 364.8 517.1 365.6 515.8 366.3 516.3 367.1 517.2 367.8 517.8 368.6 517.9 369.3 518.4" fill="none" stroke="#5c9832" stroke-width="1.05" stroke-linejoin="round" opacity="1.00"/>
<path d="M369.3 518.4 370.1 518.4 370.8 518.1 371.6 517.6 372.3 518.2 373.1 518.0 373.8 517.8 374.6 517.8 375.3 517.6 376.1 517.7 376.8 518.1 377.6 518.2 378.3 517.4" fill="none" stroke="#5c9832" stroke-width="0.95" stroke-linejoin="round" opacity="0.90"/>
<text x="252.5" y="458.6" text-anchor="middle" font-size="4.4" fill="#444">VP10</text>
<rect x="128.3" y="557.5" width="250.0" height="3.6" fill="#fdfce8"/>
<line x1="128.3" y1="559.3" x2="378.3" y2="559.3" stroke="#efeed8" stroke-width="1.1"/>
<line x1="129.3" y1="607.5" x2="131.3" y2="607.5" stroke="#aeaad4" stroke-width="1" opacity="0.16"/>
<line x1="132.3" y1="607.5" x2="137.2" y2="607.5" stroke="#aeaad4" stroke-width="1" opacity="0.47"/>
<line x1="140.0" y1="607.5" x2="144.4" y2="607.5" stroke="#aeaad4" stroke-width="1" opacity="0.22"/>
<line x1="147.3" y1="607.5" x2="149.0" y2="607.5" stroke="#aeaad4" stroke-width="1" opacity="0.14"/>
<line x1="150.5" y1="607.5" x2="152.2" y2="607.5" stroke="#aeaad4" stroke-width="1" opacity="0.31"/>
<line x1="155.0" y1="607.5" x2="156.0" y2="607.5" stroke="#aeaad4" stroke-width="1" opacity="0.44"/>
<line x1="157.6" y1="607.5" x2="162.0" y2="607.5" stroke="#aeaad4" stroke-width="1" opacity="0.40"/>
<line x1="164.8" y1="607.5" x2="169.4" y2="607.5" stroke="#aeaad4" stroke-width="1" opacity="0.27"/>
<line x1="171.7" y1="607.5" x2="175.0" y2="607.5" stroke="#aeaad4" stroke-width="1" opacity="0.13"/>
<line x1="176.6" y1="607.5" x2="178.6" y2="607.5" stroke="#aeaad4" stroke-width="1" opacity="0.17"/>
<line x1="180.7" y1="607.5" x2="182.0" y2="607.5" stroke="#aeaad4" stroke-width="1" opacity="0.26"/>
<line x1="183.5" y1="607.5" x2="188.3" y2="607.5" stroke="#aeaad4" stroke-width="1" opacity="0.44"/>
<line x1="190.4" y1="607.5" x2="194.4" y2="607.5" stroke="#aeaad4" stroke-width="1" opacity="0.24"/>
<line x1="196.8" y1="607.5" x2="199.4" y2="607.5" stroke="#aeaad4" stroke-width="1" opacity="0.36"/>
<line x1="201.0" y1="607.5" x2="205.4" y2="607.5" stroke="#aeaad4" stroke-width="1" opacity="0.23"/>
<line x1="208.4" y1="607.5" x2="210.0" y2="607.5" stroke="#aeaad4" stroke-width="1" opacity="0.34"/>
<line x1="210.8" y1="607.5" x2="212.7" y2="607.5" stroke="#aeaad4" stroke-width="1" opacity="0.23"/>
<line x1="213.5" y1="607.5" x2="215.4" y2="607.5" stroke="#aeaad4" stroke-width="1" opacity="0.37"/>
<line x1="216.8" y1="607.5" x2="220.1" y2="607.5" stroke="#aeaad4" stroke-width="1" opacity="0.40"/>
<line x1="221.7" y1="607.5" x2="223.5" y2="607.5" stroke="#aeaad4" stroke-width="1" opacity="0.17"/>
<line x1="226.8" y1="607.5" x2="230.2" y2="607.5" stroke="#aeaad4" stroke-width="1" opacity="0.40"/>
<line x1="232.9" y1="607.5" x2="235.8" y2="607.5" stroke="#aeaad4" stroke-width="1" opacity="0.36"/>
<line x1="239.0" y1="607.5" x2="242.7" y2="607.5" stroke="#aeaad4" stroke-width="1" opacity="0.19"/>
<line x1="243.7" y1="607.5" x2="246.6" y2="607.5" stroke="#aeaad4" stroke-width="1" opacity="0.16"/>
<line x1="248.9" y1="607.5" x2="252.8" y2="607.5" stroke="#aeaad4" stroke-width="1" opacity="0.30"/>
<line x1="254.6" y1="607.5" x2="257.7" y2="607.5" stroke="#aeaad4" stroke-width="1" opacity="0.23"/>
<line x1="260.7" y1="607.5" x2="264.0" y2="607.5" stroke="#aeaad4" stroke-width="1" opacity="0.37"/>
<line x1="266.4" y1="607.5" x2="268.7" y2="607.5" stroke="#aeaad4" stroke-width="1" opacity="0.30"/>
<line x1="270.2" y1="607.5" x2="273.6" y2="607.5" stroke="#aeaad4" stroke-width="1" opacity="0.17"/>
<line x1="276.2" y1="607.5" x2="278.9" y2="607.5" stroke="#aeaad4" stroke-width="1" opacity="0.19"/>
<line x1="281.3" y1="607.5" x2="282.7" y2="607.5" stroke="#aeaad4" stroke-width="1" opacity="0.13"/>
<line x1="286.0" y1="607.5" x2="289.0" y2="607.5" stroke="#aeaad4" stroke-width="1" opacity="0.13"/>
<line x1="290.6" y1="607.5" x2="292.6" y2="607.5" stroke="#aeaad4" stroke-width="1" opacity="0.27"/>
<line x1="293.9" y1="607.5" x2="298.5" y2="607.5" stroke="#aeaad4" stroke-width="1" opacity="0.25"/>
<line x1="299.5" y1="607.5" x2="303.3" y2="607.5" stroke="#aeaad4" stroke-width="1" opacity="0.13"/>
<line x1="305.8" y1="607.5" x2="307.7" y2="607.5" stroke="#aeaad4" stroke-width="1" opacity="0.46"/>
<line x1="309.3" y1="607.5" x2="312.0" y2="607.5" stroke="#aeaad4" stroke-width="1" opacity="0.30"/>
<line x1="313.5" y1="607.5" x2="316.5" y2="607.5" stroke="#aeaad4" stroke-width="1" opacity="0.37"/>
<line x1="317.7" y1="607.5" x2="321.6" y2="607.5" stroke="#aeaad4" stroke-width="1" opacity="0.32"/>
<line x1="323.7" y1="607.5" x2="327.7" y2="607.5" stroke="#aeaad4" stroke-width="1" opacity="0.35"/>
<line x1="331.1" y1="607.5" x2="332.3" y2="607.5" stroke="#aeaad4" stroke-width="1" opacity="0.37"/>
<line x1="334.5" y1="607.5" x2="336.8" y2="607.5" stroke="#aeaad4" stroke-width="1" opacity="0.26"/>
<line x1="339.4" y1="607.5" x2="342.9" y2="607.5" stroke="#aeaad4" stroke-width="1" opacity="0.37"/>
<line x1="345.4" y1="607.5" x2="350.1" y2="607.5" stroke="#aeaad4" stroke-width="1" opacity="0.39"/>
<line x1="352.8" y1="607.5" x2="356.6" y2="607.5" stroke="#aeaad4" stroke-width="1" opacity="0.35"/>
<line x1="358.0" y1="607.5" x2="361.5" y2="607.5" stroke="#aeaad4" stroke-width="1" opacity="0.41"/>
<line x1="362.4" y1="607.5" x2="364.4" y2="607.5" stroke="#aeaad4" stroke-width="1" opacity="0.32"/>
<line x1="366.5" y1="607.5" x2="370.4" y2="607.5" stroke="#aeaad4" stroke-width="1" opacity="0.30"/>
<line x1="373.2" y1="607.5" x2="378.0" y2="607.5" stroke="#aeaad4" stroke-width="1" opacity="0.34"/>
<line x1="129.3" y1="664" x2="134.3" y2="664" stroke="#aeaad4" stroke-width="1" opacity="0.39"/>
<line x1="135.9" y1="664" x2="140.8" y2="664" stroke="#aeaad4" stroke-width="1" opacity="0.42"/>
<line x1="141.8" y1="664" x2="145.4" y2="664" stroke="#aeaad4" stroke-width="1" opacity="0.42"/>
<line x1="147.7" y1="664" x2="152.1" y2="664" stroke="#aeaad4" stroke-width="1" opacity="0.30"/>
<line x1="153.3" y1="664" x2="156.8" y2="664" stroke="#aeaad4" stroke-width="1" opacity="0.48"/>
<line x1="159.4" y1="664" x2="163.7" y2="664" stroke="#aeaad4" stroke-width="1" opacity="0.14"/>
<line x1="166.7" y1="664" x2="169.4" y2="664" stroke="#aeaad4" stroke-width="1" opacity="0.48"/>
<line x1="172.7" y1="664" x2="176.7" y2="664" stroke="#aeaad4" stroke-width="1" opacity="0.41"/>
<line x1="178.4" y1="664" x2="181.5" y2="664" stroke="#aeaad4" stroke-width="1" opacity="0.36"/>
<line x1="184.1" y1="664" x2="188.6" y2="664" stroke="#aeaad4" stroke-width="1" opacity="0.49"/>
<line x1="191.3" y1="664" x2="194.3" y2="664" stroke="#aeaad4" stroke-width="1" opacity="0.37"/>
<line x1="196.4" y1="664" x2="199.7" y2="664" stroke="#aeaad4" stroke-width="1" opacity="0.48"/>
<line x1="200.6" y1="664" x2="202.9" y2="664" stroke="#aeaad4" stroke-width="1" opacity="0.14"/>
<line x1="205.0" y1="664" x2="206.8" y2="664" stroke="#aeaad4" stroke-width="1" opacity="0.23"/>
<line x1="210.1" y1="664" x2="212.3" y2="664" stroke="#aeaad4" stroke-width="1" opacity="0.21"/>
<line x1="215.3" y1="664" x2="218.9" y2="664" stroke="#aeaad4" stroke-width="1" opacity="0.46"/>
<line x1="221.3" y1="664" x2="224.2" y2="664" stroke="#aeaad4" stroke-width="1" opacity="0.22"/>
<line x1="225.9" y1="664" x2="228.3" y2="664" stroke="#aeaad4" stroke-width="1" opacity="0.17"/>
<line x1="229.1" y1="664" x2="230.7" y2="664" stroke="#aeaad4" stroke-width="1" opacity="0.41"/>
<line x1="232.4" y1="664" x2="237.1" y2="664" stroke="#aeaad4" stroke-width="1" opacity="0.21"/>
<line x1="238.9" y1="664" x2="241.1" y2="664" stroke="#aeaad4" stroke-width="1" opacity="0.30"/>
<line x1="243.6" y1="664" x2="245.0" y2="664" stroke="#aeaad4" stroke-width="1" opacity="0.22"/>
<line x1="247.3" y1="664" x2="248.8" y2="664" stroke="#aeaad4" stroke-width="1" opacity="0.16"/>
<line x1="251.7" y1="664" x2="254.5" y2="664" stroke="#aeaad4" stroke-width="1" opacity="0.33"/>
<line x1="257.4" y1="664" x2="261.9" y2="664" stroke="#aeaad4" stroke-width="1" opacity="0.48"/>
<line x1="263.5" y1="664" x2="264.7" y2="664" stroke="#aeaad4" stroke-width="1" opacity="0.28"/>
<line x1="267.9" y1="664" x2="268.9" y2="664" stroke="#aeaad4" stroke-width="1" opacity="0.50"/>
<line x1="270.4" y1="664" x2="274.3" y2="664" stroke="#aeaad4" stroke-width="1" opacity="0.43"/>
<line x1="277.1" y1="664" x2="278.1" y2="664" stroke="#aeaad4" stroke-width="1" opacity="0.30"/>
<line x1="279.7" y1="664" x2="284.4" y2="664" stroke="#aeaad4" stroke-width="1" opacity="0.18"/>
<line x1="287.6" y1="664" x2="292.6" y2="664" stroke="#aeaad4" stroke-width="1" opacity="0.24"/>
<line x1="294.9" y1="664" x2="296.2" y2="664" stroke="#aeaad4" stroke-width="1" opacity="0.32"/>
<line x1="298.2" y1="664" x2="301.0" y2="664" stroke="#aeaad4" stroke-width="1" opacity="0.48"/>
<line x1="302.6" y1="664" x2="305.5" y2="664" stroke="#aeaad4" stroke-width="1" opacity="0.42"/>
<line x1="307.1" y1="664" x2="309.1" y2="664" stroke="#aeaad4" stroke-width="1" opacity="0.16"/>
<line x1="311.1" y1="664" x2="313.0" y2="664" stroke="#aeaad4" stroke-width="1" opacity="0.36"/>
<line x1="316.5" y1="664" x2="319.6" y2="664" stroke="#aeaad4" stroke-width="1" opacity="0.38"/>
<line x1="322.2" y1="664" x2="325.3" y2="664" stroke="#aeaad4" stroke-width="1" opacity="0.18"/>
<line x1="327.1" y1="664" x2="328.2" y2="664" stroke="#aeaad4" stroke-width="1" opacity="0.27"/>
<line x1="329.3" y1="664" x2="330.4" y2="664" stroke="#aeaad4" stroke-width="1" opacity="0.25"/>
<line x1="333.0" y1="664" x2="334.9" y2="664" stroke="#aeaad4" stroke-width="1" opacity="0.31"/>
<line x1="336.6" y1="664" x2="338.4" y2="664" stroke="#aeaad4" stroke-width="1" opacity="0.30"/>
<line x1="341.5" y1="664" x2="342.8" y2="664" stroke="#aeaad4" stroke-width="1" opacity="0.46"/>
<line x1="343.8" y1="664" x2="347.1" y2="664" stroke="#aeaad4" stroke-width="1" opacity="0.39"/>
<line x1="348.7" y1="664" x2="349.9" y2="664" stroke="#aeaad4" stroke-width="1" opacity="0.48"/>
<line x1="353.1" y1="664" x2="356.8" y2="664" stroke="#aeaad4" stroke-width="1" opacity="0.28"/>
<line x1="357.7" y1="664" x2="362.0" y2="664" stroke="#aeaad4" stroke-width="1" opacity="0.20"/>
<line x1="364.4" y1="664" x2="366.4" y2="664" stroke="#aeaad4" stroke-width="1" opacity="0.32"/>
<line x1="367.4" y1="664" x2="369.1" y2="664" stroke="#aeaad4" stroke-width="1" opacity="0.46"/>
<line x1="371.1" y1="664" x2="375.7" y2="664" stroke="#aeaad4" stroke-width="1" opacity="0.42"/>
<line x1="377.8" y1="664" x2="378.3" y2="664" stroke="#aeaad4" stroke-width="1" opacity="0.45"/>
<path d="M181.2 581.3 A45.9 26.2 0 0 0 273.0 581.3" fill="none" stroke="#35a0b4" stroke-width="0.94" opacity="0.77"/>
<path d="M217.5 581.3 A27.8 17.5 0 0 0 273.0 581.3" fill="none" stroke="#35a0b4" stroke-width="0.88" opacity="0.71"/>
<path d="M250.0 581.3 A11.5 8.7 0 0 0 273.0 581.3" fill="none" stroke="#35a0b4" stroke-width="0.83" opacity="0.65"/>
<path d="M273.0 581.3 A6.7 8.7 0 0 0 286.4 581.3" fill="none" stroke="#35a0b4" stroke-width="0.77" opacity="0.59"/>
<path d="M274.0 581.3 A30.2 19.4 0 0 0 334.5 581.3" fill="none" stroke="#35a0b4" stroke-width="1.10" opacity="0.95"/>
<path d="M274.0 581.3 A31.5 19.7 0 0 0 337.0 581.3" fill="none" stroke="#35a0b4" stroke-width="1.10" opacity="0.95"/>
<path d="M274.0 581.3 A32.7 19.7 0 0 0 339.3 581.3" fill="none" stroke="#35a0b4" stroke-width="1.05" opacity="0.89"/>
<path d="M274.0 581.3 A35.5 18.7 0 0 0 345.0 581.3" fill="none" stroke="#35a0b4" stroke-width="0.77" opacity="0.59"/>
<path d="M130.0 627.3 A71.5 37.7 0 0 0 273.0 627.3" fill="none" stroke="#2a8b66" stroke-width="0.88" opacity="0.71"/>
<path d="M245.0 627.3 A14.0 10.2 0 0 0 273.0 627.3" fill="none" stroke="#2a8b66" stroke-width="0.99" opacity="0.83"/>
<path d="M252.5 627.3 A10.2 5.7 0 0 0 273.0 627.3" fill="none" stroke="#2a8b66" stroke-width="0.94" opacity="0.77"/>
<path d="M274.0 627.3 A14.7 6.7 0 0 0 303.3 627.3" fill="none" stroke="#2a8b66" stroke-width="0.88" opacity="0.71"/>
<path d="M274.0 627.3 A17.7 12.7 0 0 0 309.3 627.3" fill="none" stroke="#2a8b66" stroke-width="0.94" opacity="0.77"/>
<path d="M274.0 627.3 A30.2 19.0 0 0 0 334.5 627.3" fill="none" stroke="#2a8b66" stroke-width="0.99" opacity="0.83"/>
<path d="M274.0 627.3 A44.7 26.3 0 0 0 363.4 627.3" fill="none" stroke="#2a8b66" stroke-width="0.77" opacity="0.59"/>
<path d="M129.3 580.7 130.1 580.2 130.8 580.7 131.6 580.7 132.3 580.5 133.1 579.9 133.8 580.8 134.6 580.8 135.3 580.0 136.1 580.7 136.8 580.7 137.6 579.7 138.3 580.0 139.1 580.8 139.8 580.2 140.6 581.0 141.3 581.1 142.1 579.3 142.8 581.1 143.6 580.7 144.3 580.5 145.1 580.4 145.8 580.5 146.6 580.8 147.3 579.5 148.1 580.7 148.8 581.0 149.6 579.8 150.3 579.4 151.1 579.7 151.8 580.5 152.6 580.7 153.3 581.0 154.1 580.7 154.8 580.2 155.6 581.2 156.3 580.3 157.1 580.4 157.8 580.6 158.6 580.9 159.3 581.2 160.1 580.7 160.8 580.9 161.6 581.0 162.3 580.8 163.1 580.2 163.8 580.8 164.6 580.7 165.3 580.0 166.1 580.9 166.8 580.1 167.6 580.4 168.3 580.6 169.1 580.3 169.8 580.7 170.6 580.7" fill="none" stroke="#3f8fc8" stroke-width="0.95" stroke-linejoin="round" opacity="0.50"/>
<path d="M170.6 580.7 171.3 578.3 172.1 580.0 172.8 580.3 173.6 580.0 174.3 579.9" fill="none" stroke="#3f8fc8" stroke-width="1.05" stroke-linejoin="round" opacity="0.55"/>
<path d="M174.3 579.9 175.1 580.1 175.8 579.0 176.6 580.5 177.3 580.9 178.1 580.1 178.8 580.8 179.6 579.1 180.3 579.5 181.1 580.5 181.8 580.0 182.6 580.6 183.3 579.9 184.1 581.1 184.8 580.8 185.6 580.5 186.3 580.7 187.1 581.1 187.8 579.4 188.6 580.8 189.3 580.5 190.1 581.2 190.8 579.9 191.6 580.5 192.3 580.3 193.1 580.9 193.8 580.8 194.6 580.3 195.3 580.6 196.1 580.1 196.8 580.5 197.6 579.5 198.3 579.1 199.1 580.1 199.8 581.2 200.6 580.7 201.3 580.5 202.1 579.1 202.8 580.8 203.6 580.4 204.3 580.6" fill="none" stroke="#3f8fc8" stroke-width="0.95" stroke-linejoin="round" opacity="0.50"/>
<path d="M204.3 580.6 205.1 580.0 205.8 580.6 206.6 579.9 207.3 578.5 208.1 579.8" fill="none" stroke="#3f8fc8" stroke-width="1.05" stroke-linejoin="round" opacity="0.55"/>
<path d="M208.1 579.8 208.8 578.8 209.6 580.8 210.3 580.7 211.1 581.1 211.8 581.1 212.6 580.9 213.3 581.1 214.1 579.6 214.8 580.9 215.6 580.9" fill="none" stroke="#3f8fc8" stroke-width="0.95" stroke-linejoin="round" opacity="0.50"/>
<path d="M215.6 580.9 216.3 580.2 217.1 580.9 217.8 580.3 218.6 579.9 219.3 578.7 220.1 579.3 220.8 579.2 221.6 580.3 222.3 580.9 223.1 580.1" fill="none" stroke="#3f8fc8" stroke-width="1.05" stroke-linejoin="round" opacity="0.55"/>
<path d="M223.1 580.1 223.8 580.5 224.6 580.0 225.3 580.8 226.1 579.6 226.8 580.2 227.6 579.3 228.3 581.1 229.1 579.5 229.8 580.0 230.6 581.0 231.3 579.3 232.1 580.2 232.8 580.3 233.6 580.9 234.3 580.4" fill="none" stroke="#3f8fc8" stroke-width="0.95" stroke-linejoin="round" opacity="0.50"/>
<path d="M234.3 580.4 235.1 578.6 235.8 580.3 236.6 580.6 237.3 579.2 238.1 579.5" fill="none" stroke="#3f8fc8" stroke-width="1.05" stroke-linejoin="round" opacity="0.55"/>
<path d="M238.1 579.5 238.8 579.4 239.6 580.3 240.3 580.2 241.1 580.2 241.8 580.2 242.6 580.5 243.3 579.9 244.1 580.6 244.8 580.2 245.6 579.9 246.3 579.8 247.1 580.5 247.8 580.7 248.6 580.9 249.3 580.3" fill="none" stroke="#3f8fc8" stroke-width="0.95" stroke-linejoin="round" opacity="0.50"/>
<path d="M249.3 580.3 250.1 580.5 250.8 580.7 251.6 580.1 252.3 579.4 253.1 578.4 253.8 578.7 254.6 578.5 255.3 580.5 256.1 580.0 256.8 580.8 257.6 579.6 258.3 577.8 259.1 577.8 259.8 578.2 260.6 579.0 261.3 578.5 262.1 579.1 262.8 577.2 263.6 575.4 264.3 578.1 265.1 579.2 265.8 578.9 266.6 577.8 267.3 576.3 268.1 576.5 268.8 576.7 269.6 574.0 270.3 573.3 271.1 572.7 271.8 575.5 272.6 577.4 273.3 576.0 274.1 573.9 274.8 570.4 275.6 573.7 276.3 577.5 277.1 575.3 277.8 575.6 278.6 576.0 279.3 578.8 280.1 576.6 280.8 577.6 281.6 578.8 282.3 579.2 283.1 579.7 283.8 580.4 284.6 580.7 285.3 580.4 286.1 579.5 286.8 578.7 287.6 577.5 288.3 579.3 289.1 578.7 289.8 577.8 290.6 579.4 291.3 578.4 292.1 578.4 292.8 579.8 293.6 580.9 294.3 580.5" fill="none" stroke="#3f8fc8" stroke-width="1.05" stroke-linejoin="round" opacity="0.55"/>
<path d="M294.3 580.5 295.1 580.5 295.8 579.5 296.6 579.1 297.3 580.4 298.1 580.0" fill="none" stroke="#3f8fc8" stroke-width="0.95" stroke-linejoin="round" opacity="0.50"/>
<path d="M298.1 580.0 298.8 580.2 299.6 579.3 300.3 577.5 301.1 579.3 301.8 579.6 302.6 579.5 303.3 580.8 304.1 579.5 304.8 578.1 305.6 579.6 306.3 577.4 307.1 577.1 307.8 580.0 308.6 580.4 309.3 579.0" fill="none" stroke="#3f8fc8" stroke-width="1.05" stroke-linejoin="round" opacity="0.55"/>
<path d="M309.3 579.0 310.1 581.1 310.8 580.0 311.6 579.9 312.3 580.9 313.1 580.4 313.8 580.2 314.6 579.2 315.3 580.8 316.1 580.4 316.8 580.8 317.6 579.8 318.3 580.6 319.1 579.3 319.8 579.1 320.6 580.7 321.3 580.7 322.1 580.3 322.8 580.5 323.6 580.6 324.3 579.4 325.1 580.0 325.8 578.9 326.6 580.8 327.3 580.3 328.1 579.5" fill="none" stroke="#3f8fc8" stroke-width="0.95" stroke-linejoin="round" opacity="0.50"/>
<path d="M328.1 579.5 328.8 577.9 329.6 577.4 330.3 578.4 331.1 579.4 331.8 580.8 332.6 579.2 333.3 578.0 334.1 577.5 334.8 578.6 335.6 579.5 336.3 578.8 337.1 578.7 337.8 579.0 338.6 578.1 339.3 579.6 340.1 580.2 340.8 581.2 341.6 580.7 342.3 580.7 343.1 578.1 343.8 580.1 344.6 580.8 345.3 580.7 346.1 579.8 346.8 579.8" fill="none" stroke="#3f8fc8" stroke-width="1.05" stroke-linejoin="round" opacity="0.55"/>
<path d="M346.8 579.8 347.6 580.4 348.3 580.2 349.1 580.3 349.8 580.5 350.6 579.6" fill="none" stroke="#3f8fc8" stroke-width="0.95" stroke-linejoin="round" opacity="0.50"/>
<path d="M350.6 579.6 351.3 580.0 352.1 579.7 352.8 578.4 353.6 578.2 354.3 577.9 355.1 579.3 355.8 580.4 356.6 580.5 357.3 580.5 358.1 580.0 358.8 579.9 359.6 580.8 360.3 578.4 361.1 579.7 361.8 579.2 362.6 578.6 363.3 579.4 364.1 580.3 364.8 580.8 365.6 580.8" fill="none" stroke="#3f8fc8" stroke-width="1.05" stroke-linejoin="round" opacity="0.55"/>
<path d="M365.6 580.8 366.3 580.4 367.1 580.4 367.8 579.3 368.6 580.7 369.3 579.4 370.1 580.5 370.8 580.2 371.6 580.9 372.3 580.8 373.1 581.1 373.8 579.8 374.6 580.3 375.3 580.8 376.1 579.2 376.8 581.0 377.6 580.9 378.3 580.6" fill="none" stroke="#3f8fc8" stroke-width="0.95" stroke-linejoin="round" opacity="0.50"/>
<path d="M129.3 625.3 130.1 626.7 130.8 627.0 131.6 625.8 132.3 626.6 133.1 626.3 133.8 627.0 134.6 626.9 135.3 626.4 136.1 626.6 136.8 627.1 137.6 626.7 138.3 627.1 139.1 627.1 139.8 626.3 140.6 627.0 141.3 627.1 142.1 626.8 142.8 627.0 143.6 626.1 144.3 626.8 145.1 626.4 145.8 626.4 146.6 627.0 147.3 626.5 148.1 627.1 148.8 626.7 149.6 626.1 150.3 626.2 151.1 626.6 151.8 626.3 152.6 626.7 153.3 627.0 154.1 625.6 154.8 626.9 155.6 626.7 156.3 626.9 157.1 627.2 157.8 626.6 158.6 627.1 159.3 625.6 160.1 626.7 160.8 625.8 161.6 627.2 162.3 626.5 163.1 626.5 163.8 627.2 164.6 627.1 165.3 626.9 166.1 626.9 166.8 626.9 167.6 627.1 168.3 626.2 169.1 627.1 169.8 627.1 170.6 626.9 171.3 626.1 172.1 626.6 172.8 627.0 173.6 627.2 174.3 627.1 175.1 627.0 175.8 626.4 176.6 626.5 177.3 626.8 178.1 626.3 178.8 627.0 179.6 626.6 180.3 627.2 181.1 627.0 181.8 627.1 182.6 626.9 183.3 627.0 184.1 626.7 184.8 627.1 185.6 625.9 186.3 626.3 187.1 627.2 187.8 625.8 188.6 627.0 189.3 627.1 190.1 627.1 190.8 626.1 191.6 626.6 192.3 626.4 193.1 626.6 193.8 627.1 194.6 627.1 195.3 627.1 196.1 627.2 196.8 626.9 197.6 625.9 198.3 625.5 199.1 626.2 199.8 626.0 200.6 625.4 201.3 625.5 202.1 626.2 202.8 626.7 203.6 627.0 204.3 626.4 205.1 627.1 205.8 626.4 206.6 627.0 207.3 626.8 208.1 625.8" fill="none" stroke="#5e9a36" stroke-width="0.95" stroke-linejoin="round" opacity="0.50"/>
<path d="M208.1 625.8 208.8 624.0 209.6 626.0 210.3 626.5 211.1 626.7 211.8 626.1" fill="none" stroke="#5e9a36" stroke-width="1.05" stroke-linejoin="round" opacity="0.55"/>
<path d="M211.8 626.1 212.6 626.2 213.3 626.1 214.1 626.9 214.8 627.1 215.6 627.0 216.3 626.5 217.1 625.6 217.8 626.0 218.6 627.0 219.3 626.9 220.1 626.8 220.8 625.9 221.6 626.4 222.3 626.8 223.1 626.7 223.8 627.1 224.6 626.4 225.3 625.8 226.1 626.4 226.8 626.6" fill="none" stroke="#5e9a36" stroke-width="0.95" stroke-linejoin="round" opacity="0.50"/>
<path d="M226.8 626.6 227.6 626.4 228.3 626.3 229.1 626.2 229.8 624.7 230.6 625.5" fill="none" stroke="#5e9a36" stroke-width="1.05" stroke-linejoin="round" opacity="0.55"/>
<path d="M230.6 625.5 231.3 625.6 232.1 626.4 232.8 626.5 233.6 626.5 234.3 626.9 235.1 624.8 235.8 626.8 236.6 627.1 237.3 627.0 238.1 626.7 238.8 626.9 239.6 626.6 240.3 626.3 241.1 625.8 241.8 627.2 242.6 626.2 243.3 626.4 244.1 625.9 244.8 626.9 245.6 626.9 246.3 625.7 247.1 627.1 247.8 625.8 248.6 626.9 249.3 626.1" fill="none" stroke="#5e9a36" stroke-width="0.95" stroke-linejoin="round" opacity="0.50"/>
<path d="M249.3 626.1 250.1 625.7 250.8 625.5 251.6 625.3 252.3 625.6 253.1 624.5 253.8 625.8 254.6 626.5 255.3 626.9 256.1 623.6 256.8 627.2 257.6 625.3 258.3 626.0 259.1 626.1 259.8 626.4 260.6 623.8 261.3 624.6 262.1 622.2 262.8 622.6 263.6 625.8 264.3 625.1 265.1 624.6 265.8 623.3 266.6 622.5 267.3 620.1 268.1 623.2 268.8 620.8 269.6 619.6 270.3 618.8 271.1 619.8 271.8 622.3 272.6 617.8 273.3 615.7 274.1 618.4 274.8 620.6 275.6 620.2 276.3 622.9 277.1 624.2 277.8 624.2 278.6 626.6 279.3 624.8 280.1 624.8 280.8 621.2 281.6 621.9 282.3 625.3 283.1 624.9 283.8 626.6 284.6 624.9 285.3 624.5 286.1 625.0 286.8 625.7" fill="none" stroke="#5e9a36" stroke-width="1.05" stroke-linejoin="round" opacity="0.55"/>
<path d="M286.8 625.7 287.6 624.9 288.3 626.8 289.1 626.6 289.8 626.8 290.6 626.7 291.3 626.3 292.1 626.9 292.8 625.4 293.6 626.7 294.3 626.0" fill="none" stroke="#5e9a36" stroke-width="0.95" stroke-linejoin="round" opacity="0.50"/>
<path d="M294.3 626.0 295.1 626.9 295.8 625.1 296.6 626.7 297.3 627.2 298.1 624.4 298.8 626.9 299.6 626.3 300.3 624.5 301.1 625.3 301.8 626.0" fill="none" stroke="#5e9a36" stroke-width="1.05" stroke-linejoin="round" opacity="0.55"/>
<path d="M301.8 626.0 302.6 625.9 303.3 625.7 304.1 625.9 304.8 626.9 305.6 625.8 306.3 626.3 307.1 626.2 307.8 625.5 308.6 626.8 309.3 626.5" fill="none" stroke="#5e9a36" stroke-width="0.95" stroke-linejoin="round" opacity="0.50"/>
<path d="M309.3 626.5 310.1 625.8 310.8 625.2 311.6 624.4 312.3 626.0 313.1 626.8" fill="none" stroke="#5e9a36" stroke-width="1.05" stroke-linejoin="round" opacity="0.55"/>
<path d="M313.1 626.8 313.8 626.8 314.6 626.8 315.3 625.0 316.1 626.6 316.8 626.0 317.6 626.1 318.3 626.8 319.1 627.1 319.8 626.3 320.6 626.9 321.3 627.2 322.1 625.6 322.8 625.6 323.6 626.2 324.3 626.0" fill="none" stroke="#5e9a36" stroke-width="0.95" stroke-linejoin="round" opacity="0.50"/>
<path d="M324.3 626.0 325.1 624.9 325.8 623.7 326.6 625.2 327.3 626.3 328.1 625.4" fill="none" stroke="#5e9a36" stroke-width="1.05" stroke-linejoin="round" opacity="0.55"/>
<path d="M328.1 625.4 328.8 625.5 329.6 625.7 330.3 626.9 331.1 625.1 331.8 626.2" fill="none" stroke="#5e9a36" stroke-width="0.95" stroke-linejoin="round" opacity="0.50"/>
<path d="M331.8 626.2 332.6 623.5 333.3 624.4 334.1 624.2 334.8 625.7 335.6 625.6" fill="none" stroke="#5e9a36" stroke-width="1.05" stroke-linejoin="round" opacity="0.55"/>
<path d="M335.6 625.6 336.3 626.8 337.1 626.7 337.8 625.2 338.6 627.2 339.3 624.9 340.1 627.1 340.8 625.8 341.6 627.2 342.3 627.1 343.1 626.4 343.8 626.2 344.6 626.3 345.3 626.2 346.1 627.0 346.8 626.6 347.6 627.0 348.3 625.8 349.1 626.3 349.8 627.1 350.6 626.0 351.3 626.0 352.1 626.0 352.8 626.8 353.6 626.0 354.3 626.1 355.1 626.7 355.8 626.8 356.6 626.6 357.3 625.6 358.1 626.7 358.8 627.2 359.6 626.6 360.3 626.8 361.1 626.7 361.8 626.3 362.6 627.1 363.3 626.3 364.1 626.6 364.8 626.6 365.6 626.6 366.3 626.6 367.1 626.3 367.8 626.5 368.6 626.3 369.3 626.1 370.1 625.3 370.8 624.8 371.6 625.4 372.3 626.3 373.1 626.0 373.8 626.1 374.6 627.1 375.3 627.1 376.1 627.1 376.8 627.1 377.6 626.9 378.3 626.6" fill="none" stroke="#5e9a36" stroke-width="0.95" stroke-linejoin="round" opacity="0.50"/>
<path d="M129.3 580.2 130.1 580.3 130.8 580.3 131.6 578.8 132.3 580.2 133.1 579.5 133.8 580.5 134.6 580.4 135.3 580.0 136.1 579.6 136.8 580.1 137.6 579.8 138.3 580.5 139.1 580.4 139.8 580.0 140.6 580.4 141.3 579.1 142.1 580.4 142.8 580.3 143.6 580.5 144.3 579.6 145.1 580.7 145.8 579.3 146.6 580.4 147.3 580.1 148.1 580.4" fill="none" stroke="#3389c8" stroke-width="0.95" stroke-linejoin="round" opacity="0.90"/>
<path d="M148.1 580.4 148.8 577.1 149.6 578.1 150.3 579.1 151.1 579.6 151.8 579.8" fill="none" stroke="#3389c8" stroke-width="1.05" stroke-linejoin="round" opacity="1.00"/>
<path d="M151.8 579.8 152.6 579.4 153.3 579.1 154.1 579.2 154.8 579.4 155.6 580.6 156.3 580.0 157.1 580.1 157.8 579.4 158.6 580.8 159.3 579.7 160.1 579.7 160.8 579.7 161.6 580.7 162.3 579.3 163.1 580.5 163.8 579.6 164.6 580.2 165.3 580.2 166.1 580.2 166.8 580.6 167.6 580.2 168.3 580.5 169.1 580.5 169.8 579.3 170.6 580.6 171.3 579.2 172.1 578.6 172.8 579.3 173.6 578.8 174.3 578.9 175.1 579.6 175.8 580.0 176.6 580.2 177.3 580.6 178.1 579.9 178.8 579.4 179.6 580.0 180.3 580.6 181.1 580.5 181.8 580.3 182.6 580.2 183.3 580.1 184.1 580.7 184.8 580.7 185.6 578.9 186.3 580.5 187.1 580.6 187.8 580.3 188.6 579.0 189.3 580.3 190.1 580.8 190.8 580.3 191.6 580.2 192.3 580.8 193.1 580.5 193.8 580.3 194.6 580.4 195.3 580.2 196.1 580.2 196.8 579.9" fill="none" stroke="#3389c8" stroke-width="0.95" stroke-linejoin="round" opacity="0.90"/>
<path d="M196.8 579.9 197.6 578.0 198.3 580.5 199.1 579.7 199.8 580.6 200.6 579.1" fill="none" stroke="#3389c8" stroke-width="1.05" stroke-linejoin="round" opacity="1.00"/>
<path d="M200.6 579.1 201.3 579.5 202.1 580.7 202.8 580.2 203.6 579.8 204.3 580.3" fill="none" stroke="#3389c8" stroke-width="0.95" stroke-linejoin="round" opacity="0.90"/>
<path d="M204.3 580.3 205.1 579.7 205.8 578.3 206.6 577.8 207.3 579.5 208.1 579.2" fill="none" stroke="#3389c8" stroke-width="1.05" stroke-linejoin="round" opacity="1.00"/>
<path d="M208.1 579.2 208.8 579.3 209.6 580.4 210.3 579.8 211.1 579.4 211.8 580.8 212.6 579.5 213.3 580.3 214.1 580.1 214.8 580.3 215.6 579.6" fill="none" stroke="#3389c8" stroke-width="0.95" stroke-linejoin="round" opacity="0.90"/>
<path d="M215.6 579.6 216.3 579.8 217.1 578.7 217.8 578.7 218.6 577.2 219.3 577.6 220.1 579.0 220.8 580.1 221.6 579.1 222.3 580.6 223.1 580.7" fill="none" stroke="#3389c8" stroke-width="1.05" stroke-linejoin="round" opacity="1.00"/>
<path d="M223.1 580.7 223.8 580.4 224.6 579.8 225.3 579.6 226.1 579.2 226.8 580.5 227.6 580.1 228.3 580.4 229.1 580.0 229.8 579.8 230.6 580.6 231.3 580.6 232.1 580.8 232.8 580.5 233.6 580.1 234.3 580.3" fill="none" stroke="#3389c8" stroke-width="0.95" stroke-linejoin="round" opacity="0.90"/>
<path d="M234.3 580.3 235.1 580.5 235.8 580.0 236.6 579.3 237.3 578.3 238.1 578.9" fill="none" stroke="#3389c8" stroke-width="1.05" stroke-linejoin="round" opacity="1.00"/>
<path d="M238.1 578.9 238.8 578.9 239.6 579.6 240.3 580.7 241.1 580.4 241.8 579.5" fill="none" stroke="#3389c8" stroke-width="0.95" stroke-linejoin="round" opacity="0.90"/>
<path d="M241.8 579.5 242.6 580.2 243.3 580.2 244.1 578.5 244.8 578.1 245.6 578.7 246.3 578.2 247.1 579.9 247.8 580.1 248.6 580.3 249.3 579.9 250.1 579.9 250.8 578.4 251.6 578.3 252.3 577.3 253.1 577.9 253.8 579.1 254.6 577.9 255.3 579.1 256.1 579.5 256.8 577.8 257.6 578.4 258.3 576.3 259.1 575.3 259.8 574.0 260.6 576.8 261.3 577.6 262.1 574.4 262.8 574.4 263.6 576.4 264.3 577.2 265.1 575.3 265.8 574.0 266.6 574.9 267.3 576.7 268.1 577.0 268.8 573.9 269.6 566.4 270.3 568.1 271.1 572.9 271.8 576.8 272.6 575.5 273.3 567.0 274.1 566.9 274.8 572.3 275.6 574.1 276.3 573.3 277.1 572.7 277.8 572.6 278.6 576.0 279.3 576.8 280.1 575.1 280.8 576.0 281.6 579.2 282.3 580.3 283.1 579.1 283.8 579.6 284.6 579.0 285.3 578.3 286.1 576.7 286.8 574.8 287.6 578.1 288.3 578.1 289.1 578.6 289.8 577.4 290.6 577.8 291.3 578.2 292.1 580.1 292.8 580.3 293.6 579.9 294.3 580.3 295.1 579.5 295.8 578.0 296.6 580.7 297.3 580.4 298.1 578.2 298.8 577.0 299.6 577.1 300.3 578.1 301.1 579.2 301.8 578.6 302.6 579.0 303.3 580.2 304.1 579.5 304.8 577.6 305.6 576.7 306.3 576.1 307.1 576.6 307.8 579.4 308.6 579.0 309.3 580.1" fill="none" stroke="#3389c8" stroke-width="1.05" stroke-linejoin="round" opacity="1.00"/>
<path d="M309.3 580.1 310.1 579.8 310.8 580.1 311.6 580.5 312.3 580.2 313.1 579.6 313.8 579.6 314.6 580.2 315.3 579.3 316.1 579.1 316.8 579.8 317.6 580.5 318.3 578.7 319.1 580.5 319.8 579.4 320.6 579.7 321.3 580.3 322.1 579.9 322.8 580.7 323.6 580.3 324.3 579.6" fill="none" stroke="#3389c8" stroke-width="0.95" stroke-linejoin="round" opacity="0.90"/>
<path d="M324.3 579.6 325.1 580.7 325.8 580.1 326.6 579.5 327.3 577.8 328.1 575.3 328.8 575.6 329.6 577.4 330.3 578.1 331.1 578.4 331.8 578.8 332.6 576.7 333.3 576.6 334.1 576.9 334.8 578.2 335.6 577.9 336.3 576.9 337.1 576.9 337.8 577.6 338.6 578.1 339.3 579.4" fill="none" stroke="#3389c8" stroke-width="1.05" stroke-linejoin="round" opacity="1.00"/>
<path d="M339.3 579.4 340.1 579.8 340.8 580.4 341.6 580.8 342.3 580.5 343.1 579.5" fill="none" stroke="#3389c8" stroke-width="0.95" stroke-linejoin="round" opacity="0.90"/>
<path d="M343.1 579.5 343.8 580.5 344.6 580.5 345.3 578.6 346.1 578.8 346.8 577.6 347.6 578.8 348.3 580.3 349.1 580.7 349.8 580.0 350.6 579.0 351.3 577.3 352.1 575.7 352.8 575.5 353.6 578.1 354.3 579.8" fill="none" stroke="#3389c8" stroke-width="1.05" stroke-linejoin="round" opacity="1.00"/>
<path d="M354.3 579.8 355.1 579.2 355.8 580.1 356.6 579.6 357.3 580.4 358.1 578.8" fill="none" stroke="#3389c8" stroke-width="0.95" stroke-linejoin="round" opacity="0.90"/>
<path d="M358.1 578.8 358.8 580.1 359.6 578.9 360.3 577.8 361.1 577.2 361.8 578.0 362.6 579.7 363.3 578.7 364.1 580.2 364.8 579.2 365.6 580.1 366.3 579.6 367.1 577.8 367.8 579.7 368.6 580.3 369.3 580.8" fill="none" stroke="#3389c8" stroke-width="1.05" stroke-linejoin="round" opacity="1.00"/>
<path d="M369.3 580.8 370.1 580.7 370.8 579.6 371.6 580.5 372.3 580.4 373.1 579.4 373.8 580.6 374.6 580.7 375.3 580.6 376.1 580.5 376.8 580.2 377.6 579.9 378.3 579.9" fill="none" stroke="#3389c8" stroke-width="0.95" stroke-linejoin="round" opacity="0.90"/>
<path d="M129.3 625.7 130.1 626.3 130.8 625.9 131.6 626.6 132.3 626.5 133.1 626.3 133.8 625.9 134.6 626.7 135.3 625.8 136.1 626.1 136.8 626.5 137.6 624.8 138.3 626.6 139.1 626.3 139.8 626.2 140.6 626.6 141.3 626.7 142.1 626.8 142.8 626.5 143.6 625.8 144.3 626.7 145.1 626.1 145.8 626.0 146.6 626.2 147.3 626.4 148.1 626.3 148.8 626.4 149.6 626.0 150.3 626.0 151.1 624.5 151.8 626.1 152.6 626.6 153.3 625.6 154.1 626.6 154.8 624.6 155.6 626.8 156.3 626.7 157.1 626.5 157.8 626.3 158.6 626.6 159.3 626.6 160.1 626.4 160.8 625.6 161.6 626.8 162.3 626.1 163.1 626.6 163.8 625.6 164.6 626.2 165.3 626.4 166.1 626.8 166.8 626.5 167.6 626.3 168.3 626.7 169.1 625.7 169.8 626.0 170.6 626.3 171.3 626.6 172.1 625.4 172.8 626.6 173.6 625.8 174.3 625.0 175.1 626.6 175.8 626.2 176.6 626.7 177.3 626.6 178.1 626.1 178.8 626.3 179.6 626.5 180.3 625.7 181.1 625.8 181.8 626.6 182.6 626.5 183.3 626.7 184.1 626.3 184.8 625.4 185.6 626.7 186.3 626.8 187.1 626.8 187.8 626.2 188.6 625.7 189.3 626.6 190.1 626.2 190.8 626.0 191.6 626.7 192.3 626.0 193.1 626.3 193.8 626.5 194.6 625.5 195.3 625.8 196.1 625.8 196.8 626.4" fill="none" stroke="#5c9832" stroke-width="0.95" stroke-linejoin="round" opacity="0.90"/>
<path d="M196.8 626.4 197.6 625.7 198.3 626.2 199.1 624.5 199.8 623.7 200.6 623.8 201.3 625.0 202.1 626.3 202.8 626.5 203.6 625.9 204.3 626.5" fill="none" stroke="#5c9832" stroke-width="1.05" stroke-linejoin="round" opacity="1.00"/>
<path d="M204.3 626.5 205.1 626.6 205.8 625.9 206.6 626.6 207.3 626.7 208.1 625.4 208.8 625.7 209.6 626.4 210.3 625.5 211.1 625.6 211.8 625.4 212.6 626.1 213.3 626.0 214.1 625.9 214.8 626.2 215.6 626.5 216.3 626.3 217.1 626.4 217.8 626.1 218.6 626.3 219.3 626.7 220.1 625.6 220.8 626.6 221.6 626.0 222.3 626.5 223.1 626.6 223.8 624.9 224.6 625.9 225.3 626.1 226.1 626.6 226.8 626.7 227.6 626.1 228.3 626.0 229.1 625.3 229.8 624.4 230.6 624.6 231.3 625.8 232.1 625.7 232.8 625.9 233.6 625.4 234.3 625.3 235.1 626.6 235.8 625.9 236.6 626.4 237.3 626.5 238.1 626.8 238.8 625.3 239.6 626.3 240.3 626.6 241.1 626.7 241.8 626.4 242.6 626.3 243.3 626.4 244.1 626.2 244.8 626.7 245.6 625.9 246.3 626.4 247.1 626.3 247.8 626.3 248.6 625.6 249.3 624.7 250.1 624.8 250.8 624.6 251.6 624.7 252.3 624.3 253.1 626.3 253.8 626.8 254.6 626.3 255.3 625.2 256.1 625.8 256.8 625.3" fill="none" stroke="#5c9832" stroke-width="0.95" stroke-linejoin="round" opacity="0.90"/>
<path d="M256.8 625.3 257.6 625.8 258.3 625.1 259.1 624.2 259.8 624.8 260.6 622.1 261.3 620.9 262.1 622.3 262.8 623.1 263.6 625.5 264.3 623.0 265.1 621.4 265.8 617.8 266.6 618.9 267.3 621.0 268.1 621.1 268.8 616.0 269.6 610.0 270.3 617.8 271.1 619.4 271.8 611.3 272.6 610.1 273.3 613.0 274.1 616.0 274.8 618.4 275.6 619.3 276.3 621.8 277.1 623.7 277.8 623.5 278.6 624.4 279.3 618.3 280.1 620.7 280.8 622.9 281.6 622.5 282.3 623.8 283.1 625.0 283.8 623.7 284.6 623.1 285.3 622.6 286.1 624.6 286.8 626.0" fill="none" stroke="#5c9832" stroke-width="1.05" stroke-linejoin="round" opacity="1.00"/>
<path d="M286.8 626.0 287.6 626.3 288.3 626.4 289.1 626.4 289.8 626.5 290.6 626.8 291.3 626.3 292.1 625.9 292.8 625.6 293.6 626.0 294.3 625.9 295.1 626.5 295.8 626.3 296.6 626.0 297.3 625.6 298.1 626.2" fill="none" stroke="#5c9832" stroke-width="0.95" stroke-linejoin="round" opacity="0.90"/>
<path d="M298.1 626.2 298.8 625.1 299.6 621.9 300.3 623.3 301.1 623.2 301.8 626.0" fill="none" stroke="#5c9832" stroke-width="1.05" stroke-linejoin="round" opacity="1.00"/>
<path d="M301.8 626.0 302.6 625.1 303.3 625.7 304.1 625.9 304.8 626.0 305.6 626.5" fill="none" stroke="#5c9832" stroke-width="0.95" stroke-linejoin="round" opacity="0.90"/>
<path d="M305.6 626.5 306.3 626.5 307.1 625.9 307.8 626.3 308.6 625.2 309.3 623.7 310.1 623.8 310.8 624.8 311.6 625.2 312.3 626.6 313.1 626.2" fill="none" stroke="#5c9832" stroke-width="1.05" stroke-linejoin="round" opacity="1.00"/>
<path d="M313.1 626.2 313.8 625.9 314.6 626.7 315.3 626.2 316.1 626.4 316.8 626.5 317.6 626.5 318.3 626.3 319.1 626.2 319.8 625.8 320.6 625.8" fill="none" stroke="#5c9832" stroke-width="0.95" stroke-linejoin="round" opacity="0.90"/>
<path d="M320.6 625.8 321.3 625.4 322.1 625.5 322.8 625.3 323.6 624.4 324.3 624.0 325.1 623.4 325.8 624.2 326.6 625.1 327.3 626.2 328.1 626.6 328.8 626.4 329.6 625.8 330.3 625.6 331.1 624.5 331.8 624.0 332.6 623.2 333.3 622.5 334.1 622.6 334.8 623.7 335.6 625.9 336.3 626.5 337.1 625.9 337.8 626.7 338.6 625.8 339.3 624.2 340.1 625.3 340.8 626.2 341.6 626.1 342.3 625.6 343.1 625.6" fill="none" stroke="#5c9832" stroke-width="1.05" stroke-linejoin="round" opacity="1.00"/>
<path d="M343.1 625.6 343.8 626.5 344.6 625.3 345.3 626.5 346.1 625.8 346.8 626.4 347.6 626.6 348.3 626.7 349.1 626.6 349.8 626.1 350.6 626.8 351.3 626.3 352.1 626.1 352.8 624.9 353.6 625.1 354.3 625.4 355.1 626.4 355.8 625.0 356.6 626.6 357.3 626.6 358.1 626.4 358.8 626.5 359.6 626.5 360.3 626.8 361.1 625.1 361.8 626.7 362.6 626.3 363.3 626.7 364.1 626.5 364.8 626.1 365.6 626.2 366.3 625.9 367.1 626.0 367.8 624.4 368.6 624.6 369.3 625.1" fill="none" stroke="#5c9832" stroke-width="0.95" stroke-linejoin="round" opacity="0.90"/>
<path d="M369.3 625.1 370.1 624.8 370.8 623.4 371.6 625.8 372.3 625.7 373.1 626.1" fill="none" stroke="#5c9832" stroke-width="1.05" stroke-linejoin="round" opacity="1.00"/>
<path d="M373.1 626.1 373.8 626.2 374.6 625.8 375.3 626.1 376.1 626.6 376.8 626.8 377.6 625.6 378.3 626.4" fill="none" stroke="#5c9832" stroke-width="0.95" stroke-linejoin="round" opacity="0.90"/>
<text x="267.5" y="562.9" text-anchor="middle" font-size="4.4" fill="#444">VP5</text>
<rect x="128.3" y="675.6" width="250.0" height="3.6" fill="#fdfce8"/>
<line x1="128.3" y1="677.4" x2="378.3" y2="677.4" stroke="#dad6b2" stroke-width="1.1"/>
<line x1="129.3" y1="723.5" x2="132.2" y2="723.5" stroke="#aeaad4" stroke-width="1" opacity="0.23"/>
<line x1="135.4" y1="723.5" x2="140.3" y2="723.5" stroke="#aeaad4" stroke-width="1" opacity="0.47"/>
<line x1="142.0" y1="723.5" x2="146.4" y2="723.5" stroke="#aeaad4" stroke-width="1" opacity="0.40"/>
<line x1="149.7" y1="723.5" x2="151.0" y2="723.5" stroke="#aeaad4" stroke-width="1" opacity="0.37"/>
<line x1="152.5" y1="723.5" x2="157.2" y2="723.5" stroke="#aeaad4" stroke-width="1" opacity="0.13"/>
<line x1="159.8" y1="723.5" x2="162.2" y2="723.5" stroke="#aeaad4" stroke-width="1" opacity="0.19"/>
<line x1="163.9" y1="723.5" x2="165.8" y2="723.5" stroke="#aeaad4" stroke-width="1" opacity="0.26"/>
<line x1="168.0" y1="723.5" x2="170.1" y2="723.5" stroke="#aeaad4" stroke-width="1" opacity="0.48"/>
<line x1="172.0" y1="723.5" x2="175.4" y2="723.5" stroke="#aeaad4" stroke-width="1" opacity="0.47"/>
<line x1="178.2" y1="723.5" x2="179.3" y2="723.5" stroke="#aeaad4" stroke-width="1" opacity="0.16"/>
<line x1="182.5" y1="723.5" x2="184.3" y2="723.5" stroke="#aeaad4" stroke-width="1" opacity="0.41"/>
<line x1="187.1" y1="723.5" x2="190.6" y2="723.5" stroke="#aeaad4" stroke-width="1" opacity="0.39"/>
<line x1="192.7" y1="723.5" x2="195.4" y2="723.5" stroke="#aeaad4" stroke-width="1" opacity="0.20"/>
<line x1="196.7" y1="723.5" x2="198.1" y2="723.5" stroke="#aeaad4" stroke-width="1" opacity="0.48"/>
<line x1="199.0" y1="723.5" x2="203.8" y2="723.5" stroke="#aeaad4" stroke-width="1" opacity="0.28"/>
<line x1="205.6" y1="723.5" x2="207.7" y2="723.5" stroke="#aeaad4" stroke-width="1" opacity="0.31"/>
<line x1="210.6" y1="723.5" x2="212.3" y2="723.5" stroke="#aeaad4" stroke-width="1" opacity="0.47"/>
<line x1="215.5" y1="723.5" x2="216.7" y2="723.5" stroke="#aeaad4" stroke-width="1" opacity="0.20"/>
<line x1="218.7" y1="723.5" x2="222.3" y2="723.5" stroke="#aeaad4" stroke-width="1" opacity="0.23"/>
<line x1="224.0" y1="723.5" x2="226.2" y2="723.5" stroke="#aeaad4" stroke-width="1" opacity="0.31"/>
<line x1="228.7" y1="723.5" x2="231.6" y2="723.5" stroke="#aeaad4" stroke-width="1" opacity="0.30"/>
<line x1="234.3" y1="723.5" x2="239.0" y2="723.5" stroke="#aeaad4" stroke-width="1" opacity="0.42"/>
<line x1="241.0" y1="723.5" x2="245.8" y2="723.5" stroke="#aeaad4" stroke-width="1" opacity="0.34"/>
<line x1="248.2" y1="723.5" x2="252.4" y2="723.5" stroke="#aeaad4" stroke-width="1" opacity="0.19"/>
<line x1="255.1" y1="723.5" x2="257.8" y2="723.5" stroke="#aeaad4" stroke-width="1" opacity="0.13"/>
<line x1="259.0" y1="723.5" x2="262.8" y2="723.5" stroke="#aeaad4" stroke-width="1" opacity="0.22"/>
<line x1="264.4" y1="723.5" x2="265.5" y2="723.5" stroke="#aeaad4" stroke-width="1" opacity="0.38"/>
<line x1="266.4" y1="723.5" x2="268.8" y2="723.5" stroke="#aeaad4" stroke-width="1" opacity="0.38"/>
<line x1="270.8" y1="723.5" x2="275.4" y2="723.5" stroke="#aeaad4" stroke-width="1" opacity="0.20"/>
<line x1="278.1" y1="723.5" x2="283.1" y2="723.5" stroke="#aeaad4" stroke-width="1" opacity="0.34"/>
<line x1="284.4" y1="723.5" x2="288.0" y2="723.5" stroke="#aeaad4" stroke-width="1" opacity="0.46"/>
<line x1="289.5" y1="723.5" x2="293.0" y2="723.5" stroke="#aeaad4" stroke-width="1" opacity="0.17"/>
<line x1="295.7" y1="723.5" x2="300.0" y2="723.5" stroke="#aeaad4" stroke-width="1" opacity="0.35"/>
<line x1="301.6" y1="723.5" x2="305.6" y2="723.5" stroke="#aeaad4" stroke-width="1" opacity="0.22"/>
<line x1="307.2" y1="723.5" x2="309.5" y2="723.5" stroke="#aeaad4" stroke-width="1" opacity="0.37"/>
<line x1="313.0" y1="723.5" x2="315.9" y2="723.5" stroke="#aeaad4" stroke-width="1" opacity="0.37"/>
<line x1="318.2" y1="723.5" x2="320.2" y2="723.5" stroke="#aeaad4" stroke-width="1" opacity="0.16"/>
<line x1="321.2" y1="723.5" x2="324.6" y2="723.5" stroke="#aeaad4" stroke-width="1" opacity="0.49"/>
<line x1="327.0" y1="723.5" x2="330.5" y2="723.5" stroke="#aeaad4" stroke-width="1" opacity="0.49"/>
<line x1="333.6" y1="723.5" x2="336.6" y2="723.5" stroke="#aeaad4" stroke-width="1" opacity="0.30"/>
<line x1="338.5" y1="723.5" x2="341.0" y2="723.5" stroke="#aeaad4" stroke-width="1" opacity="0.34"/>
<line x1="343.8" y1="723.5" x2="345.3" y2="723.5" stroke="#aeaad4" stroke-width="1" opacity="0.32"/>
<line x1="348.7" y1="723.5" x2="352.7" y2="723.5" stroke="#aeaad4" stroke-width="1" opacity="0.34"/>
<line x1="355.0" y1="723.5" x2="358.3" y2="723.5" stroke="#aeaad4" stroke-width="1" opacity="0.17"/>
<line x1="359.4" y1="723.5" x2="363.3" y2="723.5" stroke="#aeaad4" stroke-width="1" opacity="0.17"/>
<line x1="365.1" y1="723.5" x2="369.3" y2="723.5" stroke="#aeaad4" stroke-width="1" opacity="0.41"/>
<line x1="372.1" y1="723.5" x2="374.7" y2="723.5" stroke="#aeaad4" stroke-width="1" opacity="0.41"/>
<line x1="375.8" y1="723.5" x2="377.7" y2="723.5" stroke="#aeaad4" stroke-width="1" opacity="0.38"/>
<line x1="129.3" y1="768.3" x2="131.4" y2="768.3" stroke="#aeaad4" stroke-width="1" opacity="0.34"/>
<line x1="132.2" y1="768.3" x2="136.4" y2="768.3" stroke="#aeaad4" stroke-width="1" opacity="0.49"/>
<line x1="138.7" y1="768.3" x2="140.7" y2="768.3" stroke="#aeaad4" stroke-width="1" opacity="0.29"/>
<line x1="143.4" y1="768.3" x2="146.8" y2="768.3" stroke="#aeaad4" stroke-width="1" opacity="0.21"/>
<line x1="148.4" y1="768.3" x2="151.6" y2="768.3" stroke="#aeaad4" stroke-width="1" opacity="0.47"/>
<line x1="154.0" y1="768.3" x2="157.4" y2="768.3" stroke="#aeaad4" stroke-width="1" opacity="0.37"/>
<line x1="159.6" y1="768.3" x2="163.1" y2="768.3" stroke="#aeaad4" stroke-width="1" opacity="0.22"/>
<line x1="165.0" y1="768.3" x2="168.7" y2="768.3" stroke="#aeaad4" stroke-width="1" opacity="0.13"/>
<line x1="170.6" y1="768.3" x2="172.2" y2="768.3" stroke="#aeaad4" stroke-width="1" opacity="0.38"/>
<line x1="174.0" y1="768.3" x2="177.6" y2="768.3" stroke="#aeaad4" stroke-width="1" opacity="0.43"/>
<line x1="179.8" y1="768.3" x2="182.1" y2="768.3" stroke="#aeaad4" stroke-width="1" opacity="0.41"/>
<line x1="183.8" y1="768.3" x2="187.5" y2="768.3" stroke="#aeaad4" stroke-width="1" opacity="0.46"/>
<line x1="189.5" y1="768.3" x2="190.6" y2="768.3" stroke="#aeaad4" stroke-width="1" opacity="0.45"/>
<line x1="192.8" y1="768.3" x2="197.3" y2="768.3" stroke="#aeaad4" stroke-width="1" opacity="0.43"/>
<line x1="198.7" y1="768.3" x2="201.8" y2="768.3" stroke="#aeaad4" stroke-width="1" opacity="0.24"/>
<line x1="205.1" y1="768.3" x2="208.8" y2="768.3" stroke="#aeaad4" stroke-width="1" opacity="0.50"/>
<line x1="211.3" y1="768.3" x2="213.7" y2="768.3" stroke="#aeaad4" stroke-width="1" opacity="0.17"/>
<line x1="215.5" y1="768.3" x2="219.3" y2="768.3" stroke="#aeaad4" stroke-width="1" opacity="0.44"/>
<line x1="220.3" y1="768.3" x2="221.8" y2="768.3" stroke="#aeaad4" stroke-width="1" opacity="0.48"/>
<line x1="223.2" y1="768.3" x2="226.1" y2="768.3" stroke="#aeaad4" stroke-width="1" opacity="0.25"/>
<line x1="229.0" y1="768.3" x2="231.0" y2="768.3" stroke="#aeaad4" stroke-width="1" opacity="0.49"/>
<line x1="232.7" y1="768.3" x2="234.5" y2="768.3" stroke="#aeaad4" stroke-width="1" opacity="0.46"/>
<line x1="237.8" y1="768.3" x2="241.5" y2="768.3" stroke="#aeaad4" stroke-width="1" opacity="0.40"/>
<line x1="243.0" y1="768.3" x2="247.6" y2="768.3" stroke="#aeaad4" stroke-width="1" opacity="0.20"/>
<line x1="250.0" y1="768.3" x2="253.5" y2="768.3" stroke="#aeaad4" stroke-width="1" opacity="0.34"/>
<line x1="256.8" y1="768.3" x2="258.4" y2="768.3" stroke="#aeaad4" stroke-width="1" opacity="0.36"/>
<line x1="259.8" y1="768.3" x2="261.0" y2="768.3" stroke="#aeaad4" stroke-width="1" opacity="0.26"/>
<line x1="261.8" y1="768.3" x2="263.8" y2="768.3" stroke="#aeaad4" stroke-width="1" opacity="0.15"/>
<line x1="265.9" y1="768.3" x2="269.2" y2="768.3" stroke="#aeaad4" stroke-width="1" opacity="0.24"/>
<line x1="271.8" y1="768.3" x2="275.1" y2="768.3" stroke="#aeaad4" stroke-width="1" opacity="0.42"/>
<line x1="277.4" y1="768.3" x2="280.7" y2="768.3" stroke="#aeaad4" stroke-width="1" opacity="0.33"/>
<line x1="283.2" y1="768.3" x2="287.5" y2="768.3" stroke="#aeaad4" stroke-width="1" opacity="0.16"/>
<line x1="288.5" y1="768.3" x2="293.0" y2="768.3" stroke="#aeaad4" stroke-width="1" opacity="0.12"/>
<line x1="296.0" y1="768.3" x2="300.6" y2="768.3" stroke="#aeaad4" stroke-width="1" opacity="0.45"/>
<line x1="303.1" y1="768.3" x2="306.9" y2="768.3" stroke="#aeaad4" stroke-width="1" opacity="0.16"/>
<line x1="308.7" y1="768.3" x2="312.7" y2="768.3" stroke="#aeaad4" stroke-width="1" opacity="0.30"/>
<line x1="315.5" y1="768.3" x2="317.6" y2="768.3" stroke="#aeaad4" stroke-width="1" opacity="0.48"/>
<line x1="319.3" y1="768.3" x2="322.2" y2="768.3" stroke="#aeaad4" stroke-width="1" opacity="0.49"/>
<line x1="323.6" y1="768.3" x2="328.5" y2="768.3" stroke="#aeaad4" stroke-width="1" opacity="0.19"/>
<line x1="329.7" y1="768.3" x2="333.7" y2="768.3" stroke="#aeaad4" stroke-width="1" opacity="0.30"/>
<line x1="335.5" y1="768.3" x2="339.2" y2="768.3" stroke="#aeaad4" stroke-width="1" opacity="0.35"/>
<line x1="340.8" y1="768.3" x2="342.6" y2="768.3" stroke="#aeaad4" stroke-width="1" opacity="0.33"/>
<line x1="344.0" y1="768.3" x2="346.7" y2="768.3" stroke="#aeaad4" stroke-width="1" opacity="0.17"/>
<line x1="349.9" y1="768.3" x2="354.6" y2="768.3" stroke="#aeaad4" stroke-width="1" opacity="0.25"/>
<line x1="356.1" y1="768.3" x2="357.5" y2="768.3" stroke="#aeaad4" stroke-width="1" opacity="0.49"/>
<line x1="359.2" y1="768.3" x2="361.6" y2="768.3" stroke="#aeaad4" stroke-width="1" opacity="0.49"/>
<line x1="364.7" y1="768.3" x2="368.5" y2="768.3" stroke="#aeaad4" stroke-width="1" opacity="0.28"/>
<line x1="369.8" y1="768.3" x2="371.4" y2="768.3" stroke="#aeaad4" stroke-width="1" opacity="0.25"/>
<line x1="372.9" y1="768.3" x2="374.6" y2="768.3" stroke="#aeaad4" stroke-width="1" opacity="0.32"/>
<line x1="377.2" y1="768.3" x2="378.3" y2="768.3" stroke="#aeaad4" stroke-width="1" opacity="0.17"/>
<path d="M169.4 696.5 A59.3 28.1 0 0 0 288.0 696.5" fill="none" stroke="#35a0b4" stroke-width="0.94" opacity="0.77"/>
<path d="M187.0 696.5 A50.5 25.4 0 0 0 288.0 696.5" fill="none" stroke="#35a0b4" stroke-width="0.94" opacity="0.77"/>
<path d="M261.0 696.5 A13.5 9.2 0 0 0 288.0 696.5" fill="none" stroke="#35a0b4" stroke-width="0.83" opacity="0.65"/>
<path d="M270.0 696.5 A9.0 7.5 0 0 0 288.0 696.5" fill="none" stroke="#35a0b4" stroke-width="0.77" opacity="0.59"/>
<path d="M289.0 696.5 A5.5 7.5 0 0 0 300.0 696.5" fill="none" stroke="#35a0b4" stroke-width="0.77" opacity="0.59"/>
<path d="M289.0 696.5 A21.5 14.0 0 0 0 332.0 696.5" fill="none" stroke="#35a0b4" stroke-width="1.10" opacity="0.95"/>
<path d="M289.0 696.5 A23.0 14.3 0 0 0 335.0 696.5" fill="none" stroke="#35a0b4" stroke-width="1.10" opacity="0.95"/>
<path d="M289.0 696.5 A24.0 14.3 0 0 0 337.0 696.5" fill="none" stroke="#35a0b4" stroke-width="1.05" opacity="0.89"/>
<path d="M289.0 696.5 A25.2 14.0 0 0 0 339.3 696.5" fill="none" stroke="#35a0b4" stroke-width="1.05" opacity="0.89"/>
<path d="M174.8 743.3 A56.6 24.4 0 0 0 288.0 743.3" fill="none" stroke="#2a8b66" stroke-width="0.99" opacity="0.83"/>
<path d="M183.0 743.3 A52.5 22.2 0 0 0 288.0 743.3" fill="none" stroke="#2a8b66" stroke-width="1.05" opacity="0.89"/>
<path d="M185.6 743.3 A51.2 21.7 0 0 0 288.0 743.3" fill="none" stroke="#2a8b66" stroke-width="0.99" opacity="0.83"/>
<path d="M196.4 743.3 A45.8 16.7 0 0 0 288.0 743.3" fill="none" stroke="#2a8b66" stroke-width="0.77" opacity="0.59"/>
<path d="M270.5 743.3 A8.8 6.7 0 0 0 288.0 743.3" fill="none" stroke="#2a8b66" stroke-width="0.83" opacity="0.65"/>
<path d="M289.0 743.3 A8.9 11.7 0 0 0 306.9 743.3" fill="none" stroke="#2a8b66" stroke-width="0.83" opacity="0.65"/>
<path d="M289.0 743.3 A21.5 16.4 0 0 0 332.0 743.3" fill="none" stroke="#2a8b66" stroke-width="1.05" opacity="0.89"/>
<path d="M289.0 743.3 A24.5 16.7 0 0 0 338.0 743.3" fill="none" stroke="#2a8b66" stroke-width="1.05" opacity="0.89"/>
<path d="M289.0 743.3 A28.0 16.4 0 0 0 345.0 743.3" fill="none" stroke="#2a8b66" stroke-width="0.99" opacity="0.83"/>
<path d="M289.0 743.3 A33.5 18.7 0 0 0 356.0 743.3" fill="none" stroke="#2a8b66" stroke-width="0.77" opacity="0.59"/>
<path d="M129.3 695.2 130.1 695.8 130.8 695.7 131.6 694.7 132.3 695.9 133.1 694.7 133.8 695.2 134.6 695.3 135.3 696.3 136.1 696.1 136.8 696.0 137.6 696.3 138.3 696.1 139.1 696.1 139.8 695.4 140.6 695.3 141.3 695.1 142.1 695.5 142.8 695.3 143.6 696.2 144.3 696.1 145.1 696.2 145.8 696.3 146.6 694.9 147.3 694.8 148.1 695.1 148.8 696.4 149.6 695.5 150.3 695.9 151.1 695.4 151.8 696.0 152.6 694.2 153.3 695.4 154.1 695.5 154.8 696.3 155.6 696.4 156.3 695.7 157.1 695.3 157.8 695.7 158.6 694.5 159.3 696.0 160.1 696.3 160.8 695.7 161.6 696.4 162.3 695.5 163.1 696.2 163.8 694.5 164.6 695.4 165.3 695.8 166.1 695.5 166.8 696.3 167.6 695.7 168.3 695.3 169.1 695.6 169.8 695.8 170.6 695.0 171.3 693.9 172.1 694.6 172.8 694.7 173.6 695.0 174.3 696.1 175.1 695.9 175.8 695.6 176.6 695.4 177.3 695.7 178.1 696.0 178.8 696.1 179.6 696.2 180.3 696.2 181.1 695.5 181.8 695.6 182.6 695.0 183.3 695.7 184.1 694.4 184.8 694.0 185.6 694.6" fill="none" stroke="#3f8fc8" stroke-width="0.95" stroke-linejoin="round" opacity="0.50"/>
<path d="M185.6 694.6 186.3 693.7 187.1 694.8 187.8 696.0 188.6 694.4 189.3 696.4" fill="none" stroke="#3f8fc8" stroke-width="1.05" stroke-linejoin="round" opacity="0.55"/>
<path d="M189.3 696.4 190.1 695.9 190.8 694.4 191.6 695.5 192.3 695.8 193.1 695.2 193.8 695.5 194.6 695.9 195.3 694.4 196.1 696.0 196.8 696.3 197.6 696.0 198.3 694.5 199.1 695.2 199.8 695.0 200.6 696.2 201.3 695.0 202.1 695.0 202.8 695.3 203.6 696.1 204.3 694.8 205.1 695.9 205.8 696.1 206.6 696.0 207.3 696.0 208.1 694.1" fill="none" stroke="#3f8fc8" stroke-width="0.95" stroke-linejoin="round" opacity="0.50"/>
<path d="M208.1 694.1 208.8 693.4 209.6 693.4 210.3 695.1 211.1 695.5 211.8 694.4" fill="none" stroke="#3f8fc8" stroke-width="1.05" stroke-linejoin="round" opacity="0.55"/>
<path d="M211.8 694.4 212.6 694.5 213.3 696.0 214.1 696.2 214.8 695.0 215.6 696.4 216.3 695.2 217.1 696.1 217.8 695.6 218.6 696.3 219.3 694.0 220.1 695.6 220.8 695.4 221.6 695.4 222.3 695.6 223.1 695.6 223.8 694.3 224.6 696.2 225.3 696.1 226.1 695.7 226.8 696.2 227.6 696.2 228.3 694.3 229.1 694.1 229.8 695.9 230.6 695.3 231.3 696.3 232.1 695.4 232.8 694.7 233.6 695.8 234.3 695.5 235.1 695.6 235.8 696.0 236.6 694.6 237.3 696.3 238.1 694.9" fill="none" stroke="#3f8fc8" stroke-width="0.95" stroke-linejoin="round" opacity="0.50"/>
<path d="M238.1 694.9 238.8 695.6 239.6 693.1 240.3 694.3 241.1 695.1 241.8 695.6" fill="none" stroke="#3f8fc8" stroke-width="1.05" stroke-linejoin="round" opacity="0.55"/>
<path d="M241.8 695.6 242.6 696.0 243.3 695.7 244.1 694.5 244.8 694.2 245.6 694.9" fill="none" stroke="#3f8fc8" stroke-width="0.95" stroke-linejoin="round" opacity="0.50"/>
<path d="M245.6 694.9 246.3 695.4 247.1 694.8 247.8 694.3 248.6 695.6 249.3 693.8 250.1 696.0 250.8 695.3 251.6 696.0 252.3 695.3 253.1 695.5" fill="none" stroke="#3f8fc8" stroke-width="1.05" stroke-linejoin="round" opacity="0.55"/>
<path d="M253.1 695.5 253.8 696.3 254.6 696.1 255.3 695.5 256.1 695.9 256.8 696.3 257.6 695.6 258.3 695.6 259.1 696.1 259.8 694.3 260.6 695.2" fill="none" stroke="#3f8fc8" stroke-width="0.95" stroke-linejoin="round" opacity="0.50"/>
<path d="M260.6 695.2 261.3 692.6 262.1 696.3 262.8 695.6 263.6 696.1 264.3 693.8 265.1 691.8 265.8 694.3 266.6 694.9 267.3 695.1 268.1 691.8 268.8 693.1 269.6 691.5 270.3 693.7 271.1 692.1 271.8 695.2 272.6 692.9 273.3 692.8 274.1 691.8 274.8 690.3 275.6 691.3 276.3 689.4 277.1 692.8 277.8 691.3 278.6 693.0 279.3 694.2 280.1 694.4 280.8 691.4 281.6 690.4 282.3 691.1 283.1 693.2 283.8 693.1 284.6 693.5 285.3 689.1 286.1 686.6 286.8 692.1 287.6 687.2 288.3 688.6 289.1 688.0 289.8 688.6 290.6 689.4 291.3 690.7 292.1 689.0 292.8 690.0 293.6 692.3 294.3 689.5 295.1 690.0 295.8 691.8 296.6 692.7 297.3 691.3 298.1 691.6 298.8 690.3 299.6 691.5 300.3 694.7 301.1 692.2 301.8 692.9 302.6 692.7 303.3 693.7 304.1 695.0 304.8 694.6 305.6 693.8 306.3 693.4 307.1 694.1 307.8 694.9 308.6 692.6 309.3 693.6 310.1 695.5 310.8 691.3 311.6 695.3 312.3 695.6 313.1 693.5 313.8 696.0 314.6 696.1 315.3 694.8 316.1 691.6 316.8 693.3 317.6 694.1 318.3 694.8 319.1 694.2 319.8 695.8 320.6 695.3" fill="none" stroke="#3f8fc8" stroke-width="1.05" stroke-linejoin="round" opacity="0.55"/>
<path d="M320.6 695.3 321.3 694.8 322.1 695.3 322.8 694.7 323.6 695.0 324.3 696.2 325.1 695.5 325.8 694.2 326.6 695.2 327.3 696.0 328.1 694.2" fill="none" stroke="#3f8fc8" stroke-width="0.95" stroke-linejoin="round" opacity="0.50"/>
<path d="M328.1 694.2 328.8 693.4 329.6 694.4 330.3 694.1 331.1 690.9 331.8 691.5 332.6 693.3 333.3 694.0 334.1 691.6 334.8 694.5 335.6 689.7 336.3 692.6 337.1 694.8 337.8 694.5 338.6 694.0 339.3 693.6 340.1 694.2 340.8 693.7 341.6 694.7 342.3 693.1 343.1 696.2 343.8 696.2 344.6 695.5 345.3 693.8 346.1 693.6 346.8 696.4" fill="none" stroke="#3f8fc8" stroke-width="1.05" stroke-linejoin="round" opacity="0.55"/>
<path d="M346.8 696.4 347.6 695.2 348.3 695.9 349.1 694.8 349.8 696.3 350.6 695.9 351.3 694.9 352.1 695.8 352.8 695.9 353.6 696.1 354.3 695.7 355.1 696.2 355.8 696.3 356.6 696.3 357.3 695.7 358.1 696.3 358.8 696.4 359.6 696.2 360.3 694.3 361.1 695.4 361.8 695.8" fill="none" stroke="#3f8fc8" stroke-width="0.95" stroke-linejoin="round" opacity="0.50"/>
<path d="M361.8 695.8 362.6 695.4 363.3 694.6 364.1 693.8 364.8 694.7 365.6 693.7 366.3 694.6 367.1 695.8 367.8 695.6 368.6 694.8 369.3 694.8" fill="none" stroke="#3f8fc8" stroke-width="1.05" stroke-linejoin="round" opacity="0.55"/>
<path d="M369.3 694.8 370.1 695.2 370.8 695.2 371.6 696.0 372.3 695.7 373.1 695.8 373.8 696.1 374.6 695.1 375.3 695.6 376.1 695.0 376.8 695.9" fill="none" stroke="#3f8fc8" stroke-width="0.95" stroke-linejoin="round" opacity="0.50"/>
<path d="M376.8 695.9 377.6 693.8 378.3 696.1" fill="none" stroke="#3f8fc8" stroke-width="1.05" stroke-linejoin="round" opacity="0.55"/>
<path d="M129.3 742.4 130.1 742.8 130.8 742.6 131.6 742.8 132.3 743.0 133.1 743.0 133.8 742.0 134.6 741.9 135.3 743.0 136.1 742.8 136.8 742.0 137.6 743.1 138.3 742.8 139.1 742.9 139.8 742.0 140.6 742.8 141.3 742.7 142.1 742.9 142.8 742.8 143.6 742.4 144.3 740.8 145.1 743.1 145.8 742.8 146.6 742.9 147.3 742.4 148.1 742.9 148.8 742.7 149.6 742.0 150.3 742.6 151.1 741.7 151.8 742.3 152.6 743.0 153.3 742.7 154.1 742.9 154.8 743.0 155.6 742.0 156.3 743.0 157.1 741.5 157.8 742.4 158.6 742.8 159.3 743.0 160.1 742.3 160.8 743.1 161.6 742.6 162.3 742.6 163.1 742.2 163.8 742.4 164.6 742.7 165.3 743.1 166.1 743.0 166.8 742.9 167.6 743.0 168.3 741.8 169.1 742.4 169.8 741.9 170.6 742.4 171.3 742.7 172.1 742.2 172.8 741.5 173.6 741.7 174.3 742.4 175.1 742.6 175.8 742.2 176.6 742.7 177.3 742.7 178.1 742.4 178.8 742.2 179.6 742.3 180.3 741.9 181.1 743.1 181.8 741.2 182.6 742.8 183.3 742.9 184.1 743.1 184.8 742.1 185.6 742.7 186.3 742.5 187.1 743.1 187.8 742.0 188.6 742.7 189.3 742.1 190.1 742.1 190.8 741.6 191.6 741.3 192.3 742.4 193.1 741.8 193.8 742.7 194.6 743.1 195.3 743.2 196.1 742.7 196.8 741.8 197.6 743.1 198.3 743.0 199.1 742.7 199.8 742.0 200.6 742.7 201.3 742.7 202.1 741.8 202.8 742.9 203.6 741.6 204.3 741.4 205.1 742.0 205.8 742.4 206.6 743.1 207.3 742.2 208.1 742.6 208.8 741.9 209.6 741.4 210.3 741.7 211.1 742.0 211.8 741.7 212.6 741.8 213.3 743.0 214.1 742.4 214.8 742.8 215.6 742.2 216.3 742.1 217.1 742.3 217.8 742.3 218.6 741.6 219.3 742.6 220.1 743.1 220.8 743.0 221.6 741.7 222.3 743.1 223.1 742.8 223.8 742.6 224.6 743.1 225.3 742.5 226.1 741.5 226.8 742.7 227.6 742.8 228.3 741.4 229.1 742.8 229.8 743.1 230.6 743.1 231.3 742.5 232.1 742.1 232.8 742.1 233.6 741.9 234.3 742.4 235.1 741.4 235.8 741.9 236.6 742.7 237.3 741.7 238.1 743.2 238.8 742.6 239.6 742.3 240.3 742.3 241.1 743.1 241.8 742.8 242.6 742.7 243.3 741.3 244.1 742.8 244.8 743.1 245.6 743.0 246.3 741.5 247.1 742.5 247.8 742.6 248.6 742.0 249.3 742.4 250.1 741.9 250.8 740.8 251.6 740.9 252.3 741.9 253.1 742.6 253.8 742.2 254.6 742.9 255.3 742.2 256.1 742.8 256.8 742.5 257.6 741.4 258.3 743.0 259.1 741.7 259.8 742.8 260.6 742.7 261.3 741.4 262.1 742.1 262.8 741.8 263.6 742.2 264.3 740.8 265.1 741.2 265.8 743.2 266.6 741.6 267.3 740.8 268.1 742.1" fill="none" stroke="#5e9a36" stroke-width="0.95" stroke-linejoin="round" opacity="0.50"/>
<path d="M268.1 742.1 268.8 743.1 269.6 740.7 270.3 743.0 271.1 739.2 271.8 741.0 272.6 739.1 273.3 740.8 274.1 741.2 274.8 742.0 275.6 738.9 276.3 738.6 277.1 738.8 277.8 739.4 278.6 741.7 279.3 738.1 280.1 738.1 280.8 736.9 281.6 738.9 282.3 739.5 283.1 737.7 283.8 738.3 284.6 738.9 285.3 739.8 286.1 737.7 286.8 736.5 287.6 736.0 288.3 735.8 289.1 737.4 289.8 739.7 290.6 740.5 291.3 736.1 292.1 736.9 292.8 740.1 293.6 741.2 294.3 740.5 295.1 740.0 295.8 737.8 296.6 737.9 297.3 739.5 298.1 742.6 298.8 741.0 299.6 740.7 300.3 739.4 301.1 739.9 301.8 741.3 302.6 742.2 303.3 741.3 304.1 740.6 304.8 739.2 305.6 741.0 306.3 740.2 307.1 740.0 307.8 741.9 308.6 741.2 309.3 743.0" fill="none" stroke="#5e9a36" stroke-width="1.05" stroke-linejoin="round" opacity="0.55"/>
<path d="M309.3 743.0 310.1 742.8 310.8 740.9 311.6 741.3 312.3 741.9 313.1 742.1 313.8 742.4 314.6 742.9 315.3 741.2 316.1 743.0 316.8 741.5" fill="none" stroke="#5e9a36" stroke-width="0.95" stroke-linejoin="round" opacity="0.50"/>
<path d="M316.8 741.5 317.6 739.4 318.3 741.4 319.1 740.5 319.8 741.2 320.6 741.1" fill="none" stroke="#5e9a36" stroke-width="1.05" stroke-linejoin="round" opacity="0.55"/>
<path d="M320.6 741.1 321.3 741.8 322.1 741.1 322.8 742.7 323.6 742.6 324.3 742.6" fill="none" stroke="#5e9a36" stroke-width="0.95" stroke-linejoin="round" opacity="0.50"/>
<path d="M324.3 742.6 325.1 742.9 325.8 739.6 326.6 741.5 327.3 742.3 328.1 742.2 328.8 742.4 329.6 742.1 330.3 741.5 331.1 741.5 331.8 739.4 332.6 740.5 333.3 739.6 334.1 742.1 334.8 742.3 335.6 741.8 336.3 742.9 337.1 742.9 337.8 741.9 338.6 740.0 339.3 739.9 340.1 740.6 340.8 741.9 341.6 742.2 342.3 743.1 343.1 741.6" fill="none" stroke="#5e9a36" stroke-width="1.05" stroke-linejoin="round" opacity="0.55"/>
<path d="M343.1 741.6 343.8 743.2 344.6 742.5 345.3 742.7 346.1 741.7 346.8 741.6 347.6 743.0 348.3 742.8 349.1 742.4 349.8 741.9 350.6 741.5 351.3 741.8 352.1 741.7 352.8 742.7 353.6 742.7 354.3 742.9 355.1 742.3 355.8 743.1 356.6 741.9 357.3 742.9 358.1 742.8 358.8 742.0 359.6 742.8 360.3 742.0 361.1 742.8 361.8 742.8 362.6 743.1 363.3 741.8 364.1 743.2 364.8 741.5 365.6 742.6 366.3 742.6 367.1 743.0 367.8 742.7 368.6 741.9 369.3 742.5 370.1 741.4 370.8 741.9 371.6 741.5 372.3 741.3 373.1 742.0 373.8 742.5 374.6 742.7 375.3 742.7 376.1 742.9 376.8 742.2 377.6 742.7 378.3 742.5" fill="none" stroke="#5e9a36" stroke-width="0.95" stroke-linejoin="round" opacity="0.50"/>
<path d="M129.3 695.4 130.1 693.7 130.8 693.4 131.6 695.7 132.3 695.8 133.1 695.7 133.8 695.3 134.6 694.1 135.3 694.9 136.1 693.3 136.8 695.2" fill="none" stroke="#3389c8" stroke-width="1.05" stroke-linejoin="round" opacity="1.00"/>
<path d="M136.8 695.2 137.6 695.1 138.3 695.0 139.1 694.6 139.8 696.0 140.6 695.1 141.3 695.4 142.1 695.9 142.8 695.8 143.6 694.7 144.3 695.1 145.1 695.5 145.8 695.7 146.6 695.4 147.3 695.7 148.1 695.9 148.8 696.0 149.6 695.5 150.3 695.2 151.1 694.3 151.8 694.7 152.6 695.5 153.3 695.0 154.1 695.2 154.8 695.4 155.6 695.7 156.3 695.5 157.1 695.4 157.8 696.0 158.6 695.0 159.3 695.4 160.1 695.5 160.8 695.4 161.6 695.4 162.3 694.6 163.1 694.5 163.8 694.2 164.6 695.5 165.3 694.7 166.1 695.6 166.8 695.0" fill="none" stroke="#3389c8" stroke-width="0.95" stroke-linejoin="round" opacity="0.90"/>
<path d="M166.8 695.0 167.6 695.7 168.3 695.3 169.1 694.6 169.8 693.0 170.6 692.9 171.3 692.2 172.1 692.6 172.8 695.2 173.6 695.4 174.3 694.5" fill="none" stroke="#3389c8" stroke-width="1.05" stroke-linejoin="round" opacity="1.00"/>
<path d="M174.3 694.5 175.1 695.0 175.8 695.6 176.6 695.9 177.3 694.9 178.1 695.2 178.8 695.7 179.6 694.7 180.3 695.8 181.1 694.6 181.8 695.5" fill="none" stroke="#3389c8" stroke-width="0.95" stroke-linejoin="round" opacity="0.90"/>
<path d="M181.8 695.5 182.6 694.5 183.3 693.2 184.1 691.5 184.8 692.7 185.6 694.0" fill="none" stroke="#3389c8" stroke-width="1.05" stroke-linejoin="round" opacity="1.00"/>
<path d="M185.6 694.0 186.3 695.0 187.1 694.0 187.8 695.7 188.6 695.7 189.3 695.9 190.1 695.1 190.8 695.4 191.6 695.3 192.3 695.2 193.1 695.4 193.8 694.9 194.6 695.7 195.3 695.5 196.1 695.9 196.8 696.0 197.6 695.7 198.3 694.7 199.1 695.9 199.8 695.8 200.6 695.4 201.3 695.9 202.1 695.9 202.8 695.1 203.6 694.6 204.3 694.3" fill="none" stroke="#3389c8" stroke-width="0.95" stroke-linejoin="round" opacity="0.90"/>
<path d="M204.3 694.3 205.1 695.7 205.8 695.3 206.6 694.7 207.3 694.3 208.1 691.3 208.8 692.5 209.6 693.0 210.3 695.3 211.1 695.5 211.8 695.5" fill="none" stroke="#3389c8" stroke-width="1.05" stroke-linejoin="round" opacity="1.00"/>
<path d="M211.8 695.5 212.6 694.7 213.3 694.6 214.1 695.5 214.8 695.7 215.6 695.8 216.3 695.7 217.1 695.3 217.8 695.6 218.6 695.3 219.3 695.9 220.1 694.6 220.8 694.8 221.6 695.0 222.3 695.2 223.1 695.4 223.8 694.0 224.6 695.2 225.3 695.4 226.1 693.8 226.8 694.9 227.6 695.8 228.3 695.7 229.1 695.5 229.8 695.4 230.6 695.3" fill="none" stroke="#3389c8" stroke-width="0.95" stroke-linejoin="round" opacity="0.90"/>
<path d="M230.6 695.3 231.3 695.6 232.1 693.3 232.8 695.5 233.6 695.1 234.3 694.7" fill="none" stroke="#3389c8" stroke-width="1.05" stroke-linejoin="round" opacity="1.00"/>
<path d="M234.3 694.7 235.1 695.7 235.8 695.7 236.6 694.9 237.3 694.4 238.1 694.2" fill="none" stroke="#3389c8" stroke-width="0.95" stroke-linejoin="round" opacity="0.90"/>
<path d="M238.1 694.2 238.8 692.7 239.6 693.0 240.3 693.2 241.1 694.3 241.8 694.3" fill="none" stroke="#3389c8" stroke-width="1.05" stroke-linejoin="round" opacity="1.00"/>
<path d="M241.8 694.3 242.6 695.7 243.3 694.7 244.1 695.2 244.8 694.8 245.6 695.7 246.3 695.7 247.1 695.6 247.8 695.5 248.6 695.4 249.3 695.9 250.1 695.5 250.8 695.6 251.6 693.9 252.3 694.5 253.1 695.8 253.8 696.0 254.6 695.8 255.3 695.1 256.1 694.5 256.8 695.7" fill="none" stroke="#3389c8" stroke-width="0.95" stroke-linejoin="round" opacity="0.90"/>
<path d="M256.8 695.7 257.6 695.8 258.3 692.6 259.1 695.8 259.8 694.4 260.6 694.9 261.3 694.4 262.1 695.0 262.8 694.3 263.6 692.5 264.3 691.1 265.1 690.6 265.8 693.3 266.6 692.3 267.3 692.7 268.1 688.2 268.8 686.9 269.6 688.9 270.3 692.6 271.1 693.2 271.8 691.8 272.6 688.4 273.3 688.5 274.1 689.8 274.8 692.8 275.6 692.7 276.3 690.1 277.1 687.4 277.8 688.4 278.6 691.4 279.3 692.3 280.1 690.2 280.8 687.7 281.6 689.0 282.3 691.1 283.1 692.5 283.8 691.8 284.6 687.7 285.3 687.3 286.1 688.5 286.8 690.7 287.6 687.9 288.3 681.1 289.1 685.0 289.8 690.4 290.6 688.5 291.3 684.6 292.1 688.1 292.8 689.9 293.6 688.9 294.3 686.2 295.1 689.0 295.8 689.5 296.6 690.5 297.3 688.0 298.1 685.3 298.8 689.3 299.6 693.6 300.3 694.3 301.1 691.8 301.8 691.1 302.6 690.0 303.3 688.7 304.1 694.2 304.8 693.7 305.6 695.0" fill="none" stroke="#3389c8" stroke-width="1.05" stroke-linejoin="round" opacity="1.00"/>
<path d="M305.6 695.0 306.3 694.7 307.1 694.7 307.8 695.1 308.6 695.8 309.3 695.2 310.1 694.9 310.8 693.6 311.6 694.3 312.3 695.5 313.1 695.3" fill="none" stroke="#3389c8" stroke-width="0.95" stroke-linejoin="round" opacity="0.90"/>
<path d="M313.1 695.3 313.8 694.0 314.6 693.4 315.3 692.0 316.1 692.3 316.8 689.2 317.6 693.7 318.3 695.3 319.1 695.7 319.8 693.3 320.6 695.9 321.3 693.8 322.1 693.9 322.8 693.2 323.6 693.5 324.3 695.6 325.1 695.4 325.8 695.8 326.6 694.6 327.3 694.6 328.1 693.4 328.8 694.8 329.6 688.7 330.3 690.8 331.1 688.4 331.8 692.7 332.6 689.5 333.3 693.7 334.1 690.7 334.8 693.0 335.6 691.0 336.3 692.8 337.1 693.7 337.8 695.0 338.6 695.3 339.3 694.3 340.1 692.5 340.8 694.8 341.6 696.0 342.3 693.9 343.1 694.9 343.8 694.5 344.6 693.4 345.3 695.9 346.1 695.3 346.8 694.7 347.6 695.6 348.3 695.7 349.1 693.4 349.8 695.4 350.6 695.2 351.3 695.2 352.1 695.9 352.8 695.4 353.6 694.9 354.3 693.0 355.1 694.6 355.8 695.5 356.6 694.4 357.3 695.1 358.1 694.7" fill="none" stroke="#3389c8" stroke-width="1.05" stroke-linejoin="round" opacity="1.00"/>
<path d="M358.1 694.7 358.8 695.3 359.6 694.5 360.3 695.1 361.1 694.8 361.8 695.3" fill="none" stroke="#3389c8" stroke-width="0.95" stroke-linejoin="round" opacity="0.90"/>
<path d="M361.8 695.3 362.6 695.3 363.3 693.0 364.1 693.0 364.8 692.9 365.6 694.0" fill="none" stroke="#3389c8" stroke-width="1.05" stroke-linejoin="round" opacity="1.00"/>
<path d="M365.6 694.0 366.3 694.7 367.1 694.7 367.8 694.6 368.6 694.9 369.3 695.2 370.1 694.8 370.8 695.9 371.6 696.0 372.3 694.8 373.1 695.1 373.8 694.6 374.6 693.7 375.3 695.8 376.1 694.2 376.8 695.8 377.6 695.6 378.3 695.9" fill="none" stroke="#3389c8" stroke-width="0.95" stroke-linejoin="round" opacity="0.90"/>
<path d="M129.3 742.1 130.1 742.8 130.8 742.7 131.6 741.2 132.3 741.0 133.1 741.4 133.8 742.5 134.6 742.2 135.3 741.6 136.1 742.6 136.8 742.3 137.6 741.5 138.3 742.6 139.1 741.5 139.8 742.4 140.6 742.2 141.3 741.7 142.1 742.2 142.8 742.1 143.6 742.6 144.3 742.1 145.1 742.5 145.8 742.6 146.6 742.4 147.3 741.6 148.1 742.4 148.8 742.3 149.6 741.9 150.3 742.7 151.1 742.7 151.8 741.3 152.6 742.2 153.3 742.4 154.1 742.8 154.8 742.5 155.6 742.7 156.3 742.0 157.1 741.6 157.8 742.1 158.6 741.4 159.3 742.4 160.1 742.5 160.8 740.9 161.6 740.7 162.3 742.6 163.1 742.6 163.8 742.2 164.6 742.3 165.3 742.1 166.1 741.7 166.8 742.7 167.6 742.3 168.3 740.5 169.1 742.3 169.8 742.5 170.6 742.8 171.3 742.6 172.1 742.6 172.8 741.9 173.6 742.6 174.3 742.7 175.1 742.0 175.8 742.0 176.6 741.6 177.3 742.3 178.1 740.9 178.8 742.7 179.6 742.8 180.3 742.8 181.1 741.6 181.8 742.6 182.6 741.7 183.3 741.7 184.1 742.0 184.8 742.6 185.6 742.6 186.3 742.0 187.1 742.3 187.8 742.3 188.6 740.8 189.3 741.1" fill="none" stroke="#5c9832" stroke-width="0.95" stroke-linejoin="round" opacity="0.90"/>
<path d="M189.3 741.1 190.1 738.8 190.8 740.9 191.6 741.7 192.3 742.3 193.1 742.3" fill="none" stroke="#5c9832" stroke-width="1.05" stroke-linejoin="round" opacity="1.00"/>
<path d="M193.1 742.3 193.8 741.9 194.6 742.8 195.3 742.8 196.1 742.1 196.8 741.7 197.6 740.6 198.3 741.5 199.1 741.1 199.8 742.8 200.6 742.0 201.3 741.9 202.1 742.2 202.8 741.8 203.6 742.1 204.3 741.8 205.1 742.8 205.8 742.5 206.6 742.5 207.3 742.1 208.1 741.3" fill="none" stroke="#5c9832" stroke-width="0.95" stroke-linejoin="round" opacity="0.90"/>
<path d="M208.1 741.3 208.8 741.4 209.6 739.4 210.3 740.3 211.1 741.5 211.8 740.8" fill="none" stroke="#5c9832" stroke-width="1.05" stroke-linejoin="round" opacity="1.00"/>
<path d="M211.8 740.8 212.6 742.3 213.3 741.2 214.1 742.7 214.8 742.5 215.6 741.6 216.3 742.1 217.1 742.0 217.8 741.6 218.6 742.8 219.3 741.8 220.1 741.4 220.8 741.8 221.6 742.0 222.3 741.2 223.1 741.8 223.8 741.7 224.6 742.7 225.3 741.3 226.1 742.3 226.8 742.7 227.6 740.6 228.3 742.7 229.1 741.8 229.8 742.0 230.6 741.4 231.3 742.2 232.1 741.8 232.8 741.1 233.6 742.8 234.3 741.5 235.1 742.4 235.8 742.7 236.6 742.6 237.3 742.7 238.1 742.7 238.8 742.7 239.6 742.3 240.3 741.2 241.1 742.0 241.8 742.6 242.6 742.6 243.3 741.5 244.1 742.5 244.8 741.4 245.6 742.4" fill="none" stroke="#5c9832" stroke-width="0.95" stroke-linejoin="round" opacity="0.90"/>
<path d="M245.6 742.4 246.3 742.6 247.1 741.7 247.8 741.9 248.6 739.7 249.3 740.0 250.1 740.6 250.8 739.6 251.6 741.6 252.3 741.2 253.1 742.0" fill="none" stroke="#5c9832" stroke-width="1.05" stroke-linejoin="round" opacity="1.00"/>
<path d="M253.1 742.0 253.8 742.7 254.6 742.6 255.3 742.3 256.1 742.5 256.8 741.9 257.6 742.2 258.3 742.0 259.1 741.0 259.8 742.8 260.6 742.7 261.3 740.9 262.1 741.9 262.8 741.8 263.6 740.8 264.3 741.3" fill="none" stroke="#5c9832" stroke-width="0.95" stroke-linejoin="round" opacity="0.90"/>
<path d="M264.3 741.3 265.1 741.0 265.8 742.0 266.6 740.1 267.3 741.4 268.1 741.8 268.8 742.6 269.6 740.4 270.3 741.2 271.1 738.4 271.8 738.2 272.6 739.0 273.3 740.4 274.1 739.5 274.8 738.3 275.6 736.0 276.3 734.4 277.1 737.6 277.8 739.9 278.6 737.6 279.3 734.3 280.1 733.4 280.8 735.6 281.6 734.6 282.3 734.2 283.1 733.6 283.8 736.5 284.6 739.5 285.3 740.1 286.1 731.7 286.8 730.4 287.6 730.6 288.3 737.5 289.1 739.8 289.8 739.3 290.6 736.5 291.3 734.6 292.1 738.3 292.8 739.4 293.6 739.3 294.3 738.6 295.1 734.8 295.8 738.4 296.6 738.6 297.3 737.8 298.1 741.7 298.8 740.3 299.6 738.8 300.3 738.7 301.1 740.0 301.8 740.7 302.6 741.7 303.3 740.6 304.1 739.6 304.8 737.6 305.6 740.1 306.3 740.7 307.1 741.4 307.8 742.4 308.6 742.7 309.3 740.4" fill="none" stroke="#5c9832" stroke-width="1.05" stroke-linejoin="round" opacity="1.00"/>
<path d="M309.3 740.4 310.1 740.5 310.8 742.2 311.6 742.7 312.3 742.0 313.1 741.5" fill="none" stroke="#5c9832" stroke-width="0.95" stroke-linejoin="round" opacity="0.90"/>
<path d="M313.1 741.5 313.8 741.0 314.6 742.5 315.3 742.3 316.1 739.2 316.8 739.0 317.6 739.8 318.3 738.9 319.1 740.7 319.8 741.3 320.6 742.1 321.3 742.6 322.1 742.6 322.8 742.1 323.6 739.2 324.3 742.3" fill="none" stroke="#5c9832" stroke-width="1.05" stroke-linejoin="round" opacity="1.00"/>
<path d="M324.3 742.3 325.1 742.3 325.8 740.7 326.6 741.9 327.3 741.8 328.1 742.4" fill="none" stroke="#5c9832" stroke-width="0.95" stroke-linejoin="round" opacity="0.90"/>
<path d="M328.1 742.4 328.8 741.9 329.6 742.5 330.3 741.3 331.1 739.8 331.8 738.6 332.6 738.3 333.3 739.5 334.1 740.3 334.8 741.6 335.6 742.3 336.3 741.8 337.1 742.5 337.8 742.2 338.6 742.6 339.3 740.1 340.1 741.9 340.8 742.5 341.6 742.0 342.3 742.5 343.1 739.1 343.8 739.6 344.6 740.7 345.3 741.2 346.1 742.2 346.8 742.0 347.6 741.9 348.3 741.4 349.1 740.2 349.8 740.3 350.6 739.5 351.3 740.8 352.1 741.9 352.8 741.9 353.6 742.1 354.3 742.3" fill="none" stroke="#5c9832" stroke-width="1.05" stroke-linejoin="round" opacity="1.00"/>
<path d="M354.3 742.3 355.1 740.6 355.8 742.8 356.6 742.5 357.3 742.0 358.1 741.0 358.8 741.8 359.6 742.2 360.3 742.2 361.1 742.5 361.8 742.4 362.6 742.3 363.3 741.2 364.1 742.1 364.8 741.0 365.6 741.9 366.3 741.5 367.1 742.0 367.8 740.8 368.6 741.9 369.3 740.7" fill="none" stroke="#5c9832" stroke-width="0.95" stroke-linejoin="round" opacity="0.90"/>
<path d="M369.3 740.7 370.1 739.3 370.8 739.8 371.6 741.5 372.3 740.8 373.1 742.5" fill="none" stroke="#5c9832" stroke-width="1.05" stroke-linejoin="round" opacity="1.00"/>
<path d="M373.1 742.5 373.8 742.3 374.6 741.4 375.3 741.1 376.1 742.4 376.8 741.8 377.6 742.7 378.3 742.2" fill="none" stroke="#5c9832" stroke-width="0.95" stroke-linejoin="round" opacity="0.90"/>
<text x="279.4" y="681.0" text-anchor="middle" font-size="4.4" fill="#444">VP6</text>
<rect x="229.8" y="35.6" width="58.9" height="739.8" fill="none" stroke="#3784ac" stroke-width="1.35"/>
<rect x="309.8" y="35.6" width="35.6" height="739.8" fill="none" stroke="#3784ac" stroke-width="1.35"/>
<line x1="244.6" y1="50" x2="244.6" y2="746" stroke="#d9464e" stroke-width="1.2" stroke-dasharray="3.1 2.1"/>
<line x1="316" y1="50" x2="316" y2="746" stroke="#d9464e" stroke-width="1.2" stroke-dasharray="3.1 2.1"/>
<line x1="328.8" y1="50" x2="328.8" y2="760" stroke="#d9464e" stroke-width="1.2" stroke-dasharray="3.1 2.1"/>
<text x="230" y="790.6" font-size="9" textLength="59.5" lengthAdjust="spacingAndGlyphs">46/1 haplotype</text>
<text x="302.2" y="790.6" font-size="9" textLength="55" lengthAdjust="spacingAndGlyphs"><tspan font-style="italic">PD-L1/2</tspan> locus</text>
<text x="122" y="105.30" text-anchor="end" font-size="9" textLength="71" lengthAdjust="spacingAndGlyphs">46/1 homozygous</text>
<text x="122" y="147.30" text-anchor="end" font-size="9" textLength="64" lengthAdjust="spacingAndGlyphs">46/1 nullizygous</text>
<text x="18.7" y="132.05" text-anchor="middle" font-size="9.2">VP2</text>
<text x="122" y="198.80" text-anchor="end" font-size="9" textLength="71" lengthAdjust="spacingAndGlyphs">46/1 homozygous</text>
<text x="122" y="240.30" text-anchor="end" font-size="9" textLength="64" lengthAdjust="spacingAndGlyphs">46/1 nullizygous</text>
<text x="18.7" y="223.80" text-anchor="middle" font-size="9.2">VP3</text>
<text x="122" y="290.80" text-anchor="end" font-size="9" textLength="71" lengthAdjust="spacingAndGlyphs">46/1 homozygous</text>
<text x="122" y="332.80" text-anchor="end" font-size="9" textLength="64" lengthAdjust="spacingAndGlyphs">46/1 nullizygous</text>
<text x="18.7" y="319.05" text-anchor="middle" font-size="9.2">VP4</text>
<text x="122" y="385.30" text-anchor="end" font-size="9" textLength="71" lengthAdjust="spacingAndGlyphs">46/1 homozygous</text>
<text x="122" y="427.30" text-anchor="end" font-size="9" textLength="64" lengthAdjust="spacingAndGlyphs">46/1 nullizygous</text>
<text x="18.7" y="411.55" text-anchor="middle" font-size="9.2">VP8</text>
<text x="122" y="481.30" text-anchor="end" font-size="9" textLength="71" lengthAdjust="spacingAndGlyphs">46/1 homozygous</text>
<text x="122" y="522.80" text-anchor="end" font-size="9" textLength="64" lengthAdjust="spacingAndGlyphs">46/1 nullizygous</text>
<text x="18.7" y="506.55" text-anchor="middle" font-size="9.2">VP10</text>
<text x="122" y="586.30" text-anchor="end" font-size="9" textLength="71" lengthAdjust="spacingAndGlyphs">46/1 homozygous</text>
<text x="122" y="628.30" text-anchor="end" font-size="9" textLength="64" lengthAdjust="spacingAndGlyphs">46/1 nullizygous</text>
<text x="18.7" y="614.05" text-anchor="middle" font-size="9.2">VP5</text>
<text x="122" y="700.30" text-anchor="end" font-size="9" textLength="71" lengthAdjust="spacingAndGlyphs">46/1 homozygous</text>
<text x="122" y="742.05" text-anchor="end" font-size="9" textLength="64" lengthAdjust="spacingAndGlyphs">46/1 nullizygous</text>
<text x="18.7" y="730.30" text-anchor="middle" font-size="9.2">VP6</text>
<rect x="437" y="87.30" width="16.00" height="73.20" fill="#c20326"/>
<line x1="444.0" y1="87.30" x2="446.0" y2="87.30" stroke="#222" stroke-width="0.6"/>
<rect x="454.5" y="151.80" width="15.50" height="8.70" fill="#c20326"/>
<line x1="461.25" y1="151.80" x2="463.25" y2="151.80" stroke="#222" stroke-width="0.6"/>
<rect x="476" y="91.90" width="16.00" height="68.60" fill="#31a7e0"/>
<line x1="483.0" y1="91.90" x2="485.0" y2="91.90" stroke="#222" stroke-width="0.6"/>
<rect x="493.7" y="111.80" width="15.50" height="48.70" fill="#31a7e0"/>
<line x1="500.45" y1="111.80" x2="502.45" y2="111.80" stroke="#222" stroke-width="0.6"/>
<circle cx="445.00" cy="140" r="0.8" fill="#6e0a1a"/>
<circle cx="462.25" cy="155" r="0.8" fill="#6e0a1a"/>
<circle cx="484.00" cy="96.25" r="0.8" fill="#1d4f78"/>
<circle cx="501.45" cy="123.75" r="0.8" fill="#1d4f78"/>
<line x1="435.6" y1="84.3" x2="435.6" y2="161.0" stroke="#111" stroke-width="1.0"/>
<line x1="432.6" y1="160.5" x2="511.6" y2="160.5" stroke="#111" stroke-width="1.3"/>
<line x1="432.0" y1="160.50" x2="435.6" y2="160.50" stroke="#111" stroke-width="1.0"/>
<line x1="433.6" y1="152.65" x2="435.6" y2="152.65" stroke="#111" stroke-width="0.8"/>
<line x1="432.0" y1="144.80" x2="435.6" y2="144.80" stroke="#111" stroke-width="1.0"/>
<line x1="433.6" y1="136.95" x2="435.6" y2="136.95" stroke="#111" stroke-width="0.8"/>
<line x1="432.0" y1="129.10" x2="435.6" y2="129.10" stroke="#111" stroke-width="1.0"/>
<line x1="433.6" y1="121.25" x2="435.6" y2="121.25" stroke="#111" stroke-width="0.8"/>
<line x1="432.0" y1="113.40" x2="435.6" y2="113.40" stroke="#111" stroke-width="1.0"/>
<line x1="433.6" y1="105.55" x2="435.6" y2="105.55" stroke="#111" stroke-width="0.8"/>
<line x1="432.0" y1="97.70" x2="435.6" y2="97.70" stroke="#111" stroke-width="1.0"/>
<line x1="433.6" y1="89.85" x2="435.6" y2="89.85" stroke="#111" stroke-width="0.8"/>
<text x="428.7" y="163.00" text-anchor="end" font-size="7.2" fill="#333" textLength="15" lengthAdjust="spacingAndGlyphs">0.00</text>
<text x="428.7" y="147.30" text-anchor="end" font-size="7.2" fill="#333" textLength="15" lengthAdjust="spacingAndGlyphs">0.01</text>
<text x="428.7" y="131.60" text-anchor="end" font-size="7.2" fill="#333" textLength="15" lengthAdjust="spacingAndGlyphs">0.02</text>
<text x="428.7" y="115.90" text-anchor="end" font-size="7.2" fill="#333" textLength="15" lengthAdjust="spacingAndGlyphs">0.03</text>
<text x="428.7" y="100.20" text-anchor="end" font-size="7.2" fill="#333" textLength="15" lengthAdjust="spacingAndGlyphs">0.04</text>
<line x1="445.00" y1="160.5" x2="445.00" y2="163.5" stroke="#111" stroke-width="0.9"/>
<line x1="462.25" y1="160.5" x2="462.25" y2="163.5" stroke="#111" stroke-width="0.9"/>
<line x1="484.00" y1="160.5" x2="484.00" y2="163.5" stroke="#111" stroke-width="0.9"/>
<line x1="501.45" y1="160.5" x2="501.45" y2="163.5" stroke="#111" stroke-width="0.9"/>
<text x="444.9" y="174.60" text-anchor="middle" font-size="7" fill="#333" textLength="16.2" lengthAdjust="spacingAndGlyphs">Hom</text>
<text x="462.6" y="174.60" text-anchor="middle" font-size="7" fill="#333" textLength="13" lengthAdjust="spacingAndGlyphs">Null</text>
<text x="484.5" y="174.60" text-anchor="middle" font-size="7" fill="#333" textLength="16.2" lengthAdjust="spacingAndGlyphs">Hom</text>
<text x="501.5" y="174.60" text-anchor="middle" font-size="7" fill="#333" textLength="13" lengthAdjust="spacingAndGlyphs">Null</text>
<text transform="translate(408.0 121.80) rotate(-90)" text-anchor="middle" font-size="10" fill="#333" textLength="81.5" lengthAdjust="spacingAndGlyphs">Normalized read counts</text>
<rect x="437" y="243.25" width="16.00" height="19.75" fill="#c20326"/>
<line x1="444.0" y1="243.25" x2="446.0" y2="243.25" stroke="#222" stroke-width="0.6"/>
<rect x="454.5" y="251.00" width="15.50" height="12.00" fill="#c20326"/>
<line x1="461.25" y1="251.00" x2="463.25" y2="251.00" stroke="#222" stroke-width="0.6"/>
<rect x="476" y="195.00" width="16.00" height="68.00" fill="#31a7e0"/>
<line x1="483.0" y1="195.00" x2="485.0" y2="195.00" stroke="#222" stroke-width="0.6"/>
<rect x="493.7" y="191.50" width="15.50" height="71.50" fill="#31a7e0"/>
<line x1="500.45" y1="191.50" x2="502.45" y2="191.50" stroke="#222" stroke-width="0.6"/>
<circle cx="484.00" cy="218.75" r="0.8" fill="#1d4f78"/>
<circle cx="501.45" cy="232.5" r="0.8" fill="#1d4f78"/>
<circle cx="445.00" cy="247" r="0.8" fill="#6e0a1a"/>
<circle cx="462.25" cy="255" r="0.8" fill="#6e0a1a"/>
<line x1="435.6" y1="188.75" x2="435.6" y2="263.5" stroke="#111" stroke-width="1.0"/>
<line x1="432.6" y1="263" x2="511.6" y2="263" stroke="#111" stroke-width="1.3"/>
<line x1="432.0" y1="263.00" x2="435.6" y2="263.00" stroke="#111" stroke-width="1.0"/>
<line x1="433.6" y1="254.28" x2="435.6" y2="254.28" stroke="#111" stroke-width="0.8"/>
<line x1="432.0" y1="245.56" x2="435.6" y2="245.56" stroke="#111" stroke-width="1.0"/>
<line x1="433.6" y1="236.84" x2="435.6" y2="236.84" stroke="#111" stroke-width="0.8"/>
<line x1="432.0" y1="228.12" x2="435.6" y2="228.12" stroke="#111" stroke-width="1.0"/>
<line x1="433.6" y1="219.41" x2="435.6" y2="219.41" stroke="#111" stroke-width="0.8"/>
<line x1="432.0" y1="210.69" x2="435.6" y2="210.69" stroke="#111" stroke-width="1.0"/>
<line x1="433.6" y1="201.97" x2="435.6" y2="201.97" stroke="#111" stroke-width="0.8"/>
<line x1="432.0" y1="193.25" x2="435.6" y2="193.25" stroke="#111" stroke-width="1.0"/>
<text x="428.7" y="265.50" text-anchor="end" font-size="7.2" fill="#333" textLength="15" lengthAdjust="spacingAndGlyphs">0.00</text>
<text x="428.7" y="248.06" text-anchor="end" font-size="7.2" fill="#333" textLength="15" lengthAdjust="spacingAndGlyphs">0.01</text>
<text x="428.7" y="230.62" text-anchor="end" font-size="7.2" fill="#333" textLength="15" lengthAdjust="spacingAndGlyphs">0.02</text>
<text x="428.7" y="213.19" text-anchor="end" font-size="7.2" fill="#333" textLength="15" lengthAdjust="spacingAndGlyphs">0.03</text>
<text x="428.7" y="195.75" text-anchor="end" font-size="7.2" fill="#333" textLength="15" lengthAdjust="spacingAndGlyphs">0.04</text>
<line x1="445.00" y1="263" x2="445.00" y2="266" stroke="#111" stroke-width="0.9"/>
<line x1="462.25" y1="263" x2="462.25" y2="266" stroke="#111" stroke-width="0.9"/>
<line x1="484.00" y1="263" x2="484.00" y2="266" stroke="#111" stroke-width="0.9"/>
<line x1="501.45" y1="263" x2="501.45" y2="266" stroke="#111" stroke-width="0.9"/>
<text x="444.9" y="275.90" text-anchor="middle" font-size="7" fill="#333" textLength="16.2" lengthAdjust="spacingAndGlyphs">Hom</text>
<text x="462.6" y="275.90" text-anchor="middle" font-size="7" fill="#333" textLength="13" lengthAdjust="spacingAndGlyphs">Null</text>
<text x="484.5" y="275.90" text-anchor="middle" font-size="7" fill="#333" textLength="16.2" lengthAdjust="spacingAndGlyphs">Hom</text>
<text x="501.5" y="275.90" text-anchor="middle" font-size="7" fill="#333" textLength="13" lengthAdjust="spacingAndGlyphs">Null</text>
<text transform="translate(408.0 225.28) rotate(-90)" text-anchor="middle" font-size="10" fill="#333" textLength="81.5" lengthAdjust="spacingAndGlyphs">Normalized read counts</text>
<rect x="437" y="350.50" width="16.00" height="13.75" fill="#c20326"/>
<line x1="444.0" y1="350.50" x2="446.0" y2="350.50" stroke="#222" stroke-width="0.6"/>
<rect x="454.5" y="340.00" width="15.50" height="24.25" fill="#c20326"/>
<line x1="461.25" y1="340.00" x2="463.25" y2="340.00" stroke="#222" stroke-width="0.6"/>
<rect x="476" y="340.75" width="16.00" height="23.50" fill="#31a7e0"/>
<line x1="483.0" y1="340.75" x2="485.0" y2="340.75" stroke="#222" stroke-width="0.6"/>
<rect x="493.7" y="292.50" width="15.50" height="71.75" fill="#31a7e0"/>
<line x1="500.45" y1="292.50" x2="502.45" y2="292.50" stroke="#222" stroke-width="0.6"/>
<circle cx="445.00" cy="355" r="0.8" fill="#6e0a1a"/>
<circle cx="462.25" cy="344.5" r="0.8" fill="#6e0a1a"/>
<circle cx="501.45" cy="336.25" r="0.8" fill="#1d4f78"/>
<circle cx="484.00" cy="343" r="0.8" fill="#1d4f78"/>
<line x1="435.6" y1="289.5" x2="435.6" y2="364.75" stroke="#111" stroke-width="1.0"/>
<line x1="432.6" y1="364.25" x2="511.6" y2="364.25" stroke="#111" stroke-width="1.3"/>
<line x1="432.0" y1="364.25" x2="435.6" y2="364.25" stroke="#111" stroke-width="1.0"/>
<line x1="433.6" y1="352.71" x2="435.6" y2="352.71" stroke="#111" stroke-width="0.8"/>
<line x1="432.0" y1="341.17" x2="435.6" y2="341.17" stroke="#111" stroke-width="1.0"/>
<line x1="433.6" y1="329.62" x2="435.6" y2="329.62" stroke="#111" stroke-width="0.8"/>
<line x1="432.0" y1="318.08" x2="435.6" y2="318.08" stroke="#111" stroke-width="1.0"/>
<line x1="433.6" y1="306.54" x2="435.6" y2="306.54" stroke="#111" stroke-width="0.8"/>
<line x1="432.0" y1="295.00" x2="435.6" y2="295.00" stroke="#111" stroke-width="1.0"/>
<text x="428.7" y="366.75" text-anchor="end" font-size="7.2" fill="#333" textLength="15" lengthAdjust="spacingAndGlyphs">0.00</text>
<text x="428.7" y="343.67" text-anchor="end" font-size="7.2" fill="#333" textLength="15" lengthAdjust="spacingAndGlyphs">0.02</text>
<text x="428.7" y="320.58" text-anchor="end" font-size="7.2" fill="#333" textLength="15" lengthAdjust="spacingAndGlyphs">0.04</text>
<text x="428.7" y="297.50" text-anchor="end" font-size="7.2" fill="#333" textLength="15" lengthAdjust="spacingAndGlyphs">0.06</text>
<line x1="445.00" y1="364.25" x2="445.00" y2="367.25" stroke="#111" stroke-width="0.9"/>
<line x1="462.25" y1="364.25" x2="462.25" y2="367.25" stroke="#111" stroke-width="0.9"/>
<line x1="484.00" y1="364.25" x2="484.00" y2="367.25" stroke="#111" stroke-width="0.9"/>
<line x1="501.45" y1="364.25" x2="501.45" y2="367.25" stroke="#111" stroke-width="0.9"/>
<text x="444.9" y="378.40" text-anchor="middle" font-size="7" fill="#333" textLength="16.2" lengthAdjust="spacingAndGlyphs">Hom</text>
<text x="462.6" y="378.40" text-anchor="middle" font-size="7" fill="#333" textLength="13" lengthAdjust="spacingAndGlyphs">Null</text>
<text x="484.5" y="378.40" text-anchor="middle" font-size="7" fill="#333" textLength="16.2" lengthAdjust="spacingAndGlyphs">Hom</text>
<text x="501.5" y="378.40" text-anchor="middle" font-size="7" fill="#333" textLength="13" lengthAdjust="spacingAndGlyphs">Null</text>
<text transform="translate(408.0 326.27) rotate(-90)" text-anchor="middle" font-size="10" fill="#333" textLength="81.5" lengthAdjust="spacingAndGlyphs">Normalized read counts</text>
<rect x="437" y="424.00" width="16.00" height="41.75" fill="#c20326"/>
<line x1="444.0" y1="424.00" x2="446.0" y2="424.00" stroke="#222" stroke-width="0.6"/>
<rect x="454.5" y="454.25" width="15.50" height="11.50" fill="#c20326"/>
<line x1="461.25" y1="454.25" x2="463.25" y2="454.25" stroke="#222" stroke-width="0.6"/>
<rect x="476" y="394.00" width="16.00" height="71.75" fill="#31a7e0"/>
<line x1="483.0" y1="394.00" x2="485.0" y2="394.00" stroke="#222" stroke-width="0.6"/>
<rect x="493.7" y="399.00" width="15.50" height="66.75" fill="#31a7e0"/>
<line x1="500.45" y1="399.00" x2="502.45" y2="399.00" stroke="#222" stroke-width="0.6"/>
<circle cx="445.00" cy="428.75" r="0.8" fill="#6e0a1a"/>
<circle cx="484.00" cy="433.75" r="0.8" fill="#1d4f78"/>
<circle cx="462.25" cy="461" r="0.8" fill="#6e0a1a"/>
<circle cx="501.45" cy="401" r="0.8" fill="#1d4f78"/>
<line x1="435.6" y1="391.25" x2="435.6" y2="466.25" stroke="#111" stroke-width="1.0"/>
<line x1="432.6" y1="465.75" x2="511.6" y2="465.75" stroke="#111" stroke-width="1.3"/>
<line x1="432.0" y1="465.75" x2="435.6" y2="465.75" stroke="#111" stroke-width="1.0"/>
<line x1="433.6" y1="454.67" x2="435.6" y2="454.67" stroke="#111" stroke-width="0.8"/>
<line x1="432.0" y1="443.58" x2="435.6" y2="443.58" stroke="#111" stroke-width="1.0"/>
<line x1="433.6" y1="432.50" x2="435.6" y2="432.50" stroke="#111" stroke-width="0.8"/>
<line x1="432.0" y1="421.42" x2="435.6" y2="421.42" stroke="#111" stroke-width="1.0"/>
<line x1="433.6" y1="410.33" x2="435.6" y2="410.33" stroke="#111" stroke-width="0.8"/>
<line x1="432.0" y1="399.25" x2="435.6" y2="399.25" stroke="#111" stroke-width="1.0"/>
<text x="428.7" y="468.25" text-anchor="end" font-size="7.2" fill="#333" textLength="15" lengthAdjust="spacingAndGlyphs">0.00</text>
<text x="428.7" y="446.08" text-anchor="end" font-size="7.2" fill="#333" textLength="15" lengthAdjust="spacingAndGlyphs">0.01</text>
<text x="428.7" y="423.92" text-anchor="end" font-size="7.2" fill="#333" textLength="15" lengthAdjust="spacingAndGlyphs">0.02</text>
<text x="428.7" y="401.75" text-anchor="end" font-size="7.2" fill="#333" textLength="15" lengthAdjust="spacingAndGlyphs">0.03</text>
<line x1="445.00" y1="465.75" x2="445.00" y2="468.75" stroke="#111" stroke-width="0.9"/>
<line x1="462.25" y1="465.75" x2="462.25" y2="468.75" stroke="#111" stroke-width="0.9"/>
<line x1="484.00" y1="465.75" x2="484.00" y2="468.75" stroke="#111" stroke-width="0.9"/>
<line x1="501.45" y1="465.75" x2="501.45" y2="468.75" stroke="#111" stroke-width="0.9"/>
<text x="444.9" y="479.40" text-anchor="middle" font-size="7" fill="#333" textLength="16.2" lengthAdjust="spacingAndGlyphs">Hom</text>
<text x="462.6" y="479.40" text-anchor="middle" font-size="7" fill="#333" textLength="13" lengthAdjust="spacingAndGlyphs">Null</text>
<text x="484.5" y="479.40" text-anchor="middle" font-size="7" fill="#333" textLength="16.2" lengthAdjust="spacingAndGlyphs">Hom</text>
<text x="501.5" y="479.40" text-anchor="middle" font-size="7" fill="#333" textLength="13" lengthAdjust="spacingAndGlyphs">Null</text>
<text transform="translate(408.0 427.90) rotate(-90)" text-anchor="middle" font-size="10" fill="#333" textLength="81.5" lengthAdjust="spacingAndGlyphs">Normalized read counts</text>
<rect x="437" y="545.50" width="16.00" height="21.75" fill="#c20326"/>
<line x1="444.0" y1="545.50" x2="446.0" y2="545.50" stroke="#222" stroke-width="0.6"/>
<rect x="454.5" y="540.25" width="15.50" height="27.00" fill="#c20326"/>
<line x1="461.25" y1="540.25" x2="463.25" y2="540.25" stroke="#222" stroke-width="0.6"/>
<rect x="476" y="495.25" width="16.00" height="72.00" fill="#31a7e0"/>
<line x1="483.0" y1="495.25" x2="485.0" y2="495.25" stroke="#222" stroke-width="0.6"/>
<rect x="493.7" y="511.00" width="15.50" height="56.25" fill="#31a7e0"/>
<line x1="500.45" y1="511.00" x2="502.45" y2="511.00" stroke="#222" stroke-width="0.6"/>
<circle cx="484.00" cy="508" r="0.8" fill="#1d4f78"/>
<circle cx="501.45" cy="533" r="0.8" fill="#1d4f78"/>
<circle cx="462.25" cy="550.5" r="0.8" fill="#6e0a1a"/>
<circle cx="445.00" cy="549" r="0.8" fill="#6e0a1a"/>
<line x1="435.6" y1="492" x2="435.6" y2="567.75" stroke="#111" stroke-width="1.0"/>
<line x1="432.6" y1="567.25" x2="511.6" y2="567.25" stroke="#111" stroke-width="1.3"/>
<line x1="432.0" y1="567.25" x2="435.6" y2="567.25" stroke="#111" stroke-width="1.0"/>
<line x1="433.6" y1="557.75" x2="435.6" y2="557.75" stroke="#111" stroke-width="0.8"/>
<line x1="432.0" y1="548.25" x2="435.6" y2="548.25" stroke="#111" stroke-width="1.0"/>
<line x1="433.6" y1="538.75" x2="435.6" y2="538.75" stroke="#111" stroke-width="0.8"/>
<line x1="432.0" y1="529.25" x2="435.6" y2="529.25" stroke="#111" stroke-width="1.0"/>
<line x1="433.6" y1="519.75" x2="435.6" y2="519.75" stroke="#111" stroke-width="0.8"/>
<line x1="432.0" y1="510.25" x2="435.6" y2="510.25" stroke="#111" stroke-width="1.0"/>
<line x1="433.6" y1="500.75" x2="435.6" y2="500.75" stroke="#111" stroke-width="0.8"/>
<text x="428.7" y="569.75" text-anchor="end" font-size="7.2" fill="#333" textLength="15" lengthAdjust="spacingAndGlyphs">0.00</text>
<text x="428.7" y="550.75" text-anchor="end" font-size="7.2" fill="#333" textLength="15" lengthAdjust="spacingAndGlyphs">0.01</text>
<text x="428.7" y="531.75" text-anchor="end" font-size="7.2" fill="#333" textLength="15" lengthAdjust="spacingAndGlyphs">0.02</text>
<text x="428.7" y="512.75" text-anchor="end" font-size="7.2" fill="#333" textLength="15" lengthAdjust="spacingAndGlyphs">0.03</text>
<line x1="445.00" y1="567.25" x2="445.00" y2="570.25" stroke="#111" stroke-width="0.9"/>
<line x1="462.25" y1="567.25" x2="462.25" y2="570.25" stroke="#111" stroke-width="0.9"/>
<line x1="484.00" y1="567.25" x2="484.00" y2="570.25" stroke="#111" stroke-width="0.9"/>
<line x1="501.45" y1="567.25" x2="501.45" y2="570.25" stroke="#111" stroke-width="0.9"/>
<text x="444.9" y="580.90" text-anchor="middle" font-size="7" fill="#333" textLength="16.2" lengthAdjust="spacingAndGlyphs">Hom</text>
<text x="462.6" y="580.90" text-anchor="middle" font-size="7" fill="#333" textLength="13" lengthAdjust="spacingAndGlyphs">Null</text>
<text x="484.5" y="580.90" text-anchor="middle" font-size="7" fill="#333" textLength="16.2" lengthAdjust="spacingAndGlyphs">Hom</text>
<text x="501.5" y="580.90" text-anchor="middle" font-size="7" fill="#333" textLength="13" lengthAdjust="spacingAndGlyphs">Null</text>
<text transform="translate(408.0 529.02) rotate(-90)" text-anchor="middle" font-size="10" fill="#333" textLength="81.5" lengthAdjust="spacingAndGlyphs">Normalized read counts</text>
<rect x="437" y="647.75" width="16.00" height="21.00" fill="#c20326"/>
<line x1="444.0" y1="647.75" x2="446.0" y2="647.75" stroke="#222" stroke-width="0.6"/>
<rect x="454.5" y="630.25" width="15.50" height="38.50" fill="#c20326"/>
<line x1="461.25" y1="630.25" x2="463.25" y2="630.25" stroke="#222" stroke-width="0.6"/>
<rect x="476" y="599.50" width="16.00" height="69.25" fill="#31a7e0"/>
<line x1="483.0" y1="599.50" x2="485.0" y2="599.50" stroke="#222" stroke-width="0.6"/>
<rect x="493.7" y="597.00" width="15.50" height="71.75" fill="#31a7e0"/>
<line x1="500.45" y1="597.00" x2="502.45" y2="597.00" stroke="#222" stroke-width="0.6"/>
<circle cx="484.00" cy="603.25" r="0.8" fill="#1d4f78"/>
<circle cx="501.45" cy="612" r="0.8" fill="#1d4f78"/>
<circle cx="445.00" cy="652.5" r="0.8" fill="#6e0a1a"/>
<circle cx="462.25" cy="636" r="0.8" fill="#6e0a1a"/>
<line x1="435.6" y1="591" x2="435.6" y2="669.25" stroke="#111" stroke-width="1.0"/>
<line x1="432.6" y1="668.75" x2="511.6" y2="668.75" stroke="#111" stroke-width="1.3"/>
<line x1="432.0" y1="668.75" x2="435.6" y2="668.75" stroke="#111" stroke-width="1.0"/>
<line x1="433.6" y1="658.04" x2="435.6" y2="658.04" stroke="#111" stroke-width="0.8"/>
<line x1="432.0" y1="647.33" x2="435.6" y2="647.33" stroke="#111" stroke-width="1.0"/>
<line x1="433.6" y1="636.62" x2="435.6" y2="636.62" stroke="#111" stroke-width="0.8"/>
<line x1="432.0" y1="625.92" x2="435.6" y2="625.92" stroke="#111" stroke-width="1.0"/>
<line x1="433.6" y1="615.21" x2="435.6" y2="615.21" stroke="#111" stroke-width="0.8"/>
<line x1="432.0" y1="604.50" x2="435.6" y2="604.50" stroke="#111" stroke-width="1.0"/>
<line x1="433.6" y1="593.79" x2="435.6" y2="593.79" stroke="#111" stroke-width="0.8"/>
<text x="428.7" y="671.25" text-anchor="end" font-size="7.2" fill="#333" textLength="15" lengthAdjust="spacingAndGlyphs">0.00</text>
<text x="428.7" y="649.83" text-anchor="end" font-size="7.2" fill="#333" textLength="15" lengthAdjust="spacingAndGlyphs">0.01</text>
<text x="428.7" y="628.42" text-anchor="end" font-size="7.2" fill="#333" textLength="15" lengthAdjust="spacingAndGlyphs">0.02</text>
<text x="428.7" y="607.00" text-anchor="end" font-size="7.2" fill="#333" textLength="15" lengthAdjust="spacingAndGlyphs">0.03</text>
<line x1="445.00" y1="668.75" x2="445.00" y2="671.75" stroke="#111" stroke-width="0.9"/>
<line x1="462.25" y1="668.75" x2="462.25" y2="671.75" stroke="#111" stroke-width="0.9"/>
<line x1="484.00" y1="668.75" x2="484.00" y2="671.75" stroke="#111" stroke-width="0.9"/>
<line x1="501.45" y1="668.75" x2="501.45" y2="671.75" stroke="#111" stroke-width="0.9"/>
<text x="444.9" y="682.90" text-anchor="middle" font-size="7" fill="#333" textLength="16.2" lengthAdjust="spacingAndGlyphs">Hom</text>
<text x="462.6" y="682.90" text-anchor="middle" font-size="7" fill="#333" textLength="13" lengthAdjust="spacingAndGlyphs">Null</text>
<text x="484.5" y="682.90" text-anchor="middle" font-size="7" fill="#333" textLength="16.2" lengthAdjust="spacingAndGlyphs">Hom</text>
<text x="501.5" y="682.90" text-anchor="middle" font-size="7" fill="#333" textLength="13" lengthAdjust="spacingAndGlyphs">Null</text>
<text transform="translate(408.0 629.27) rotate(-90)" text-anchor="middle" font-size="10" fill="#333" textLength="81.5" lengthAdjust="spacingAndGlyphs">Normalized read counts</text>
<rect x="437" y="752.50" width="16.00" height="17.75" fill="#c20326"/>
<line x1="444.0" y1="752.50" x2="446.0" y2="752.50" stroke="#222" stroke-width="0.6"/>
<rect x="454.5" y="750.25" width="15.50" height="20.00" fill="#c20326"/>
<line x1="461.25" y1="750.25" x2="463.25" y2="750.25" stroke="#222" stroke-width="0.6"/>
<rect x="476" y="698.00" width="16.00" height="72.25" fill="#31a7e0"/>
<line x1="483.0" y1="698.00" x2="485.0" y2="698.00" stroke="#222" stroke-width="0.6"/>
<rect x="493.7" y="706.00" width="15.50" height="64.25" fill="#31a7e0"/>
<line x1="500.45" y1="706.00" x2="502.45" y2="706.00" stroke="#222" stroke-width="0.6"/>
<circle cx="484.00" cy="719.25" r="0.8" fill="#1d4f78"/>
<circle cx="501.45" cy="710.25" r="0.8" fill="#1d4f78"/>
<circle cx="445.00" cy="756" r="0.8" fill="#6e0a1a"/>
<circle cx="462.25" cy="753" r="0.8" fill="#6e0a1a"/>
<line x1="435.6" y1="695.5" x2="435.6" y2="770.75" stroke="#111" stroke-width="1.0"/>
<line x1="432.6" y1="770.25" x2="511.6" y2="770.25" stroke="#111" stroke-width="1.3"/>
<line x1="432.0" y1="770.25" x2="435.6" y2="770.25" stroke="#111" stroke-width="1.0"/>
<line x1="433.6" y1="761.62" x2="435.6" y2="761.62" stroke="#111" stroke-width="0.8"/>
<line x1="432.0" y1="753.00" x2="435.6" y2="753.00" stroke="#111" stroke-width="1.0"/>
<line x1="433.6" y1="744.38" x2="435.6" y2="744.38" stroke="#111" stroke-width="0.8"/>
<line x1="432.0" y1="735.75" x2="435.6" y2="735.75" stroke="#111" stroke-width="1.0"/>
<line x1="433.6" y1="727.12" x2="435.6" y2="727.12" stroke="#111" stroke-width="0.8"/>
<line x1="432.0" y1="718.50" x2="435.6" y2="718.50" stroke="#111" stroke-width="1.0"/>
<line x1="433.6" y1="709.88" x2="435.6" y2="709.88" stroke="#111" stroke-width="0.8"/>
<line x1="432.0" y1="701.25" x2="435.6" y2="701.25" stroke="#111" stroke-width="1.0"/>
<text x="428.7" y="772.75" text-anchor="end" font-size="7.2" fill="#333" textLength="15" lengthAdjust="spacingAndGlyphs">0.00</text>
<text x="428.7" y="755.50" text-anchor="end" font-size="7.2" fill="#333" textLength="15" lengthAdjust="spacingAndGlyphs">0.01</text>
<text x="428.7" y="738.25" text-anchor="end" font-size="7.2" fill="#333" textLength="15" lengthAdjust="spacingAndGlyphs">0.02</text>
<text x="428.7" y="721.00" text-anchor="end" font-size="7.2" fill="#333" textLength="15" lengthAdjust="spacingAndGlyphs">0.03</text>
<text x="428.7" y="703.75" text-anchor="end" font-size="7.2" fill="#333" textLength="15" lengthAdjust="spacingAndGlyphs">0.04</text>
<line x1="445.00" y1="770.25" x2="445.00" y2="773.25" stroke="#111" stroke-width="0.9"/>
<line x1="462.25" y1="770.25" x2="462.25" y2="773.25" stroke="#111" stroke-width="0.9"/>
<line x1="484.00" y1="770.25" x2="484.00" y2="773.25" stroke="#111" stroke-width="0.9"/>
<line x1="501.45" y1="770.25" x2="501.45" y2="773.25" stroke="#111" stroke-width="0.9"/>
<text x="444.9" y="784.65" text-anchor="middle" font-size="7" fill="#333" textLength="16.2" lengthAdjust="spacingAndGlyphs">Hom</text>
<text x="462.6" y="784.65" text-anchor="middle" font-size="7" fill="#333" textLength="13" lengthAdjust="spacingAndGlyphs">Null</text>
<text x="484.5" y="784.65" text-anchor="middle" font-size="7" fill="#333" textLength="16.2" lengthAdjust="spacingAndGlyphs">Hom</text>
<text x="501.5" y="784.65" text-anchor="middle" font-size="7" fill="#333" textLength="13" lengthAdjust="spacingAndGlyphs">Null</text>
<text transform="translate(408.0 732.27) rotate(-90)" text-anchor="middle" font-size="10" fill="#333" textLength="81.5" lengthAdjust="spacingAndGlyphs">Normalized read counts</text>
<text x="452.6" y="79" text-anchor="middle" font-size="7.2" font-style="italic" fill="#222" textLength="19.3" lengthAdjust="spacingAndGlyphs">PD-L1</text>
<text x="495.4" y="79" text-anchor="middle" font-size="7.2" font-style="italic" fill="#222" textLength="20.3" lengthAdjust="spacingAndGlyphs">PD-L2</text>
<rect x="0.6" y="0.55" width="518.8" height="799.85" fill="none" stroke="#3a3a3a" stroke-width="1.2"/>
</svg>
</body></html>
